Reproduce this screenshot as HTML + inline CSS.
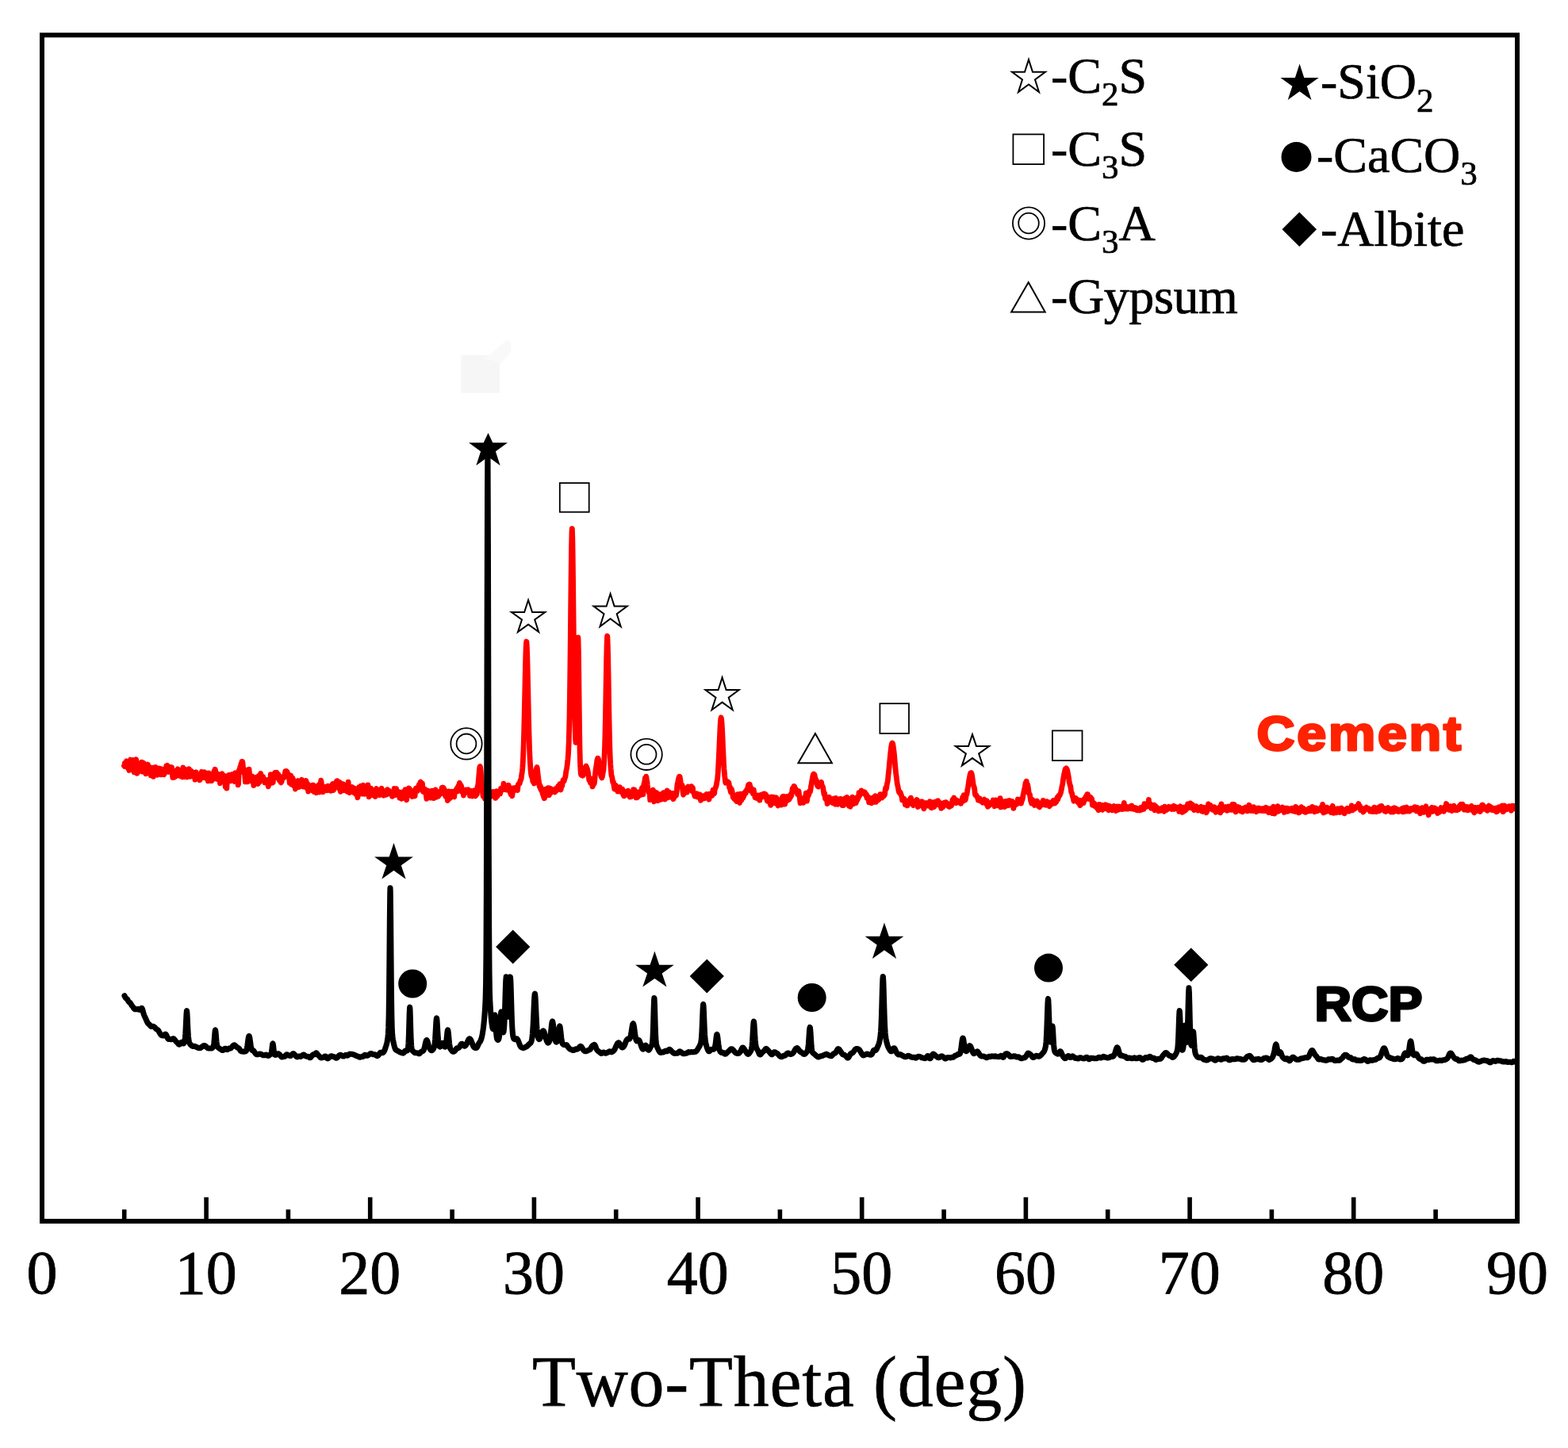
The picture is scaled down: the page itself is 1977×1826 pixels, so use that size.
<!DOCTYPE html>
<html lang="en"><head><meta charset="utf-8"><title>XRD patterns of Cement and RCP</title>
<style>html,body{margin:0;padding:0;background:#fff}body{width:1977px;height:1826px;overflow:hidden}svg{display:block}text{font-family:"Liberation Serif","DejaVu Serif",serif;fill:#000;stroke:#000;stroke-width:.7px;font-kerning:none}.lg{font-size:64px}.sub{font-size:43px}.tk{font-size:78px;text-anchor:middle;stroke-width:.8px}.ax{font-size:90px;stroke-width:.6px}.bl{font-family:"Liberation Sans","DejaVu Sans",sans-serif;font-weight:bold;font-size:62px;stroke-linejoin:round}.o{fill:#fff;stroke:#000;stroke-width:1.8px}</style></head><body>
<svg width="1977" height="1826" viewBox="0 0 1977 1826">
<rect width="1977" height="1826" fill="#fff"/>
<rect x="581.5" y="448" width="48.5" height="47.5" fill="#f6f6f6"/>
<path d="M612 452 L640 428 Q646 432 644 442 Q640 452 630 458 Z" fill="#f9f9f9"/>
<path d="M156.50 965.8L156.92 966.4L157.34 962.5L157.76 963.4L158.18 965.3L158.60 963.6L159.02 961.4L159.44 959.8L159.86 964.8L160.28 965.9L160.70 964.0L161.12 961.9L161.54 968.8L161.96 967.0L162.38 966.4L162.80 971.4L163.22 965.6L163.64 959.6L164.06 959.3L164.48 958.1L164.90 965.6L165.32 964.4L165.74 963.8L166.16 966.4L166.58 961.9L167 963.1L167.42 958.5L167.84 959.7L168.26 962.9L168.68 971.8L169.10 973.7L169.52 968.5L169.94 968.8L170.36 967.5L170.78 967.3L171.20 962.5L171.62 957.7L172.04 959.0L172.46 968.6L172.88 975.3L173.30 970.2L173.72 968.1L174.14 973.4L174.56 970.5L174.98 968.4L175.40 968.2L175.82 966.9L176.24 964.6L176.66 962.9L177.08 967.6L177.50 969.4L177.92 971.3L178.34 965.8L178.76 961.1L179.18 967.4L179.60 973.2L180.02 967.8L180.44 963.4L180.86 961.9L181.28 962.9L181.70 964.8L182.12 966.0L182.54 972.0L182.96 969.8L183.38 970.8L183.80 975.8L184.22 975.7L184.64 970.8L185.06 971.0L185.48 971.8L185.90 967.4L186.32 964.0L186.74 970.6L187.16 973.8L187.58 971.1L188 966.9L188.42 967.3L188.84 967.3L189.26 969.9L189.68 976.0L190.10 977.8L190.52 975.1L190.94 973.9L191.36 973.3L191.78 971.1L192.20 969.4L192.62 968.2L193.04 972.5L193.46 979.4L193.88 976.1L194.30 970.3L194.72 967.9L195.14 968.0L195.56 971.7L195.98 971.2L196.40 967.4L196.82 970.6L197.24 971.8L197.66 976.0L198.08 975.9L198.50 977.2L198.92 972.0L199.34 970.8L199.76 973.9L200.18 976.5L200.60 973.8L201.02 968.9L201.44 971.3L201.86 971.8L202.28 970.1L202.70 971.7L203.12 976.9L203.54 972.1L203.96 969.9L204.38 973.7L204.80 973.6L205.22 973.5L205.64 975.8L206.06 975.8L206.48 975.8L206.90 976.8L207.32 974.2L207.74 970.7L208.16 970.3L208.58 970.9L209 971.6L209.42 967.4L209.84 965.6L210.26 969.4L210.68 966.3L211.10 965.4L211.52 971.3L211.94 971.8L212.36 973.5L212.78 970.8L213.20 967.5L213.62 967.3L214.04 969.9L214.46 971.0L214.88 970.1L215.30 969.9L215.72 968.1L216.14 969.8L216.56 967.5L216.98 972.0L217.40 977.4L217.82 980.5L218.24 979.4L218.66 972.0L219.08 976.5L219.50 980.3L219.92 978.0L220.34 973.0L220.76 976.8L221.18 979.3L221.60 972.3L222.02 975.7L222.44 978.0L222.86 974.3L223.28 974.5L223.70 970.7L224.12 969.8L224.54 971.2L224.96 974.4L225.38 975.9L225.80 976.9L226.22 972.9L226.64 974.7L227.06 978.7L227.48 976.6L227.90 972.2L228.32 975.3L228.74 974.9L229.16 976.5L229.58 978.3L230 979.9L230.42 975.0L230.84 967.9L231.26 969.6L231.68 976.1L232.10 977.0L232.52 979.6L232.94 977.2L233.36 975.0L233.78 977.5L234.20 972.1L234.62 970.6L235.04 978.1L235.46 972.9L235.88 977.2L236.30 980.0L236.72 975.9L237.14 972.0L237.56 975.9L237.98 971.0L238.40 969.8L238.82 974.5L239.24 979.0L239.66 979.4L240.08 979.2L240.50 975.9L240.92 974.2L241.34 972.4L241.76 975.1L242.18 978.0L242.60 977.1L243.02 977.5L243.44 974.9L243.86 974.4L244.28 976.3L244.70 977.2L245.12 979.2L245.54 980.6L245.96 983.1L246.38 978.4L246.80 975.2L247.22 973.7L247.64 977.1L248.06 978.9L248.48 975.9L248.90 977.5L249.32 979.8L249.74 977.6L250.16 977.1L250.58 980.6L251 979.9L251.42 980.9L251.84 983.7L252.26 982.8L252.68 977.7L253.10 976.3L253.52 978.2L253.94 975.9L254.36 973.3L254.78 980.3L255.20 980.6L255.62 979.6L256.04 976.9L256.46 980.7L256.88 977.9L257.30 975.9L257.72 973.6L258.14 976.2L258.56 977.5L258.98 978.4L259.40 980.2L259.82 980.7L260.24 981.6L260.66 977.4L261.08 975.2L261.50 978.6L261.92 982.6L262.34 984.8L262.76 981.3L263.18 974.9L263.60 980.1L264.02 984.5L264.44 980.6L264.86 978.1L265.28 979.2L265.70 978.8L266.12 981.0L266.54 981.8L266.96 984.7L267.38 982.0L267.80 978.6L268.22 981.8L268.64 982.7L269.06 978.3L269.48 975.0L269.90 972.6L270.32 979.2L270.74 976.2L271.16 970.1L271.58 971.3L272 977.9L272.42 982.0L272.84 981.1L273.26 980.1L273.68 975.4L274.10 975.5L274.52 982.0L274.94 982.8L275.36 982.2L275.78 983.3L276.20 978.2L276.62 979.2L277.04 985.3L277.46 987.7L277.88 984.6L278.30 985.3L278.72 980.8L279.14 980.7L279.56 978.5L279.98 975.6L280.40 980.8L280.82 984.1L281.24 982.0L281.66 983.2L282.08 985.7L282.50 979.7L282.92 978.2L283.34 981.4L283.76 984.7L284.18 992.0L284.60 990.4L285.02 985.5L285.44 987.8L285.86 994.1L286.28 985.4L286.70 981.1L287.12 983.6L287.54 984.7L287.96 982.0L288.38 977.4L288.80 977.2L289.22 981.6L289.64 979.8L290.06 977.3L290.48 984.0L290.90 984.8L291.32 981.2L291.74 980.4L292.16 980.9L292.58 977.8L293 976.5L293.42 979.1L293.84 977.4L294.26 979.3L294.68 976.9L295.10 979.3L295.52 982.7L295.94 985.5L296.36 978.2L296.78 974.7L297.20 976.1L297.62 976.0L298.04 978.3L298.46 982.5L298.88 985.5L299.30 986.1L299.72 983.2L300.14 989.9L300.56 988.5L300.98 978.5L301.40 971.5L301.82 974.7L302.24 973.4L302.66 967.6L303.08 968.6L303.50 966.5L303.92 963.3L304.34 963.3L304.76 962.4L305 960.4L305.18 960.4L305.60 960.4L306.02 962.4L306.44 967.2L306.86 971.2L307.28 970.4L307.70 969.7L308.12 975.4L308.54 975.0L308.96 980.5L309.38 985.9L309.80 981.5L310.22 976.1L310.64 977.0L311.06 983.8L311.48 983.9L311.90 985.0L312.32 985.8L312.74 983.0L313.16 980.3L313.58 975.7L314 970.1L314.42 974.4L314.84 980.6L315.26 982.8L315.68 984.1L316.10 983.5L316.52 984.5L316.94 985.0L317.36 981.1L317.78 979.7L318.20 979.1L318.62 984.9L319.04 985.4L319.46 987.2L319.88 990.5L320.30 989.0L320.72 985.8L321.14 984.7L321.56 980.7L321.98 983.8L322.40 983.1L322.82 980.5L323.24 985.7L323.66 984.1L324.08 985.2L324.50 984.8L324.92 988.4L325.34 988.5L325.76 981.4L326.18 978.4L326.60 983.1L327.02 986.4L327.44 983.5L327.86 982.5L328.28 982.1L328.70 975.4L329.12 977.7L329.54 979.6L329.96 983.0L330.38 981.3L330.80 979.8L331.22 980.6L331.64 979.5L332.06 982.2L332.48 982.0L332.90 982.0L333.32 983.1L333.74 986.8L334.16 986.1L334.58 987.0L335 986.1L335.42 983.6L335.84 986.2L336.26 987.0L336.68 985.9L337.10 983.6L337.52 984.2L337.94 989.3L338.36 991.8L338.78 985.4L339.20 985.4L339.62 985.2L340.04 987.5L340.46 988.1L340.88 985.5L341.30 976.6L341.72 978.7L342.14 980.6L342.56 982.2L342.98 981.3L343.40 982.2L343.82 987.1L344.24 986.8L344.66 976.4L345.08 979.0L345.50 982.1L345.92 980.8L346.34 977.7L346.76 974.3L347.18 975.2L347.60 979.3L348.02 980.0L348.44 976.7L348.86 974.2L349 975.3L349.28 976.0L349.70 977.6L350.12 977.1L350.54 976.3L350.96 977.4L351.38 977.3L351.80 982.5L352.22 984.0L352.64 980.2L353.06 981.6L353.48 981.7L353.90 986.3L354.32 986.9L354.74 984.8L355.16 985.5L355.58 982.2L356 979.9L356.42 979.7L356.84 980.2L357.26 979.8L357.68 979.4L358.10 978.3L358.52 980.3L358.94 979.8L359.36 975.0L359.78 972.8L360.20 976.7L360.62 977.9L361 974.6L361.04 972.3L361.46 975.9L361.88 977.8L362.30 973.7L362.72 976.5L363.14 977.0L363.56 977.2L363.98 979.6L364.40 978.7L364.82 983.2L365.24 987.3L365.66 985.0L366.08 980.6L366.50 977.9L366.92 978.4L367.34 981.2L367.76 989.2L368.18 986.8L368.60 982.6L369.02 981.3L369.44 982.6L369.86 984.4L370.28 985.6L370.70 991.1L371.12 987.0L371.54 985.8L371.96 990.3L372.38 995.0L372.80 994.0L373.22 989.3L373.64 989.5L374.06 990.4L374.48 991.2L374.90 989.5L375.32 985.3L375.74 984.6L376.16 987.3L376.58 987.6L377 992.6L377.42 990.1L377.84 986.3L378.26 987.1L378.68 987.8L379.10 990.0L379.52 991.1L379.94 984.6L380.36 983.2L380.78 988.9L381.20 990.3L381.62 991.2L382.04 991.8L382.46 991.3L382.88 991.9L383.30 988.8L383.72 988.9L384.14 986.9L384.56 987.1L384.98 992.0L385.40 991.1L385.82 984.3L386.24 985.8L386.66 991.8L387.08 994.0L387.50 990.0L387.92 988.5L388.34 989.5L388.76 998.2L389.18 996.7L389.60 995.7L390.02 995.7L390.44 995.9L390.86 994.3L391.28 992.2L391.70 993.9L392.12 994.3L392.54 995.1L392.96 990.5L393.38 990.3L393.80 994.8L394.22 996.9L394.64 993.2L395.06 990.0L395.48 990.6L395.90 992.7L396.32 998.7L396.74 998.7L397.16 997.7L397.58 994.3L398 992.6L398.42 997.5L398.84 999.7L399.26 996.4L399.68 994.5L400.10 995.7L400.52 993.6L400.94 994.0L401.36 990.4L401.78 989.8L402.20 994.0L402.62 996.7L403.04 999.0L403.46 994.3L403.88 991.5L404.30 987.4L404.72 984.1L405.14 986.0L405.56 991.3L405.98 991.3L406.40 997.0L406.82 998.7L407.24 996.0L407.66 998.6L408.08 997.2L408.50 997.1L408.92 995.1L409.34 995.3L409.76 992.3L410.18 994.0L410.60 992.7L411.02 993.4L411.44 995.6L411.86 994.9L412.28 994.5L412.70 996.7L413.12 995.5L413.54 991.1L413.96 994.7L414.38 995.6L414.80 992.6L415.22 992.8L415.64 991.8L416.06 996.6L416.48 994.6L416.90 994.8L417.32 997.3L417.74 995.3L418.16 994.4L418.58 990.6L419 989.4L419.42 988.6L419.84 992.6L420.26 996.6L420.68 996.0L421.10 994.9L421.52 989.7L421.94 988.0L422.36 989.6L422.78 991.5L423.20 990.3L423.62 988.2L424.04 987.4L424.46 985.2L424.88 985.4L425 987.1L425.30 984.6L425.72 986.9L426.14 991.0L426.56 990.6L426.98 991.3L427.40 991.9L427.82 994.8L428.24 987.2L428.66 986.8L429.08 991.2L429.50 998.3L429.92 996.9L430.34 992.9L430.76 991.0L431.18 994.7L431.60 994.8L432.02 991.4L432.44 988.7L432.86 990.5L433.28 995.0L433.70 996.6L434.12 995.8L434.54 993.2L434.96 990.0L435.38 992.7L435.80 992.6L436.22 995.2L436.64 996.4L437.06 993.2L437.48 993.2L437.90 998.2L438.32 997.3L438.74 991.2L439.16 986.2L439.58 993.4L440 999.1L440.42 999.6L440.84 994.7L441.26 993.2L441.68 995.1L442.10 997.1L442.52 993.6L442.94 993.9L443.36 993.7L443.78 994.7L444.20 992.5L444.62 995.5L445.04 995.3L445.46 996.2L445.88 999.3L446.30 999.0L446.72 994.1L447.14 998.7L447.56 999.4L447.98 998.3L448.40 1001.3L448.82 1000.5L449.24 1000.6L449.66 995.9L450.08 995.4L450.50 1002.3L450.92 1005.8L451.34 1002.6L451.76 1000.2L452.18 995.4L452.60 992.7L453.02 996.8L453.44 999.6L453.86 992.8L454.28 992.0L454.70 991.3L455.12 996.7L455.54 998.9L455.96 994.5L456.38 996.6L456.80 1001.1L457.22 997.5L457.64 992.5L458.06 990.3L458.48 991.1L458.90 997.2L459.32 997.6L459.74 1001.3L460.16 1001.0L460.58 996.5L461 996.7L461.42 1000.1L461.84 999.7L462.26 997.5L462.68 994.5L463.10 998.2L463.52 994.1L463.94 990.0L464.36 994.6L464.78 1001.2L465.20 1004.8L465.62 998.4L466.04 996.6L466.46 1003.7L466.88 1001.0L467.30 996.9L467.72 994.2L468.14 996.1L468.56 1001.8L468.98 998.9L469.40 996.5L469.82 998.4L470.24 1002.5L470.66 999.5L471.08 1000.6L471.50 1000.7L471.92 999.2L472.34 997.5L472.76 1001.9L473.18 1004.6L473.60 999.8L474.02 995.1L474.44 994.6L474.86 998.1L475.28 998.6L475.70 998.7L476.12 997.8L476.54 995.9L476.96 1000.5L477.38 1000.9L477.80 999.9L478.22 1001.2L478.64 1002.7L479.06 1000.0L479.48 998.5L479.90 1001.8L480.32 998.8L480.74 995.5L481.16 994.3L481.58 997.0L482 996.1L482.42 997.7L482.84 1000.7L483.26 1001.6L483.68 1003.3L484.10 1001.5L484.52 998.7L484.94 998.1L485.36 998.8L485.78 1001.4L486.20 1000.4L486.62 999.8L487.04 1002.2L487.46 1000.7L487.88 997.3L488.30 995.6L488.72 1000.1L489.14 1001.3L489.56 1000.1L489.98 998.1L490.40 997.0L490.82 998.9L491.24 1000.5L491.66 1000.0L492.08 999.3L492.50 999.1L492.92 1001.0L493.34 1000.6L493.76 999.3L494.18 1002.7L494.60 1004.4L495.02 1003.6L495.44 1000.7L495.86 998.6L496.28 997.5L496.70 999.2L497.12 994.5L497.54 996.8L497.96 999.9L498.38 1002.7L498.80 1000.4L499.22 996.2L499.64 994.6L500.06 997.0L500.48 1000.2L500.90 1000.7L501.32 999.4L501.74 998.3L502.16 1000.3L502.58 1002.2L503 998.6L503.42 1001.5L503.84 1006.1L504.26 1003.7L504.68 1000.8L505.10 1001.5L505.52 999.4L505.94 1001.8L506.36 1007.3L506.78 1006.3L507.20 998.8L507.62 1003.3L508.04 1006.7L508.46 1001.7L508.88 1002.8L509.30 1005.1L509.72 1001.6L510.14 1001.7L510.56 999.2L510.98 995.6L511.40 999.8L511.82 1001.8L512.24 1005.7L512.66 1008.8L513.08 1004.9L513.50 1001.2L513.92 1002.2L514.34 1003.0L514.76 1002.6L515.18 996.5L515.60 994.0L516.02 994.3L516.44 1000.4L516.86 1000.7L517.28 998.3L517.70 997.5L518.12 997.4L518.54 997.1L518.96 998.4L519.38 1000.4L519.80 1004.5L520.22 1002.1L520.64 998.1L521.06 999.3L521.48 1003.7L521.90 1003.2L522.32 1002.4L522.74 1004.0L523.16 1003.9L523.58 997.1L524 994.6L524.42 994.1L524.84 998.1L525.26 997.2L525.68 995.1L526.10 995.3L526.52 997.4L526.94 995.3L527.36 994.2L527.78 994.9L528.20 989.8L528.62 989.4L529.04 994.1L529.46 989.7L529.88 986.5L530.30 986.1L530.50 987.8L530.72 990.1L531.14 990.9L531.56 990.5L531.98 988.7L532.40 987.8L532.82 992.9L533.24 998.1L533.66 998.4L534.08 997.0L534.50 998.2L534.92 997.0L535.34 996.4L535.76 994.9L536.18 997.1L536.60 999.3L537.02 1000.2L537.44 1003.8L537.86 1007.4L538.28 1005.5L538.70 1000.1L539.12 997.4L539.54 997.0L539.96 997.2L540.38 1000.2L540.80 1002.2L541.22 1002.0L541.64 1001.8L542.06 1001.4L542.48 1000.1L542.90 1000.6L543.32 1006.2L543.74 1004.8L544.16 998.7L544.58 997.1L545 998.6L545.42 1002.0L545.84 1005.8L546.26 1006.5L546.68 1006.5L547.10 1006.6L547.52 1006.2L547.94 1004.9L548.36 1003.0L548.78 999.5L549.20 996.0L549.62 1000.7L550.04 1005.3L550.46 1000.6L550.88 999.6L551.30 1002.9L551.72 1001.3L552.14 1000.6L552.56 1004.4L552.98 1003.5L553.40 1001.4L553.82 998.5L554.24 999.4L554.66 999.8L555.08 1000.5L555.50 1001.1L555.92 1000.0L556.34 997.6L556.76 996.1L557.18 993.5L557.50 996.2L557.60 996.8L558.02 994.1L558.44 993.1L558.86 993.9L559.28 993.5L559.70 996.8L560.12 997.5L560.54 995.9L560.96 998.8L561.38 1002.9L561.80 1004.3L562.22 1003.5L562.64 1000.5L563.06 999.0L563.48 999.9L563.90 1004.4L564.32 1009.5L564.74 1009.0L565.16 1008.3L565.58 1004.9L566 997.9L566.42 998.7L566.84 1001.1L567.26 1005.9L567.68 1006.5L568.10 1001.2L568.52 1001.3L568.94 1002.3L569.36 999.7L569.78 998.3L570.20 999.5L570.62 1002.0L571.04 1000.5L571.46 1003.4L571.88 1003.0L572.30 1004.5L572.72 1004.9L573.14 999.4L573.56 997.9L573.98 999.3L574.40 996.6L574.82 996.3L575.24 997.9L575.66 997.3L576.08 994.2L576.50 995.3L576.92 998.0L577.34 997.0L577.76 991.7L578.18 995.1L578.60 994.1L579.02 988.7L579.44 987.2L579.86 989.7L580.28 989.6L580.50 990.6L580.70 991.6L581.12 990.3L581.54 991.2L581.96 993.2L582.38 995.9L582.80 999.1L583.22 999.5L583.64 996.9L584.06 997.7L584.48 1003.0L584.90 1001.6L585.32 999.1L585.74 997.1L586.16 999.6L586.58 997.9L587 996.9L587.42 995.9L587.84 997.9L588.26 998.9L588.68 996.1L589.10 997.0L589.52 998.7L589.94 996.4L590.36 995.8L590.78 996.4L591.20 997.2L591.62 1000.7L592.04 1000.1L592.46 1003.5L592.88 1003.5L593.30 999.2L593.72 999.9L594.14 999.0L594.56 997.5L594.98 999.2L595.40 1001.1L595.82 1004.0L596.24 1003.7L596.66 998.9L597.08 999.6L597.50 1003.1L597.92 1002.4L598.34 996.7L598.76 1001.8L599.18 1002.7L599.60 1003.9L600.02 999.7L600.44 997.4L600.86 999.8L601.28 1001.8L601.70 997.1L602.12 991.7L602.54 993.1L602.96 988.0L603.38 983.7L603.80 978.6L604.22 972.9L604.64 968.9L605.06 966.6L605.30 966.5L605.48 967.0L605.90 969.4L606.32 973.4L606.74 980.5L607.16 988.8L607.58 993.9L608 996.0L608.42 999.0L608.84 1001.9L609.26 1004.5L609.68 1004.6L610.10 1000.3L610.52 1000.5L610.94 1005.4L611.36 1007.3L611.78 1004.0L612.20 995.7L612.62 995.0L613.04 992.7L613.46 999.9L613.88 1001.9L614.30 1001.4L614.72 1002.2L615.14 1004.5L615.56 1002.8L615.98 1004.5L616.40 1004.2L616.82 1003.4L617.24 1003.1L617.66 1001.2L618.08 999.3L618.50 1003.0L618.92 1003.9L619.34 1002.5L619.76 1004.1L620.18 1003.2L620.60 998.6L621.02 999.3L621.44 999.0L621.86 998.6L622.28 1000.3L622.70 998.7L623.12 999.4L623.54 1001.5L623.96 1002.4L624.38 1004.1L624.80 1006.4L625.22 1001.5L625.64 999.6L626.06 997.8L626.48 1001.3L626.90 1004.3L627.32 1003.2L627.74 998.7L628.16 998.9L628.58 1001.5L629 1000.1L629.42 999.5L629.84 997.4L630.26 1000.7L630.68 1000.8L631.10 997.8L631.52 994.5L631.94 994.8L632.36 995.7L632.78 995.6L633.20 994.5L633.62 994.1L634.04 995.5L634.46 995.7L634.88 989.6L635 988.2L635.30 988.8L635.72 989.8L636.14 990.1L636.56 994.1L636.98 994.7L637.40 993.6L637.82 993.2L638.24 995.0L638.66 996.1L639.08 996.0L639.50 995.0L639.92 995.9L640.34 994.5L640.76 995.8L641.18 990.1L641.60 992.1L642.02 994.4L642.44 997.1L642.86 996.2L643.28 999.6L643.70 997.3L644.12 1001.8L644.54 1000.6L644.96 998.7L645.38 1000.7L645.80 1003.9L646.22 999.6L646.64 993.9L647.06 998.3L647.48 997.1L647.90 993.8L648.32 996.0L648.74 994.2L649.16 995.6L649.58 995.8L650 994.6L650.42 995.1L650.84 993.0L651.26 993.4L651.68 992.6L652.10 993.9L652.52 996.6L652.94 992.8L653.36 989.2L653.78 989.0L654.20 988.2L654.62 988.5L655.04 988.2L655.46 987.0L655.88 985.4L656.30 983.6L656.72 983.5L657.14 982.1L657.56 978.2L657.98 975.6L658.40 972.7L658.82 968.5L659.24 961.9L659.66 953.2L660.08 942.4L660.50 928.6L660.92 912.4L661.34 894.2L661.76 874.4L662.18 854.2L662.60 835.3L663.02 820.3L663.44 811.5L663.80 809.0L663.86 809.2L664.28 813.7L664.70 824.7L665.12 840.6L665.54 859.5L665.96 879.6L666.38 899.6L666.80 917.3L667.22 932.9L667.64 945.9L668.06 955.3L668.48 962.4L668.90 968.9L669.32 973.9L669.74 977.0L670.16 978.7L670.58 980.1L671 980.8L671.42 982.2L671.84 985.3L672.26 984.3L672.68 983.7L673.10 985.2L673.52 988.0L673.94 986.1L674.36 982.4L674.78 980.2L675.20 978.1L675.62 974.5L676.04 970.3L676.46 969.0L676.88 967.9L677 967.5L677.30 968.5L677.72 971.9L678.14 976.3L678.56 979.5L678.98 982.8L679.40 985.2L679.82 989.6L680.24 991.9L680.66 989.9L681.08 992.3L681.50 994.8L681.92 992.3L682.34 994.8L682.76 997.0L683.18 994.6L683.60 996.9L684.02 1000.4L684.44 1001.8L684.86 1000.2L685.28 1003.9L685.70 1005.1L686.12 1006.7L686.54 1006.6L686.96 1004.5L687.38 1001.8L687.80 996.5L688.22 995.3L688.64 996.4L689.06 998.8L689.48 999.7L689.90 995.2L690.32 995.2L690.74 993.6L691.16 994.6L691.58 1000.3L692 1000.7L692.42 1002.7L692.84 1000.9L693.26 994.9L693.68 994.0L694.10 1000.1L694.52 997.0L694.94 994.8L695.36 997.7L695.50 997.3L695.78 995.3L696.20 995.7L696.62 997.0L697.04 997.7L697.46 998.2L697.88 996.3L698.30 996.1L698.72 998.0L699.14 998.6L699.56 999.0L699.98 996.6L700.40 995.0L700.82 994.6L701.24 997.2L701.66 993.9L702.08 994.2L702.50 993.8L702.92 995.7L703.34 995.4L703.76 991.4L704.18 991.2L704.60 991.0L705.02 994.7L705.44 992.0L705.86 988.7L706.28 990.7L706.70 994.9L707.12 995.9L707.54 993.6L707.96 989.4L708.38 989.7L708.80 991.0L709.22 987.4L709.64 985.4L710.06 983.6L710.48 983.4L710.90 985.5L711.32 984.5L711.74 982.7L712.16 981.5L712.58 980.6L713 978.8L713.42 975.4L713.84 972.4L714.26 970.2L714.68 968.5L715.10 965.1L715.52 961.5L715.94 957.8L716.36 952.9L716.78 946.0L717.20 935.8L717.62 920.9L718.04 900.8L718.46 874.4L718.88 841.2L719.30 803.0L719.72 762.2L720.14 722.9L720.56 690.5L720.98 670.9L721.30 666.7L721.40 666.8L721.82 678.7L722.24 704.4L722.66 739.5L723.08 779.4L723.50 819.4L723.92 854.9L724.34 884.3L724.76 906.8L725.18 922.4L725.60 932.3L726.02 936.3L726.44 933.2L726.86 921.5L727.28 899.1L727.70 867.7L728.12 835.0L728.54 810.7L728.90 804.0L728.96 804.4L729.38 820.8L729.80 853.0L730.22 890.4L730.64 923.4L731.06 947.1L731.48 962.1L731.90 970.3L732.32 976.0L732.74 977.1L733.16 977.6L733.58 976.2L734 976.2L734.42 977.3L734.84 978.2L735.26 977.4L735.68 975.0L736.10 972.5L736.52 972.1L736.94 970.4L737.36 969.9L737.78 968.8L738.20 967.3L738.62 966.3L739 966.0L739.04 966.9L739.46 967.3L739.88 968.2L740.30 969.1L740.72 970.8L741.14 972.4L741.56 975.1L741.98 978.0L742.40 980.9L742.82 983.8L743.24 984.5L743.66 984.6L744.08 985.7L744.50 987.5L744.92 985.6L745.34 985.3L745.76 982.1L746 982.8L746.18 985.2L746.60 987.1L747.02 991.9L747.44 991.2L747.86 985.0L748.28 983.9L748.70 986.3L749.12 988.5L749.54 986.6L749.96 982.2L750.38 977.3L750.80 973.7L751.22 969.7L751.64 967.3L752.06 964.9L752.48 961.6L752.90 958.3L753.32 956.8L753.70 956.5L753.74 956.2L754.16 956.4L754.58 958.0L755 960.3L755.42 963.0L755.84 965.8L756.26 968.8L756.68 971.8L757.10 974.2L757.52 977.5L757.94 979.0L758.36 980.0L758.78 980.9L759.20 980.1L759.62 978.2L760.04 975.4L760.46 973.2L760.88 971.1L761.30 965.9L761.72 960.1L762.14 952.1L762.56 941.0L762.98 925.6L763.40 905.7L763.82 881.4L764.24 855.6L764.66 832.2L765.08 813.7L765.50 803.3L765.70 802.0L765.92 803.9L766.34 815.0L766.76 833.8L767.18 857.7L767.60 883.5L768.02 907.4L768.44 927.4L768.86 943.5L769.28 955.0L769.70 963.5L770.12 969.3L770.54 973.7L770.96 977.9L771.38 978.9L771.80 980.4L772.22 983.6L772.64 986.2L773.06 986.2L773.48 986.4L773.90 989.8L774.32 992.6L774.74 994.9L775.16 992.8L775.58 992.3L776 991.1L776.42 990.4L776.84 994.0L777.26 995.9L777.68 993.3L778.10 992.8L778.52 994.2L778.94 998.1L779.36 997.0L779.78 997.4L780.20 996.1L780.62 996.8L781.04 994.8L781.46 992.6L781.88 997.2L782.30 998.3L782.72 994.5L783.14 996.7L783.56 997.2L783.98 996.4L784.40 996.5L784.82 995.3L785.24 999.9L785.66 1002.0L786.08 998.3L786.50 1000.4L786.92 1003.9L787.34 1001.6L787.76 998.8L788.18 998.3L788.60 1000.4L789.02 1001.2L789.44 1001.1L789.86 998.8L790.28 1002.1L790.70 1001.6L791.12 1001.8L791.54 998.9L791.96 997.1L792.38 998.0L792.80 998.3L793.22 1000.3L793.64 1003.7L794.06 1005.0L794.48 1002.6L794.90 1000.2L795.32 1000.7L795.74 1003.7L796.16 1004.7L796.58 1001.9L797 1000.6L797.42 1000.0L797.84 1002.4L798.26 1001.8L798.68 995.7L799.10 999.3L799.52 998.5L799.94 995.9L800.36 1000.4L800.78 1002.1L801.20 1001.5L801.62 1000.7L802.04 1005.9L802.46 1003.6L802.88 1002.5L803.30 1005.8L803.72 1005.4L804.14 1005.2L804.56 1003.4L804.98 999.0L805.40 1003.4L805.82 1002.1L806.24 1002.4L806.66 1002.9L807.08 1000.3L807.50 1001.5L807.92 1002.4L808.34 1000.9L808.76 999.3L809.18 994.7L809.60 993.4L810.02 994.1L810.44 998.4L810.86 1001.8L811.28 995.0L811.70 989.9L812.12 987.9L812.54 987.0L812.96 984.2L813.38 981.2L813.80 981.8L814 981.7L814.22 981.2L814.64 979.2L815.06 980.8L815.48 984.6L815.90 985.6L816.32 990.1L816.74 993.5L817.16 995.4L817.58 997.4L818 999.0L818.42 999.8L818.84 999.3L819.26 1002.5L819.68 1008.7L820.10 1007.0L820.52 1004.5L820.94 1002.9L821.36 1001.0L821.78 1002.2L822.20 1003.0L822.62 1004.0L823.04 999.4L823.46 996.1L823.88 1000.4L824.30 1006.6L824.72 1010.9L825.14 1007.4L825.56 1002.0L825.98 1001.5L826.40 1001.0L826.82 1001.7L827.24 1000.1L827.66 999.5L828.08 1003.8L828.50 1004.8L828.92 1004.3L829.34 1006.7L829.76 1009.7L830.18 1006.1L830.60 1004.3L831.02 1004.8L831.44 1001.8L831.86 1004.2L832.28 1002.5L832.70 1002.0L833.12 1005.5L833.54 1008.2L833.96 1005.1L834.38 1006.7L834.80 1005.2L835.22 1002.4L835.64 1005.0L836.06 1002.1L836.48 999.7L836.90 1000.8L837.32 1002.7L837.74 1005.0L838.16 1004.8L838.58 1008.0L839 1006.0L839.42 1002.6L839.84 1002.2L840.26 1002.7L840.68 998.0L841.10 996.9L841.52 1001.2L841.94 1005.6L842.36 1005.7L842.78 1004.7L843.20 1002.2L843.62 998.8L844.04 1000.4L844.46 1000.6L844.88 1004.9L845.30 1005.0L845.72 1004.5L846.14 1005.4L846.56 1005.5L846.98 1005.2L847.40 1004.4L847.82 1001.6L848.24 1000.4L848.66 1004.4L849.08 1007.7L849.50 1006.4L849.92 1003.6L850.34 1003.3L850.76 1001.8L851.18 1001.5L851.60 999.9L852.02 1001.2L852.44 1003.4L852.86 1001.0L853.28 997.9L853.70 992.0L854.12 988.7L854.54 987.2L854.96 985.2L855.38 982.6L855.80 981.1L856.22 979.5L856.50 980.4L856.64 980.0L857.06 979.3L857.48 981.5L857.90 984.0L858.32 987.2L858.74 988.9L859.16 992.0L859.58 993.2L860 989.9L860.42 991.9L860.84 997.4L861.26 1000.0L861.68 1002.2L862.10 1000.7L862.52 998.4L862.94 999.8L863.36 999.0L863.78 998.9L864.20 999.0L864.62 998.8L865.04 995.6L865.46 993.7L865.88 994.2L866.30 999.0L866.72 995.3L867.14 992.8L867.56 992.0L867.98 992.3L868.40 993.1L868.82 994.3L869.24 994.0L869.66 993.3L870 992.2L870.08 993.3L870.50 995.2L870.92 994.3L871.34 993.3L871.76 991.6L872.18 995.2L872.60 997.6L873.02 997.7L873.44 993.5L873.86 996.7L874.28 999.2L874.70 999.9L875.12 1000.0L875.54 1002.3L875.96 1004.1L876.38 1003.3L876.80 1002.6L877.22 1002.8L877.64 1003.1L878.06 1003.5L878.48 1001.5L878.90 1000.8L879.32 1005.0L879.74 1002.0L880.16 1002.5L880.58 1001.9L881 1002.9L881.42 1002.9L881.84 1003.9L882.26 1002.5L882.68 1002.2L883.10 1006.4L883.52 1009.3L883.94 1007.6L884.36 1005.4L884.78 1003.3L885.20 1004.9L885.62 1006.0L886.04 1005.2L886.46 1007.1L886.88 1006.4L887.30 1005.9L887.72 1004.2L888.14 1004.1L888.56 1005.8L888.98 1006.6L889.40 1005.5L889.82 1002.5L890.24 1002.5L890.66 1002.8L891.08 1001.5L891.50 1005.8L891.92 1006.1L892.34 1004.3L892.76 1003.4L893.18 1005.3L893.60 1005.5L894.02 1008.1L894.44 1004.8L894.86 1001.1L895.28 1003.2L895.70 1001.9L896.12 1001.0L896.54 1001.3L896.96 1001.7L897.38 1002.6L897.80 1003.3L898.22 1001.7L898.64 998.3L899.06 996.1L899.48 997.0L899.90 999.4L900.32 1001.0L900.74 1000.3L901.16 995.3L901.58 994.8L902 993.9L902.42 992.7L902.84 991.8L903.26 989.8L903.68 987.4L904.10 984.8L904.52 982.7L904.94 979.0L905.36 973.0L905.78 965.4L906.20 957.0L906.62 948.0L907.04 938.3L907.46 928.8L907.88 919.5L908.30 911.9L908.72 906.7L909.14 904.8L909.20 905.1L909.56 906.5L909.98 910.3L910.40 916.9L910.82 924.9L911.24 934.6L911.66 944.6L912.08 954.1L912.50 962.6L912.92 969.5L913.34 974.4L913.76 979.1L914.18 982.3L914.60 986.5L915.02 987.3L915.44 987.2L915.86 986.9L916.28 986.8L916.70 986.2L917.12 985.5L917.54 986.2L917.96 986.3L918.38 986.7L918.50 986.4L918.80 987.0L919.22 988.6L919.64 993.3L920.06 991.7L920.48 992.6L920.90 996.9L921.32 998.9L921.74 996.5L922.16 994.9L922.58 996.0L923 997.8L923.42 999.6L923.84 1002.5L924.26 1005.8L924.68 1006.0L925.10 1003.8L925.52 1005.5L925.94 1007.6L926.36 1008.1L926.78 1004.9L927.20 1003.8L927.62 1007.2L928.04 1008.7L928.46 1007.0L928.88 1010.7L929.30 1010.6L929.72 1005.2L930.14 1001.6L930.56 1002.9L930.98 1004.9L931.40 1005.5L931.82 1004.6L932.24 1011.8L932.66 1012.3L933.08 1004.8L933.50 1001.2L933.92 1004.3L934.34 1007.6L934.76 1009.4L935.18 1007.9L935.60 1003.9L936.02 1001.1L936.44 1005.0L936.86 1006.3L937.28 1004.3L937.70 1004.1L938.12 1003.4L938.54 1001.3L938.96 999.5L939.38 999.9L939.80 998.6L940.22 1000.4L940.64 998.0L941.06 997.4L941.48 995.8L941.90 995.7L942.32 994.9L942.74 994.2L943.16 991.5L943.58 989.8L944 990.8L944.42 990.5L944.84 989.1L945 989.2L945.26 989.2L945.68 991.2L946.10 992.0L946.52 994.2L946.94 997.6L947.36 996.3L947.78 996.4L948.20 997.3L948.62 997.0L949.04 997.6L949.46 1000.8L949.88 1000.5L950.30 996.0L950.72 999.2L951.14 1001.3L951.56 1002.7L951.98 1005.6L952.40 1004.8L952.82 1005.9L953.24 1004.4L953.66 1004.8L954.08 1006.5L954.50 1004.8L954.92 1004.3L955.34 1003.0L955.76 1004.0L956.18 1007.4L956.60 1006.9L957.02 1003.1L957.44 1004.2L957.86 1009.2L958.28 1004.9L958.70 1002.8L959.12 1004.1L959.54 1002.4L959.96 1002.9L960.38 1005.2L960.80 1005.1L961.22 1003.6L961.64 1004.4L962.06 1002.3L962.48 1001.2L962.90 1001.4L963 1001.5L963.32 1002.8L963.74 1002.3L964.16 1001.0L964.58 1002.0L965 1001.6L965.42 1001.8L965.84 1003.9L966.26 1006.6L966.68 1007.2L967.10 1009.5L967.52 1010.1L967.94 1007.0L968.36 1004.9L968.78 1005.2L969.20 1008.2L969.62 1011.1L970.04 1011.3L970.46 1007.5L970.88 1010.5L971.30 1013.8L971.72 1015.4L972.14 1011.3L972.56 1007.9L972.98 1005.0L973.40 1005.2L973.82 1005.2L974.24 1005.3L974.66 1005.2L975.08 1005.1L975.50 1008.3L975.92 1010.9L976.34 1011.6L976.76 1010.9L977.18 1012.8L977.60 1011.7L978.02 1006.8L978.44 1006.8L978.86 1005.8L979.28 1006.6L979.70 1009.3L980.12 1010.9L980.54 1014.7L980.96 1016.0L981.38 1012.3L981.80 1009.7L982.22 1009.3L982.64 1010.1L983.06 1010.5L983.48 1009.1L983.90 1010.4L984.32 1010.6L984.74 1013.2L985.16 1015.1L985.58 1014.7L986 1009.7L986.42 1005.2L986.84 1004.5L987.26 1006.4L987.68 1004.8L988.10 1004.4L988.52 1006.6L988.94 1007.6L989.36 1011.8L989.78 1014.1L990.20 1010.6L990.62 1008.6L991.04 1006.1L991.46 1007.7L991.88 1006.6L992.30 1004.5L992.72 1005.0L993.14 1009.3L993.56 1005.1L993.98 1004.3L994.40 1007.0L994.82 1008.2L995.24 1007.8L995.66 1006.1L996.08 1004.5L996.50 1005.8L996.92 1003.8L997.34 1001.4L997.76 1003.5L998.18 1001.4L998.60 999.7L999.02 995.4L999.44 993.7L999.86 993.7L1000.28 993.7L1000.70 994.0L1001.12 991.5L1001.54 991.9L1001.70 991.8L1001.96 993.3L1002.38 993.6L1002.80 994.3L1003.22 997.5L1003.64 997.3L1004.06 997.7L1004.48 996.4L1004.90 998.3L1005.32 1000.6L1005.74 1001.7L1006.16 1001.5L1006.58 999.7L1007 997.5L1007.42 1001.2L1007.84 1003.3L1008.26 1005.8L1008.68 1010.0L1009.10 1012.7L1009.52 1010.9L1009.94 1010.6L1010.36 1010.3L1010.78 1010.2L1011.20 1009.3L1011.62 1007.4L1012.04 1007.2L1012.46 1009.5L1012.88 1012.3L1013.30 1011.8L1013.72 1010.5L1014.14 1006.2L1014.56 1007.2L1014.98 1008.4L1015.40 1007.2L1015.82 1002.9L1016.24 1000.2L1016.66 1000.4L1017.08 1005.3L1017.50 1010.0L1017.92 1006.4L1018.34 1002.9L1018.76 1003.8L1019.18 1003.3L1019.60 1002.6L1020.02 1000.3L1020.44 997.9L1020.86 998.1L1021.28 998.8L1021.70 997.4L1022.12 995.2L1022.54 991.2L1022.96 989.8L1023.38 986.9L1023.80 984.4L1024.22 982.3L1024.64 979.5L1025.06 977.7L1025.48 976.6L1025.90 976.0L1026 976.1L1026.32 976.3L1026.74 976.6L1027.16 977.7L1027.58 980.2L1028 981.4L1028.42 982.8L1028.84 983.5L1029.26 983.9L1029.68 986.4L1030.10 989.1L1030.52 990.6L1030.94 991.0L1031.36 991.8L1031.78 992.1L1032.20 991.4L1032.62 989.7L1033.04 988.7L1033.46 987.6L1033.88 987.2L1034.30 988.1L1034.72 986.6L1035 987.1L1035.14 987.1L1035.56 986.4L1035.98 989.0L1036.40 990.2L1036.82 991.6L1037.24 992.1L1037.66 992.6L1038.08 995.9L1038.50 998.8L1038.92 1001.5L1039.34 1001.4L1039.76 1000.5L1040.18 1005.0L1040.60 1007.3L1041.02 1007.9L1041.44 1007.3L1041.86 1006.3L1042.28 1007.9L1042.70 1009.7L1043.12 1013.7L1043.54 1009.4L1043.96 1006.3L1044.38 1008.7L1044.80 1011.6L1045.22 1007.6L1045.64 1005.3L1046.06 1011.3L1046.48 1011.4L1046.90 1009.9L1047.32 1010.6L1047.74 1008.0L1048.16 1008.0L1048.58 1011.3L1049 1010.6L1049.42 1011.5L1049.84 1011.9L1050.26 1012.7L1050.68 1010.2L1051.10 1007.2L1051.52 1010.6L1051.94 1011.2L1052.36 1012.9L1052.78 1013.2L1053.20 1014.1L1053.62 1010.1L1054.04 1006.4L1054.46 1009.4L1054.88 1011.9L1055.30 1010.8L1055.72 1011.4L1056.14 1014.3L1056.56 1013.2L1056.98 1013.8L1057.40 1011.6L1057.82 1007.9L1058.24 1008.2L1058.66 1010.4L1059.08 1011.4L1059.50 1009.0L1059.92 1007.2L1060.34 1007.9L1060.76 1009.0L1061.18 1008.9L1061.60 1011.2L1062.02 1015.5L1062.44 1013.1L1062.86 1010.3L1063.28 1012.3L1063.70 1015.6L1064.12 1014.2L1064.54 1010.9L1064.96 1007.4L1065.38 1006.7L1065.80 1009.4L1066.22 1009.8L1066.64 1007.0L1067.06 1007.4L1067.48 1008.7L1067.90 1005.4L1068.32 1006.1L1068.74 1010.5L1069.16 1013.0L1069.58 1013.5L1070 1015.2L1070.42 1016.3L1070.84 1014.5L1071.26 1013.3L1071.68 1017.1L1072.10 1017.3L1072.52 1014.1L1072.94 1010.5L1073.36 1009.8L1073.78 1006.6L1074.20 1006.8L1074.62 1005.1L1075.04 1008.8L1075.46 1012.5L1075.88 1012.6L1076.30 1013.8L1076.72 1011.5L1077.14 1010.0L1077.56 1009.6L1077.98 1010.3L1078.40 1010.3L1078.82 1012.3L1079.24 1012.5L1079.66 1008.9L1080.08 1005.8L1080.50 1007.9L1080.92 1009.3L1081.34 1007.6L1081.76 1006.2L1082.18 1006.4L1082.60 1004.3L1083.02 999.7L1083.44 1003.0L1083.86 1003.1L1084.28 1001.1L1084.70 999.2L1085.12 999.4L1085.54 998.9L1085.96 996.9L1086.38 998.6L1086.70 999.4L1086.80 1000.7L1087.22 999.9L1087.64 998.6L1088.06 999.1L1088.48 1000.2L1088.90 1000.5L1089.32 1000.8L1089.74 999.3L1090.16 998.8L1090.58 999.7L1091 999.8L1091.42 1001.7L1091.84 1003.4L1092.26 1001.6L1092.68 1002.9L1093.10 1006.4L1093.52 1006.2L1093.94 1006.0L1094.36 1004.6L1094.78 1005.0L1095.20 1008.1L1095.62 1011.8L1096.04 1009.6L1096.46 1006.4L1096.88 1009.5L1097.30 1011.8L1097.72 1010.5L1098.14 1007.5L1098.56 1009.9L1098.98 1012.8L1099.40 1009.2L1099.82 1008.8L1100.24 1007.1L1100.66 1005.9L1101.08 1008.1L1101.50 1011.4L1101.92 1011.1L1102.34 1007.4L1102.76 1006.2L1103.18 1004.6L1103.60 1003.7L1104.02 1008.3L1104.44 1011.4L1104.86 1010.4L1105.28 1007.6L1105.70 1009.2L1106 1008.8L1106.12 1006.3L1106.54 1005.6L1106.96 1005.5L1107.38 1007.3L1107.80 1008.7L1108.22 1004.7L1108.64 1003.8L1109.06 1006.6L1109.48 1005.1L1109.90 1001.6L1110.32 1001.9L1110.74 1002.6L1111.16 1003.5L1111.58 1005.3L1112 1006.0L1112.42 1004.2L1112.84 1003.1L1113.26 1002.3L1113.68 1004.3L1114.10 1004.2L1114.52 1001.1L1114.94 1000.3L1115.36 1002.7L1115.78 1000.5L1116.20 996.1L1116.62 993.8L1117.04 994.6L1117.46 994.7L1117.88 991.7L1118.30 989.3L1118.72 987.2L1119.14 985.5L1119.56 982.4L1119.98 977.8L1120.40 974.1L1120.82 970.0L1121.24 965.5L1121.66 960.9L1122.08 956.7L1122.50 952.3L1122.92 948.3L1123.34 944.7L1123.76 941.3L1124.18 939.0L1124.60 937.4L1125 937.0L1125.02 937.1L1125.44 937.4L1125.86 938.8L1126.28 941.8L1126.70 944.7L1127.12 948.0L1127.54 952.0L1127.96 957.1L1128.38 962.1L1128.80 966.9L1129.22 971.2L1129.64 975.1L1130.06 978.8L1130.48 981.6L1130.90 985.4L1131.32 988.8L1131.74 990.2L1132.16 992.2L1132.58 994.5L1133 996.8L1133.42 998.8L1133.84 998.3L1134.26 1000.1L1134.68 998.8L1135.10 999.1L1135.52 1000.2L1135.94 1001.7L1136.36 1002.6L1136.78 1004.4L1137.20 1006.0L1137.62 1008.9L1138.04 1007.5L1138.46 1006.4L1138.88 1007.9L1139.30 1009.1L1139.72 1008.2L1140.14 1007.3L1140.56 1009.0L1140.98 1012.4L1141.40 1014.8L1141.82 1014.8L1142.24 1014.2L1142.66 1014.3L1143.08 1012.9L1143.50 1013.9L1143.92 1015.9L1144.34 1015.8L1144.76 1014.5L1145.18 1011.4L1145.60 1010.4L1146.02 1009.6L1146.44 1011.5L1146.86 1009.7L1147.28 1007.8L1147.70 1009.3L1148.12 1009.7L1148.54 1006.1L1148.96 1007.8L1149.38 1012.5L1149.80 1012.4L1150.22 1010.7L1150.64 1009.8L1151.06 1014.7L1151.48 1015.6L1151.90 1013.5L1152.32 1011.0L1152.74 1013.5L1153.16 1014.8L1153.58 1012.4L1154 1011.5L1154.42 1011.9L1154.84 1013.3L1155.26 1012.4L1155.68 1010.9L1156.10 1008.5L1156.52 1009.2L1156.94 1014.8L1157.36 1017.5L1157.78 1017.0L1158.20 1016.3L1158.62 1013.1L1159.04 1013.0L1159.46 1013.9L1159.88 1014.4L1160.30 1015.6L1160.72 1011.4L1161.14 1011.0L1161.56 1011.8L1161.98 1012.3L1162.40 1013.3L1162.82 1010.9L1163.24 1015.2L1163.66 1016.5L1164.08 1016.1L1164.50 1018.6L1164.92 1019.8L1165.34 1016.5L1165.76 1015.8L1166.18 1015.5L1166.60 1014.8L1167.02 1012.7L1167.44 1012.5L1167.86 1014.3L1168.28 1014.0L1168.70 1016.1L1169.12 1016.0L1169.54 1014.0L1169.96 1014.6L1170.38 1014.5L1170.80 1014.8L1171.22 1016.4L1171.64 1015.2L1172.06 1013.3L1172.48 1010.8L1172.90 1013.0L1173.32 1011.4L1173.74 1013.7L1174.16 1018.6L1174.58 1018.8L1175 1014.0L1175.42 1011.8L1175.84 1013.9L1176.26 1014.0L1176.68 1013.8L1177.10 1012.8L1177.52 1016.8L1177.94 1017.3L1178.36 1012.1L1178.78 1011.4L1179.20 1012.9L1179.62 1014.0L1180.04 1011.1L1180.46 1013.3L1180.88 1013.5L1181.30 1013.1L1181.72 1013.8L1182.14 1009.9L1182.56 1009.7L1182.98 1012.3L1183.40 1015.0L1183.82 1013.6L1184.24 1012.8L1184.66 1014.4L1185.08 1013.2L1185.50 1012.5L1185.92 1013.6L1186.34 1016.8L1186.76 1019.3L1187.18 1014.3L1187.60 1014.1L1188.02 1014.0L1188.44 1014.8L1188.86 1017.8L1189.28 1017.4L1189.70 1015.9L1190.12 1013.2L1190.54 1012.4L1190.96 1013.9L1191.38 1013.4L1191.80 1013.2L1192.22 1014.2L1192.64 1011.6L1193.06 1012.3L1193.48 1015.0L1193.90 1014.9L1194.32 1014.7L1194.74 1013.2L1195.16 1014.3L1195.58 1013.9L1196 1016.7L1196.42 1016.7L1196.84 1016.4L1197.26 1017.4L1197.68 1015.1L1198.10 1013.7L1198.52 1016.4L1198.94 1016.1L1199.36 1016.2L1199.78 1015.2L1200.20 1014.9L1200.62 1011.1L1201.04 1008.7L1201.46 1009.3L1201.88 1011.3L1202.30 1007.4L1202.72 1006.0L1203.14 1007.6L1203.56 1010.7L1203.98 1011.0L1204.40 1009.6L1204.82 1011.2L1205.24 1011.7L1205.66 1012.6L1206 1011.5L1206.08 1009.0L1206.50 1009.3L1206.92 1009.6L1207.34 1010.4L1207.76 1010.3L1208.18 1010.4L1208.60 1011.3L1209.02 1011.1L1209.44 1011.5L1209.86 1010.7L1210.28 1010.6L1210.70 1012.5L1211.12 1013.4L1211.54 1013.4L1211.96 1011.8L1212.38 1010.0L1212.80 1009.9L1213.22 1008.6L1213.64 1005.4L1214.06 1006.6L1214.48 1010.2L1214.90 1007.1L1215.32 1002.7L1215.74 1005.3L1216.16 1006.0L1216.58 1005.4L1217 1008.9L1217.42 1007.9L1217.84 1005.3L1218.26 1002.9L1218.68 1002.1L1219.10 1001.1L1219.52 998.4L1219.94 995.2L1220.36 993.4L1220.78 991.1L1221.20 988.1L1221.62 984.7L1222.04 982.5L1222.46 980.1L1222.88 978.0L1223.30 976.1L1223.72 974.8L1224.14 974.7L1224.20 974.7L1224.56 974.5L1224.98 975.5L1225.40 977.0L1225.82 979.2L1226.24 982.4L1226.66 985.5L1227.08 989.0L1227.50 990.3L1227.92 991.5L1228.34 993.6L1228.76 994.9L1229.18 1000.2L1229.60 1002.0L1230.02 1002.8L1230.44 1003.1L1230.86 1002.7L1231.28 1003.7L1231.70 1004.0L1232.12 1005.1L1232.54 1006.3L1232.96 1006.4L1233.38 1009.1L1233.80 1007.7L1234.22 1008.8L1234.64 1007.4L1235.06 1006.7L1235.48 1009.3L1235.90 1010.0L1236.32 1009.5L1236.74 1009.4L1237.16 1009.3L1237.58 1010.5L1238 1010.0L1238.42 1011.2L1238.84 1012.1L1239.26 1008.9L1239.68 1008.8L1240.10 1009.0L1240.52 1008.5L1240.94 1008.2L1241.36 1010.3L1241.78 1011.6L1242.20 1010.6L1242.62 1009.3L1243.04 1012.6L1243.46 1013.8L1243.88 1012.0L1244.30 1009.8L1244.72 1011.3L1245.14 1016.6L1245.56 1017.2L1245.98 1013.9L1246.40 1011.9L1246.82 1014.4L1247.24 1014.8L1247.66 1015.5L1248.08 1013.0L1248.50 1013.0L1248.92 1013.0L1249.34 1013.6L1249.76 1012.6L1250.18 1013.8L1250.60 1012.1L1251.02 1011.3L1251.44 1013.4L1251.86 1012.3L1252.28 1009.0L1252.70 1011.5L1253.12 1013.3L1253.54 1014.9L1253.96 1016.8L1254.38 1013.3L1254.80 1011.5L1255.22 1008.8L1255.64 1008.8L1256.06 1011.0L1256.48 1012.5L1256.90 1013.3L1257.32 1015.0L1257.74 1015.9L1258.16 1015.8L1258.58 1014.1L1259 1013.8L1259.42 1012.7L1259.84 1014.0L1260.26 1014.2L1260.68 1010.6L1261.10 1006.6L1261.52 1011.8L1261.94 1017.9L1262.36 1014.7L1262.78 1012.5L1263.20 1014.2L1263.62 1016.1L1264.04 1014.9L1264.46 1012.6L1264.88 1010.8L1265.30 1011.4L1265.72 1011.4L1266.14 1014.6L1266.56 1017.6L1266.98 1016.4L1267.40 1012.6L1267.82 1010.5L1268.24 1010.7L1268.66 1014.0L1269.08 1015.7L1269.50 1015.9L1269.92 1014.1L1270.34 1010.4L1270.76 1010.0L1271.18 1014.0L1271.60 1014.1L1272.02 1015.4L1272.44 1010.2L1272.86 1009.6L1273.28 1011.3L1273.70 1014.0L1274.12 1014.8L1274.54 1013.5L1274.96 1013.5L1275.38 1011.2L1275.80 1010.9L1276.22 1010.5L1276.64 1011.2L1277.06 1012.2L1277.48 1015.9L1277.90 1019.3L1278.32 1013.1L1278.74 1012.7L1279.16 1014.6L1279.58 1014.8L1280 1015.3L1280.42 1012.7L1280.84 1013.4L1281.26 1012.6L1281.68 1014.1L1282.10 1013.9L1282.52 1012.9L1282.94 1010.5L1283.36 1008.0L1283.78 1009.6L1284.20 1012.6L1284.62 1012.5L1285.04 1012.3L1285.46 1010.3L1285.88 1012.4L1286.30 1012.0L1286.72 1007.9L1287.14 1010.9L1287.56 1013.1L1287.98 1009.9L1288.40 1010.0L1288.82 1008.9L1289.24 1007.8L1289.66 1004.7L1290.08 1002.1L1290.50 1000.6L1290.92 998.7L1291.34 996.2L1291.76 994.4L1292.18 993.3L1292.60 990.1L1293.02 987.5L1293.44 986.6L1293.86 986.2L1294.20 985.2L1294.28 986.5L1294.70 987.9L1295.12 989.0L1295.54 989.3L1295.96 990.7L1296.38 993.7L1296.80 996.8L1297.22 1000.1L1297.64 1001.1L1298.06 1001.5L1298.48 1002.2L1298.90 1005.0L1299.32 1007.9L1299.74 1010.4L1300.16 1010.9L1300.58 1013.0L1301 1012.9L1301.42 1009.7L1301.84 1008.5L1302.26 1009.6L1302.68 1010.5L1303.10 1011.0L1303.52 1013.5L1303.94 1014.9L1304.36 1015.5L1304.78 1013.8L1305.20 1012.6L1305.62 1012.9L1306.04 1011.9L1306.46 1012.5L1306.88 1012.7L1307.30 1013.3L1307.72 1010.0L1308.14 1014.0L1308.56 1015.7L1308.98 1014.5L1309.40 1014.6L1309.82 1015.3L1310.24 1017.5L1310.66 1017.8L1311.08 1016.1L1311.50 1016.6L1311.92 1014.1L1312.34 1014.6L1312.76 1014.2L1313.18 1012.2L1313.60 1013.4L1314.02 1013.5L1314.44 1014.4L1314.86 1011.7L1315.28 1009.4L1315.70 1010.5L1316.12 1013.3L1316.54 1014.7L1316.96 1014.3L1317.38 1013.3L1317.80 1014.5L1318.22 1013.3L1318.64 1013.8L1319.06 1015.3L1319.48 1012.9L1319.90 1010.7L1320.32 1013.7L1320.74 1013.8L1321.16 1013.7L1321.58 1015.2L1322 1013.6L1322.42 1014.3L1322.84 1015.6L1323.26 1016.8L1323.68 1011.8L1324.10 1012.6L1324.52 1014.3L1324.94 1014.7L1325.36 1012.4L1325.78 1012.2L1326.20 1014.2L1326.62 1012.7L1327.04 1012.5L1327.46 1012.3L1327.88 1011.7L1328.30 1009.4L1328.72 1009.8L1329.14 1011.0L1329.56 1011.9L1329.98 1013.1L1330.40 1012.5L1330.82 1011.7L1331.24 1011.1L1331.66 1011.5L1332.08 1009.1L1332.50 1007.8L1332.92 1005.8L1333.34 1006.3L1333.76 1008.3L1334.18 1006.5L1334.60 1003.8L1335.02 1004.6L1335.44 1004.0L1335.86 1002.5L1336.28 1002.7L1336.70 1001.5L1337.12 1000.5L1337.54 999.5L1337.96 997.0L1338.38 995.7L1338.80 992.9L1339.22 990.7L1339.64 989.1L1340.06 986.2L1340.48 983.1L1340.90 980.7L1341.32 978.3L1341.74 975.8L1342.16 974.1L1342.58 972.2L1343 970.4L1343.42 969.5L1343.84 969.2L1344.20 968.9L1344.26 969.3L1344.68 969.2L1345.10 969.8L1345.52 970.7L1345.94 972.5L1346.36 974.6L1346.78 976.9L1347.20 979.2L1347.62 981.8L1348.04 985.2L1348.46 987.4L1348.88 988.9L1349.30 990.7L1349.72 991.1L1350.14 994.6L1350.56 998.5L1350.98 999.3L1351.40 1000.4L1351.82 1001.2L1352.24 1004.0L1352.66 1005.0L1353.08 1006.0L1353.50 1008.4L1353.92 1010.2L1354.34 1008.7L1354.76 1006.3L1355.18 1008.4L1355.60 1009.0L1356.02 1007.0L1356.44 1006.5L1356.86 1008.4L1357.28 1009.6L1357.70 1010.0L1358.12 1009.8L1358.54 1011.1L1358.96 1011.7L1359.38 1011.4L1359.80 1011.7L1360.22 1010.2L1360.64 1009.1L1361.06 1011.6L1361.48 1015.0L1361.90 1015.7L1362.32 1009.9L1362.74 1009.6L1363.16 1010.3L1363.58 1011.2L1364 1010.5L1364.42 1011.7L1364.84 1012.3L1365.26 1010.1L1365.68 1010.8L1366.10 1012.7L1366.52 1010.7L1366.94 1007.9L1367.36 1009.9L1367.78 1007.7L1368.20 1006.7L1368.62 1005.5L1369.04 1004.5L1369.46 1004.2L1369.88 1004.7L1370.30 1002.9L1370.72 1001.8L1371.14 1002.5L1371.50 1002.7L1371.56 1001.7L1371.98 1003.8L1372.40 1004.1L1372.82 1006.0L1373.24 1007.6L1373.66 1007.3L1374.08 1007.3L1374.50 1006.6L1374.92 1006.0L1375.34 1005.7L1375.76 1008.1L1376.18 1008.2L1376.60 1007.4L1377.02 1011.9L1377.44 1015.3L1377.86 1015.3L1378.28 1015.6L1378.70 1013.7L1379.12 1012.7L1379.54 1014.1L1379.96 1013.9L1380.38 1013.9L1380.80 1016.8L1381.22 1016.3L1381.64 1015.1L1382.06 1016.0L1382.48 1016.6L1382.90 1018.4L1383.32 1019.3L1383.74 1015.9L1384.16 1015.2L1384.58 1020.0L1385 1021.6L1385.42 1016.9L1385.84 1014.4L1386.26 1014.4L1386.68 1016.5L1387.10 1017.3L1387.52 1017.4L1387.94 1018.2L1388.36 1016.1L1388.78 1015.2L1389.20 1015.8L1389.62 1020.0L1390.04 1021.2L1390.46 1020.3L1390.88 1018.0L1391.30 1019.9L1391.72 1019.7L1392.14 1019.8L1392.56 1019.2L1392.98 1017.6L1393.40 1016.5L1393.82 1014.8L1394.24 1015.9L1394.66 1016.6L1395.08 1016.1L1395.50 1018.4L1395.92 1020.2L1396.34 1017.6L1396.76 1015.8L1397.18 1016.4L1397.60 1019.3L1398.02 1021.7L1398.44 1019.9L1398.86 1017.9L1399.28 1016.6L1399.70 1018.7L1400.12 1019.6L1400.54 1018.2L1400.96 1017.9L1401.38 1017.9L1401.80 1020.4L1402.22 1021.7L1402.64 1020.6L1403.06 1019.9L1403.48 1018.7L1403.90 1017.1L1404.32 1016.7L1404.74 1017.6L1405.16 1018.7L1405.58 1019.5L1406 1021.1L1406.42 1021.7L1406.84 1022.5L1407.26 1021.0L1407.68 1019.0L1408.10 1017.9L1408.52 1017.1L1408.94 1020.4L1409.36 1018.7L1409.78 1019.0L1410.20 1021.2L1410.62 1017.8L1411.04 1017.1L1411.46 1018.0L1411.88 1017.9L1412.30 1018.9L1412.72 1019.8L1413.14 1020.2L1413.56 1019.6L1413.98 1020.0L1414.40 1019.3L1414.82 1020.6L1415.24 1020.4L1415.66 1016.6L1416.08 1017.6L1416.50 1017.9L1416.92 1013.9L1417.34 1012.6L1417.76 1017.2L1418.18 1018.6L1418.60 1020.1L1419.02 1019.5L1419.44 1018.9L1419.86 1018.5L1420.28 1018.5L1420.70 1017.3L1421.12 1018.1L1421.54 1020.0L1421.96 1019.5L1422.38 1019.9L1422.80 1019.2L1423.22 1018.0L1423.64 1017.8L1424.06 1019.5L1424.48 1018.4L1424.90 1018.4L1425.32 1016.8L1425.74 1018.9L1426.16 1019.6L1426.58 1017.3L1427 1015.9L1427.42 1017.9L1427.84 1018.9L1428.26 1018.0L1428.68 1018.3L1429.10 1020.3L1429.52 1019.4L1429.94 1019.0L1430.36 1020.4L1430.78 1019.3L1431.20 1018.6L1431.62 1020.1L1432.04 1019.7L1432.46 1020.3L1432.88 1018.9L1433.30 1020.2L1433.72 1021.9L1434.14 1021.2L1434.56 1020.8L1434.98 1020.9L1435.40 1021.1L1435.82 1020.2L1436.24 1020.0L1436.66 1020.3L1437.08 1022.0L1437.50 1019.4L1437.92 1019.6L1438.34 1018.4L1438.76 1020.4L1439.18 1021.2L1439.60 1019.2L1440.02 1020.9L1440.44 1018.0L1440.86 1017.3L1441.28 1018.5L1441.70 1018.0L1442.12 1020.3L1442.54 1018.7L1442.96 1013.7L1443.38 1014.3L1443.80 1016.7L1444.22 1018.1L1444.64 1016.3L1445.06 1016.4L1445.48 1017.4L1445.90 1015.7L1446.32 1015.3L1446.74 1014.0L1447.16 1016.2L1447.58 1016.0L1448 1011.3L1448.40 1008.5L1448.42 1010.1L1448.84 1013.8L1449.26 1014.2L1449.68 1015.3L1450.10 1013.4L1450.52 1013.9L1450.94 1016.8L1451.36 1019.0L1451.78 1017.6L1452.20 1016.7L1452.62 1018.5L1453.04 1019.4L1453.46 1019.7L1453.88 1018.6L1454.30 1017.8L1454.72 1017.2L1455.14 1015.1L1455.56 1018.9L1455.98 1021.7L1456.40 1020.3L1456.82 1017.1L1457.24 1016.9L1457.66 1020.3L1458.08 1019.1L1458.50 1018.9L1458.92 1019.3L1459.34 1018.6L1459.76 1020.1L1460.18 1021.8L1460.60 1020.7L1461.02 1022.7L1461.44 1021.5L1461.86 1021.0L1462.28 1021.9L1462.70 1022.4L1463.12 1022.3L1463.54 1020.9L1463.96 1019.9L1464.38 1021.9L1464.80 1019.8L1465.22 1018.7L1465.64 1021.0L1466.06 1021.2L1466.48 1020.1L1466.90 1020.2L1467.32 1021.9L1467.74 1023.2L1468.16 1019.9L1468.58 1017.2L1469 1018.2L1469.42 1020.0L1469.84 1019.2L1470.26 1018.9L1470.68 1021.0L1471.10 1021.2L1471.52 1020.0L1471.94 1019.7L1472.36 1018.4L1472.78 1018.0L1473.20 1017.9L1473.62 1017.4L1474.04 1019.4L1474.46 1019.4L1474.88 1018.9L1475.30 1019.6L1475.72 1019.5L1476.14 1018.1L1476.56 1017.8L1476.98 1018.7L1477.40 1020.5L1477.82 1017.6L1478.24 1019.0L1478.66 1020.3L1479.08 1017.7L1479.50 1016.8L1479.92 1016.3L1480.34 1016.7L1480.76 1020.3L1481.18 1019.2L1481.60 1017.2L1482.02 1017.9L1482.44 1019.2L1482.86 1018.5L1483.28 1018.1L1483.70 1019.2L1484.12 1018.0L1484.54 1018.3L1484.96 1019.0L1485.38 1018.3L1485.80 1018.8L1486.22 1020.0L1486.64 1023.3L1487.06 1020.7L1487.48 1019.8L1487.90 1017.7L1488.32 1016.9L1488.74 1018.3L1489.16 1018.5L1489.58 1018.6L1490 1019.7L1490.42 1022.0L1490.84 1024.3L1491.26 1024.0L1491.68 1021.8L1492.10 1023.5L1492.52 1022.8L1492.94 1019.0L1493.36 1018.1L1493.78 1019.9L1494.20 1022.3L1494.62 1020.0L1495.04 1019.5L1495.46 1021.1L1495.88 1019.5L1496.30 1019.0L1496.72 1019.8L1497.14 1017.9L1497.56 1014.0L1497.98 1015.2L1498.40 1017.5L1498.82 1016.3L1499.24 1018.2L1499.66 1017.4L1500.08 1016.8L1500.50 1015.6L1500.92 1012.9L1501 1013.2L1501.34 1014.1L1501.76 1016.8L1502.18 1018.9L1502.60 1017.5L1503.02 1016.3L1503.44 1014.5L1503.86 1016.3L1504.28 1017.7L1504.70 1018.6L1505.12 1020.5L1505.54 1021.6L1505.96 1020.0L1506.38 1018.9L1506.80 1017.2L1507.22 1019.2L1507.64 1018.5L1508.06 1016.6L1508.48 1018.4L1508.90 1019.0L1509.32 1020.9L1509.74 1020.8L1510.16 1020.8L1510.58 1022.1L1511 1019.9L1511.42 1018.8L1511.84 1019.3L1512.26 1019.1L1512.68 1018.4L1513.10 1020.1L1513.52 1020.1L1513.94 1017.9L1514.36 1017.3L1514.78 1021.3L1515.20 1022.9L1515.62 1022.5L1516.04 1022.8L1516.46 1023.4L1516.88 1022.2L1517.30 1022.4L1517.72 1019.8L1518.14 1018.2L1518.56 1019.0L1518.98 1019.5L1519.40 1021.4L1519.82 1023.2L1520.24 1022.1L1520.66 1023.0L1521.08 1024.8L1521.50 1023.8L1521.92 1020.4L1522.34 1019.5L1522.76 1021.5L1523.18 1017.2L1523.60 1013.9L1524.02 1014.5L1524.44 1017.5L1524.86 1015.5L1525.28 1015.8L1525.70 1017.2L1526 1018.0L1526.12 1015.5L1526.54 1016.5L1526.96 1018.5L1527.38 1019.9L1527.80 1018.6L1528.22 1018.6L1528.64 1019.1L1529.06 1021.3L1529.48 1021.3L1529.90 1019.7L1530.32 1019.5L1530.74 1017.6L1531.16 1018.5L1531.58 1018.1L1532 1019.3L1532.42 1022.6L1532.84 1024.2L1533.26 1021.6L1533.68 1019.8L1534.10 1019.8L1534.52 1021.0L1534.94 1020.8L1535.36 1022.6L1535.78 1023.6L1536.20 1021.9L1536.62 1020.3L1537.04 1020.7L1537.46 1018.4L1537.88 1017.6L1538.30 1022.2L1538.72 1024.8L1539.14 1023.3L1539.56 1018.4L1539.98 1013.9L1540.40 1017.3L1540.82 1020.5L1541.24 1020.7L1541.66 1021.8L1542.08 1020.0L1542.50 1020.7L1542.92 1021.0L1543.34 1019.9L1543.76 1017.9L1544.18 1019.3L1544.60 1020.2L1545.02 1018.9L1545.44 1017.4L1545.86 1018.0L1546.28 1018.5L1546.70 1020.7L1547.12 1022.2L1547.54 1021.5L1547.96 1020.9L1548.38 1020.1L1548.80 1019.2L1549.22 1017.0L1549.64 1019.6L1550.06 1021.3L1550.48 1020.1L1550.90 1020.0L1551.32 1017.9L1551.74 1019.0L1552.16 1019.8L1552.58 1020.6L1553 1021.4L1553.42 1021.3L1553.84 1014.4L1554.26 1014.4L1554.68 1016.7L1555.10 1017.8L1555.52 1016.9L1555.94 1015.9L1556 1014.5L1556.36 1014.7L1556.78 1017.1L1557.20 1020.2L1557.62 1020.1L1558.04 1023.9L1558.46 1022.6L1558.88 1020.4L1559.30 1021.6L1559.72 1021.3L1560.14 1017.7L1560.56 1017.5L1560.98 1021.0L1561.40 1019.9L1561.82 1021.4L1562.24 1020.8L1562.66 1018.2L1563.08 1020.7L1563.50 1022.3L1563.92 1022.7L1564.34 1021.3L1564.76 1021.3L1565.18 1021.1L1565.60 1021.1L1566.02 1023.5L1566.44 1023.9L1566.86 1023.8L1567.28 1022.5L1567.70 1021.9L1568.12 1019.1L1568.54 1019.3L1568.96 1021.5L1569.38 1020.3L1569.80 1019.6L1570.22 1019.4L1570.64 1017.9L1571.06 1020.0L1571.48 1021.0L1571.90 1019.5L1572.32 1019.4L1572.74 1022.9L1573.16 1021.5L1573.58 1018.6L1574 1017.8L1574.42 1016.2L1574.84 1015.3L1575.26 1015.6L1575.68 1018.1L1576.10 1021.0L1576.52 1021.8L1576.94 1021.3L1577.36 1022.4L1577.78 1021.3L1578.20 1018.4L1578.62 1018.5L1579.04 1020.8L1579.46 1022.3L1579.88 1021.8L1580.30 1017.7L1580.72 1017.6L1581.14 1022.5L1581.56 1021.8L1581.98 1022.0L1582.40 1020.3L1582.82 1019.1L1583.24 1022.3L1583.66 1023.0L1584.08 1023.7L1584.50 1021.8L1584.92 1019.3L1585.34 1020.5L1585.76 1021.8L1586.18 1020.1L1586.60 1021.2L1587.02 1021.9L1587.44 1019.0L1587.86 1019.4L1588.28 1021.2L1588.70 1022.2L1589.12 1020.6L1589.54 1019.7L1589.96 1020.8L1590.38 1020.2L1590.80 1021.2L1591.22 1021.4L1591.64 1021.1L1592.06 1022.6L1592.48 1022.4L1592.90 1019.5L1593.32 1020.7L1593.74 1020.5L1594.16 1020.2L1594.58 1021.3L1595 1022.6L1595.42 1020.9L1595.84 1019.3L1596.26 1018.3L1596.68 1019.6L1597.10 1020.0L1597.52 1018.9L1597.94 1020.0L1598.36 1022.1L1598.78 1023.2L1599.20 1022.4L1599.62 1024.6L1600.04 1024.2L1600.46 1023.2L1600.88 1022.4L1601.30 1021.0L1601.72 1019.8L1602.14 1020.4L1602.56 1021.0L1602.98 1022.1L1603.40 1024.8L1603.82 1025.5L1604.24 1023.6L1604.66 1022.5L1605.08 1019.2L1605.50 1017.2L1605.92 1019.7L1606.34 1022.1L1606.76 1024.9L1607.18 1026.0L1607.60 1023.7L1608.02 1024.1L1608.44 1023.8L1608.86 1022.6L1609.28 1022.8L1609.70 1023.0L1610.12 1023.2L1610.54 1018.8L1610.96 1016.7L1611.38 1020.4L1611.80 1023.2L1612.22 1023.0L1612.64 1021.1L1613.06 1021.3L1613.48 1020.7L1613.90 1021.3L1614.32 1019.6L1614.74 1019.4L1615.16 1021.2L1615.58 1018.7L1616 1018.4L1616.42 1021.5L1616.84 1020.3L1617.26 1018.0L1617.68 1020.9L1618.10 1019.4L1618.52 1019.6L1618.94 1021.8L1619.36 1024.4L1619.78 1022.8L1620.20 1022.6L1620.62 1021.7L1621.04 1021.1L1621.46 1019.1L1621.88 1019.9L1622.30 1019.5L1622.72 1019.3L1623.14 1021.6L1623.56 1023.3L1623.98 1022.4L1624.40 1021.3L1624.82 1021.5L1625.24 1019.9L1625.66 1021.4L1626.08 1022.1L1626.50 1021.2L1626.92 1020.8L1627.34 1020.9L1627.76 1020.2L1628.18 1020.9L1628.60 1021.1L1629.02 1019.2L1629.44 1022.4L1629.86 1022.7L1630.28 1021.2L1630.70 1019.4L1631.12 1019.6L1631.54 1020.3L1631.96 1022.4L1632.38 1023.3L1632.80 1023.5L1633.22 1020.8L1633.64 1017.3L1634.06 1018.2L1634.48 1020.1L1634.90 1020.6L1635.32 1018.8L1635.74 1020.0L1636.16 1020.7L1636.58 1020.2L1637 1021.8L1637.42 1024.8L1637.84 1023.7L1638.26 1024.6L1638.68 1022.3L1639.10 1020.5L1639.52 1021.4L1639.94 1020.7L1640.36 1019.5L1640.78 1017.6L1641.20 1020.1L1641.62 1021.0L1642.04 1022.7L1642.46 1021.7L1642.88 1020.0L1643.30 1019.2L1643.72 1020.3L1644.14 1020.1L1644.56 1020.7L1644.98 1023.7L1645.40 1022.6L1645.82 1023.5L1646.24 1024.3L1646.66 1023.1L1647.08 1022.8L1647.50 1022.9L1647.92 1023.4L1648.34 1023.0L1648.76 1022.4L1649.18 1021.4L1649.60 1020.2L1650.02 1019.8L1650.44 1020.0L1650.86 1021.8L1651.28 1022.8L1651.70 1020.0L1652.12 1019.0L1652.54 1019.1L1652.96 1021.1L1653.38 1022.6L1653.80 1021.3L1654.22 1020.1L1654.64 1017.4L1655.06 1019.8L1655.48 1021.4L1655.90 1019.5L1656.32 1018.4L1656.74 1020.9L1657.16 1022.3L1657.58 1023.7L1658 1021.2L1658.42 1020.4L1658.84 1020.5L1659.26 1020.1L1659.68 1019.1L1660.10 1022.7L1660.52 1022.8L1660.94 1021.0L1661.36 1020.8L1661.78 1022.0L1662.20 1021.8L1662.62 1020.7L1663.04 1020.9L1663.46 1021.4L1663.88 1020.5L1664.30 1020.2L1664.72 1020.1L1665.14 1019.6L1665.56 1018.3L1665.98 1019.1L1666.40 1021.7L1666.82 1022.6L1667.24 1019.5L1667.66 1014.5L1668.08 1017.0L1668.50 1022.0L1668.92 1024.9L1669.34 1024.1L1669.76 1021.5L1670.18 1020.4L1670.60 1021.4L1671.02 1023.9L1671.44 1022.1L1671.86 1020.5L1672.28 1022.7L1672.70 1022.0L1673.12 1018.2L1673.54 1019.7L1673.96 1023.0L1674.38 1022.6L1674.80 1019.9L1675.22 1021.1L1675.64 1022.9L1676.06 1021.8L1676.48 1019.7L1676.90 1020.8L1677.32 1022.5L1677.74 1022.0L1678.16 1021.5L1678.58 1024.7L1679 1022.2L1679.42 1018.8L1679.84 1018.3L1680.26 1016.3L1680.68 1018.7L1681.10 1022.2L1681.52 1025.4L1681.94 1023.3L1682.36 1022.6L1682.78 1022.9L1683.20 1021.9L1683.62 1021.4L1684.04 1023.6L1684.46 1024.0L1684.88 1024.8L1685.30 1023.4L1685.72 1020.3L1686.14 1019.9L1686.56 1020.3L1686.98 1020.8L1687.40 1021.8L1687.82 1021.0L1688.24 1021.0L1688.66 1024.1L1689.08 1024.5L1689.50 1021.7L1689.92 1019.4L1690.34 1019.4L1690.76 1019.3L1691.18 1019.0L1691.60 1019.5L1692.02 1021.4L1692.44 1022.3L1692.86 1021.8L1693.28 1020.4L1693.70 1022.6L1694.12 1025.0L1694.54 1022.9L1694.96 1022.6L1695.38 1025.8L1695.80 1023.2L1696.22 1021.2L1696.64 1022.1L1697.06 1020.6L1697.48 1021.1L1697.90 1022.5L1698.32 1020.2L1698.74 1019.2L1699.16 1022.2L1699.58 1022.4L1700 1019.6L1700.42 1020.7L1700.84 1023.1L1701.26 1022.9L1701.68 1022.8L1702.10 1021.3L1702.52 1020.0L1702.94 1019.9L1703.36 1020.5L1703.78 1019.8L1704.20 1016.0L1704.62 1016.7L1705.04 1020.4L1705.46 1021.8L1705.88 1020.4L1706.30 1020.1L1706.72 1018.5L1707.14 1018.2L1707.56 1020.2L1707.98 1020.2L1708.40 1018.8L1708.82 1017.8L1709.24 1018.9L1709.66 1018.7L1710.08 1017.7L1710.50 1016.9L1710.92 1016.2L1711.34 1016.5L1711.76 1016.8L1712.18 1018.0L1712.40 1017.4L1712.60 1014.8L1713.02 1013.6L1713.44 1015.6L1713.86 1016.6L1714.28 1018.4L1714.70 1016.5L1715.12 1018.3L1715.54 1021.6L1715.96 1021.2L1716.38 1021.8L1716.80 1021.7L1717.22 1020.7L1717.64 1021.3L1718.06 1019.8L1718.48 1021.1L1718.90 1024.0L1719.32 1022.1L1719.74 1021.0L1720.16 1020.3L1720.58 1022.1L1721 1020.0L1721.42 1019.1L1721.84 1019.2L1722.26 1018.5L1722.68 1018.2L1723.10 1019.6L1723.52 1020.2L1723.94 1020.2L1724.36 1019.1L1724.78 1019.1L1725.20 1020.2L1725.62 1020.5L1726.04 1019.7L1726.46 1020.6L1726.88 1021.5L1727.30 1023.2L1727.72 1023.2L1728.14 1023.0L1728.56 1022.8L1728.98 1021.6L1729.40 1023.2L1729.82 1022.0L1730.24 1020.8L1730.66 1021.1L1731.08 1020.8L1731.50 1023.6L1731.92 1021.8L1732.34 1018.4L1732.76 1018.3L1733.18 1019.5L1733.60 1020.3L1734.02 1022.2L1734.44 1023.5L1734.86 1023.7L1735.28 1022.2L1735.70 1020.8L1736.12 1023.2L1736.54 1022.7L1736.96 1018.6L1737.38 1019.1L1737.80 1019.9L1738.22 1020.4L1738.64 1022.7L1739.06 1022.6L1739.48 1020.9L1739.90 1018.2L1740.32 1016.7L1740.74 1018.1L1741.16 1018.8L1741.58 1018.0L1742 1016.4L1742.42 1017.3L1742.84 1019.8L1743.26 1021.1L1743.68 1020.4L1744.10 1020.5L1744.52 1020.9L1744.94 1021.7L1745.36 1022.6L1745.78 1020.7L1746.20 1020.4L1746.62 1019.9L1747.04 1022.7L1747.46 1023.5L1747.88 1023.3L1748.30 1021.8L1748.72 1020.3L1749.14 1019.3L1749.56 1021.6L1749.98 1021.9L1750.40 1018.5L1750.82 1021.9L1751.24 1021.0L1751.66 1021.0L1752.08 1020.1L1752.50 1020.9L1752.92 1022.3L1753.34 1022.4L1753.76 1024.0L1754.18 1022.6L1754.60 1021.9L1755.02 1020.3L1755.44 1019.8L1755.86 1020.6L1756.28 1022.7L1756.70 1024.1L1757.12 1021.4L1757.54 1018.8L1757.96 1018.7L1758.38 1018.9L1758.80 1021.1L1759.22 1020.8L1759.64 1019.3L1760.06 1020.5L1760.48 1022.7L1760.90 1022.1L1761.32 1021.0L1761.74 1022.2L1762.16 1021.9L1762.58 1020.7L1763 1022.2L1763.42 1023.6L1763.84 1021.0L1764.26 1022.1L1764.68 1021.8L1765.10 1022.3L1765.52 1022.3L1765.94 1021.7L1766.36 1021.1L1766.78 1021.4L1767.20 1022.4L1767.62 1021.4L1768.04 1019.4L1768.46 1021.8L1768.88 1023.9L1769.30 1023.4L1769.72 1021.0L1770.14 1018.7L1770.56 1021.4L1770.98 1023.3L1771.40 1023.3L1771.82 1020.3L1772.24 1019.9L1772.66 1019.9L1773.08 1019.3L1773.50 1017.9L1773.92 1019.1L1774.34 1019.9L1774.76 1021.1L1775.18 1023.0L1775.60 1020.7L1776.02 1020.7L1776.44 1022.3L1776.86 1021.5L1777.28 1022.9L1777.70 1022.0L1778.12 1019.9L1778.54 1019.6L1778.96 1020.7L1779.38 1020.8L1779.80 1020.7L1780.22 1020.5L1780.64 1021.2L1781.06 1020.0L1781.48 1019.7L1781.90 1019.7L1782.32 1018.7L1782.74 1019.6L1783.16 1019.6L1783.58 1017.6L1784 1018.0L1784.42 1021.7L1784.84 1021.1L1785.26 1020.3L1785.68 1020.8L1786.10 1022.9L1786.52 1020.5L1786.94 1018.3L1787.36 1020.2L1787.78 1019.9L1788.20 1021.1L1788.62 1021.7L1789.04 1023.2L1789.46 1022.3L1789.88 1021.5L1790.30 1024.6L1790.72 1025.8L1791.14 1022.3L1791.56 1022.7L1791.98 1022.4L1792.40 1021.2L1792.82 1018.7L1793.24 1019.5L1793.66 1022.7L1794.08 1021.7L1794.50 1021.3L1794.92 1024.3L1795.34 1024.3L1795.76 1022.3L1796.18 1019.9L1796.60 1021.2L1797.02 1022.1L1797.44 1017.6L1797.86 1016.8L1798.28 1019.3L1798.70 1022.1L1799.12 1022.1L1799.54 1022.0L1799.96 1021.6L1800.38 1022.0L1800.80 1025.0L1801.22 1027.7L1801.64 1024.5L1802.06 1023.2L1802.48 1021.9L1802.90 1023.3L1803.32 1022.1L1803.74 1021.0L1804.16 1019.8L1804.58 1019.1L1805 1019.0L1805.42 1018.3L1805.84 1019.3L1806.26 1023.4L1806.68 1023.2L1807.10 1023.0L1807.52 1021.4L1807.94 1018.9L1808.36 1019.6L1808.78 1018.9L1809.20 1019.0L1809.62 1020.3L1810.04 1021.1L1810.46 1021.1L1810.88 1020.9L1811.30 1020.5L1811.72 1021.4L1812.14 1024.1L1812.56 1025.6L1812.98 1023.7L1813.40 1021.3L1813.82 1021.8L1814.24 1023.1L1814.66 1023.6L1815.08 1024.0L1815.50 1023.6L1815.92 1021.8L1816.34 1019.5L1816.76 1018.6L1817.18 1021.7L1817.60 1021.5L1818.02 1019.4L1818.44 1019.7L1818.86 1019.4L1819.28 1020.3L1819.70 1022.4L1820.12 1021.7L1820.54 1023.2L1820.96 1020.0L1821.38 1017.9L1821.80 1019.4L1822.22 1021.3L1822.64 1018.4L1823.06 1016.1L1823.48 1013.5L1823.90 1015.0L1824 1014.2L1824.32 1015.9L1824.74 1018.1L1825.16 1017.5L1825.58 1018.2L1826 1017.8L1826.42 1018.1L1826.84 1019.8L1827.26 1021.3L1827.68 1020.4L1828.10 1019.3L1828.52 1017.5L1828.94 1016.9L1829.36 1019.3L1829.78 1020.1L1830.20 1021.2L1830.62 1022.5L1831.04 1021.7L1831.46 1019.6L1831.88 1020.4L1832.30 1020.7L1832.72 1018.8L1833.14 1016.1L1833.56 1017.7L1833.98 1020.1L1834.40 1021.2L1834.82 1019.5L1835.24 1018.7L1835.66 1021.6L1836.08 1020.7L1836.50 1019.9L1836.92 1021.2L1837.34 1021.5L1837.76 1020.1L1838.18 1018.8L1838.60 1019.2L1839.02 1020.8L1839.44 1020.3L1839.86 1019.2L1840.28 1016.3L1840.70 1016.9L1841.12 1017.4L1841.54 1016.1L1841.96 1014.2L1842.38 1016.2L1842.80 1018.9L1843.22 1017.4L1843.50 1015.4L1843.64 1014.4L1844.06 1014.3L1844.48 1016.1L1844.90 1016.1L1845.32 1017.4L1845.74 1020.1L1846.16 1021.1L1846.58 1019.8L1847 1016.9L1847.42 1018.5L1847.84 1020.7L1848.26 1019.4L1848.68 1021.4L1849.10 1021.2L1849.52 1021.3L1849.94 1019.3L1850.36 1017.5L1850.78 1018.7L1851.20 1021.7L1851.62 1019.8L1852.04 1018.5L1852.46 1019.9L1852.88 1018.1L1853.30 1019.3L1853.72 1020.8L1854.14 1021.1L1854.56 1021.0L1854.98 1018.9L1855.40 1016.4L1855.82 1019.2L1856.24 1020.2L1856.66 1020.2L1857.08 1021.4L1857.50 1021.9L1857.92 1022.0L1858.34 1024.1L1858.76 1024.8L1859.18 1021.8L1859.60 1019.2L1860.02 1018.3L1860.44 1019.4L1860.86 1018.7L1861.28 1022.5L1861.70 1022.5L1862.12 1020.4L1862.54 1020.5L1862.96 1018.6L1863.38 1018.4L1863.80 1020.2L1864.22 1019.1L1864.64 1020.0L1865.06 1021.1L1865.48 1022.9L1865.90 1022.6L1866.32 1023.5L1866.74 1022.1L1867.16 1018.8L1867.58 1016.7L1868 1016.1L1868.42 1017.4L1868.84 1015.1L1869.26 1015.8L1869.68 1015.4L1870.10 1018.1L1870.52 1020.4L1870.94 1018.8L1871.36 1018.5L1871.78 1019.2L1872.20 1019.5L1872.62 1018.0L1873.04 1019.4L1873.46 1019.4L1873.88 1017.9L1874.30 1018.7L1874.72 1021.9L1875.14 1022.2L1875.56 1020.8L1875.98 1018.8L1876.40 1018.3L1876.82 1016.8L1877.24 1016.2L1877.66 1017.9L1878.08 1018.0L1878.50 1017.0L1878.92 1017.6L1879.34 1019.6L1879.76 1018.6L1880.18 1018.4L1880.60 1021.4L1881.02 1018.5L1881.44 1018.9L1881.86 1018.9L1882.28 1020.6L1882.70 1021.1L1883.12 1021.7L1883.54 1020.1L1883.96 1019.6L1884.38 1021.9L1884.80 1020.6L1885.22 1019.6L1885.64 1019.2L1886.06 1019.0L1886.48 1021.1L1886.90 1023.7L1887.32 1023.6L1887.74 1021.8L1888.16 1021.6L1888.58 1021.2L1889 1020.3L1889.42 1022.1L1889.84 1020.2L1890.26 1017.6L1890.68 1019.4L1891.10 1019.0L1891.52 1020.3L1891.94 1021.0L1892.36 1020.0L1892.78 1021.0L1893.20 1021.4L1893.62 1017.4L1894.04 1016.1L1894.46 1018.5L1894.88 1020.6L1895.30 1023.7L1895.72 1023.0L1896.14 1021.3L1896.56 1018.9L1896.98 1016.0L1897.40 1016.4L1897.82 1018.6L1898.24 1019.7L1898.66 1019.4L1899.08 1020.2L1899.50 1020.6L1899.92 1018.8L1900.34 1018.2L1900.76 1018.6L1901.18 1020.0L1901.60 1017.6L1902.02 1020.0L1902.44 1020.1L1902.86 1016.7L1903.28 1018.5L1903.70 1020.6L1904.12 1018.6L1904.54 1018.4L1904.96 1020.1L1905.38 1022.2L1905.80 1021.1L1906.22 1018.2L1906.64 1016.3L1907.06 1016.6L1907.48 1018.1L1907.90 1016.1L1908.32 1017.8L1908.74 1019.6L1909.16 1017.9L1909.58 1018.4L1910 1019.7L1910.42 1020.0L1910.84 1018.0L1911.26 1019.0L1911.68 1019.6" fill="none" stroke="#ff0000" stroke-width="6.8" stroke-linejoin="round" stroke-linecap="round"/>
<path d="M157 1255.8L157.40 1256.6L157.80 1257.3L158.20 1258.1L158.60 1258.6L159 1259.1L159.40 1259.3L159.80 1259.6L160.20 1259.9L160.60 1260.3L161 1260.9L161.40 1261.7L161.80 1262.4L162.20 1263.1L162.60 1263.5L163 1263.8L163.40 1264.0L163.80 1264.3L164.20 1264.7L164.60 1265.4L165 1266.1L165.40 1266.8L165.80 1267.4L166.20 1268.0L166.60 1268.4L167 1268.9L167.40 1269.4L167.80 1270.0L168.20 1270.7L168.60 1271.3L169 1271.8L169.40 1272.2L169.80 1272.5L170.20 1272.7L170.60 1272.8L171 1272.8L171.40 1272.8L171.80 1272.8L172.20 1272.7L172.60 1272.6L173 1272.5L173.40 1272.5L173.80 1272.4L174.20 1272.5L174.60 1272.6L175 1272.9L175.40 1273.2L175.80 1273.4L176.20 1273.5L176.60 1273.5L177 1273.2L177.40 1272.6L177.80 1272.0L178.20 1271.5L178.60 1271.3L179 1271.5L179.40 1272.3L179.80 1273.5L180.20 1275.0L180.60 1276.6L181 1278.1L181.40 1279.4L181.80 1280.4L182.20 1281.3L182.60 1282.1L183 1283.0L183.40 1283.9L183.80 1284.8L184.20 1285.7L184.60 1286.6L185 1287.5L185.40 1288.4L185.80 1289.2L186.20 1290.0L186.60 1290.5L187 1291.0L187.40 1291.3L187.80 1291.5L188.20 1291.8L188.60 1292.2L189 1292.7L189.40 1293.3L189.80 1293.8L190.20 1294.2L190.60 1294.4L191 1294.5L191.40 1294.4L191.80 1294.3L192.20 1294.3L192.60 1294.3L193 1294.3L193.40 1294.4L193.80 1294.6L194.20 1294.8L194.60 1295.1L195 1295.4L195.40 1295.8L195.80 1296.2L196.20 1296.7L196.60 1297.2L197 1297.6L197.40 1297.9L197.80 1298.1L198.20 1298.3L198.60 1298.5L199 1298.8L199.40 1299.3L199.80 1299.8L200.20 1300.5L200.60 1301.2L201 1301.9L201.40 1302.6L201.80 1303.3L202.20 1304.0L202.60 1304.5L203 1305.0L203.40 1305.3L203.80 1305.5L204.20 1305.7L204.60 1305.8L205 1305.9L205.40 1306.0L205.80 1306.0L206.20 1306.0L206.60 1305.8L207 1305.5L207.40 1305.0L207.80 1304.6L208.20 1304.2L208.60 1304.1L209 1304.2L209.40 1304.7L209.80 1305.4L210.20 1306.4L210.60 1307.4L211 1308.4L211.40 1309.3L211.80 1309.9L212.20 1310.3L212.60 1310.5L213 1310.5L213.40 1310.4L213.80 1310.4L214.20 1310.4L214.60 1310.5L215 1310.6L215.40 1310.7L215.80 1310.7L216.20 1310.6L216.60 1310.5L217 1310.3L217.40 1310.1L217.80 1309.9L218.20 1309.8L218.60 1309.8L219 1309.9L219.40 1310.2L219.80 1310.6L220.20 1311.1L220.60 1311.6L221 1312.1L221.40 1312.7L221.80 1313.1L222.20 1313.6L222.60 1314.0L223 1314.3L223.40 1314.7L223.80 1315.1L224.20 1315.6L224.60 1316.1L225 1316.6L225.40 1317.0L225.80 1317.1L226.20 1317.1L226.60 1316.8L227 1316.3L227.40 1315.7L227.80 1315.1L228.20 1314.6L228.60 1314.4L229 1314.4L229.40 1314.6L229.80 1315.0L230.20 1315.5L230.60 1315.9L231 1316.0L231.40 1316.0L231.80 1315.5L232.20 1314.7L232.60 1313.5L233 1311.5L233.40 1308.4L233.80 1303.5L234.20 1296.4L234.60 1287.6L235 1279.3L235.40 1274.9L235.50 1274.7L235.80 1276.5L236.20 1283.5L236.60 1292.7L237 1300.6L237.40 1306.6L237.80 1310.6L238.20 1313.0L238.60 1314.5L239 1315.6L239.40 1316.3L239.80 1316.9L240.20 1317.3L240.60 1317.7L241 1318.0L241.40 1318.4L241.80 1318.7L242.20 1319.0L242.60 1319.2L243 1319.4L243.40 1319.5L243.80 1319.5L244.20 1319.5L244.60 1319.4L245 1319.4L245.40 1319.4L245.80 1319.5L246.20 1319.7L246.60 1319.9L247 1320.1L247.40 1320.3L247.80 1320.4L248.20 1320.6L248.60 1320.7L249 1321.0L249.40 1321.2L249.80 1321.4L250.20 1321.5L250.60 1321.5L251 1321.6L251.40 1321.6L251.80 1321.6L252.20 1321.6L252.60 1321.5L253 1321.3L253.40 1321.0L253.80 1320.7L254.20 1320.5L254.60 1320.2L255 1319.9L255.40 1319.6L255.80 1319.3L256.20 1319.0L256.60 1318.7L257 1318.5L257.40 1318.5L257.80 1318.5L258.20 1318.7L258.60 1318.8L259 1319.1L259.40 1319.4L259.80 1319.8L260.20 1320.2L260.60 1320.6L261 1321.0L261.40 1321.4L261.80 1321.6L262.20 1321.8L262.60 1321.9L263 1322.0L263.40 1322.0L263.80 1322.0L264.20 1322.0L264.60 1322.0L265 1322.0L265.40 1322.0L265.80 1322.0L266.20 1322.0L266.60 1322.0L267 1321.8L267.40 1321.6L267.80 1321.3L268.20 1320.9L268.60 1320.4L269 1319.7L269.40 1318.2L269.80 1315.7L270.20 1311.6L270.60 1306.5L271 1301.7L271.40 1299.1L271.50 1299.0L271.80 1300.0L272.20 1303.9L272.60 1309.0L273 1313.6L273.40 1316.9L273.80 1318.8L274.20 1319.9L274.60 1320.5L275 1320.9L275.40 1321.2L275.80 1321.5L276.20 1321.8L276.60 1322.1L277 1322.3L277.40 1322.6L277.80 1322.9L278.20 1323.2L278.60 1323.4L279 1323.7L279.40 1324.0L279.80 1324.2L280.20 1324.4L280.60 1324.5L281 1324.4L281.40 1324.3L281.80 1324.0L282.20 1323.6L282.60 1323.2L283 1322.7L283.40 1322.4L283.80 1322.2L284.20 1322.3L284.60 1322.5L285 1322.9L285.40 1323.2L285.80 1323.5L286.20 1323.6L286.60 1323.5L287 1323.3L287.40 1323.0L287.80 1322.7L288.20 1322.4L288.60 1322.2L289 1322.0L289.40 1322.0L289.80 1322.1L290.20 1322.1L290.60 1322.0L291 1321.9L291.40 1321.5L291.80 1321.1L292.20 1320.6L292.60 1320.1L293 1319.6L293.40 1319.1L293.80 1318.7L294.20 1318.3L294.60 1318.1L295 1317.9L295.40 1317.8L295.80 1317.9L296.20 1318.2L296.60 1318.5L297 1318.9L297.40 1319.4L297.80 1319.8L298.20 1320.2L298.60 1320.5L299 1320.8L299.40 1321.0L299.80 1321.2L300.20 1321.4L300.60 1321.6L301 1321.9L301.40 1322.3L301.80 1322.8L302.20 1323.4L302.60 1324.1L303 1324.7L303.40 1325.2L303.80 1325.5L304.20 1325.7L304.60 1325.8L305 1325.9L305.40 1325.9L305.80 1326.0L306.20 1326.1L306.60 1326.1L307 1326.1L307.40 1326.1L307.80 1326.1L308.20 1326.0L308.60 1326.0L309 1326.0L309.40 1325.9L309.80 1325.8L310.20 1325.4L310.60 1324.7L311 1323.5L311.40 1321.7L311.80 1319.3L312.20 1316.4L312.60 1313.3L313 1310.3L313.40 1308.0L313.80 1306.7L314 1306.5L314.20 1306.6L314.60 1307.8L315 1309.9L315.40 1312.7L315.80 1315.7L316.20 1318.5L316.60 1320.9L317 1322.6L317.40 1323.8L317.80 1324.4L318.20 1324.6L318.60 1324.7L319 1324.7L319.40 1324.8L319.80 1325.1L320.20 1325.6L320.60 1326.2L321 1326.9L321.40 1327.5L321.80 1328.1L322.20 1328.6L322.60 1329.0L323 1329.4L323.40 1329.6L323.80 1329.7L324.20 1329.8L324.60 1329.8L325 1329.7L325.40 1329.6L325.80 1329.4L326.20 1329.3L326.60 1329.1L327 1329.1L327.40 1329.0L327.80 1329.0L328.20 1329.1L328.60 1329.2L329 1329.3L329.40 1329.5L329.80 1329.6L330.20 1329.9L330.60 1330.1L331 1330.3L331.40 1330.5L331.80 1330.7L332.20 1330.8L332.60 1330.8L333 1330.8L333.40 1330.7L333.80 1330.5L334.20 1330.4L334.60 1330.2L335 1330.1L335.40 1330.1L335.80 1330.2L336.20 1330.4L336.60 1330.7L337 1331.0L337.40 1331.2L337.80 1331.4L338.20 1331.4L338.60 1331.3L339 1331.1L339.40 1330.8L339.80 1330.4L340.20 1330.1L340.60 1329.9L341 1329.7L341.40 1329.4L341.80 1328.8L342.20 1327.6L342.60 1325.4L343 1322.1L343.40 1318.6L343.80 1316.2L344 1316.0L344.20 1316.5L344.60 1319.2L345 1323.0L345.40 1326.4L345.80 1328.6L346.20 1329.7L346.60 1330.2L347 1330.4L347.40 1330.4L347.80 1330.3L348.20 1330.1L348.60 1329.8L349 1329.4L349.40 1329.1L349.80 1328.9L350.20 1328.7L350.60 1328.7L351 1328.8L351.40 1329.0L351.80 1329.3L352.20 1329.6L352.60 1329.9L353 1330.4L353.40 1331.0L353.80 1331.6L354.20 1332.1L354.60 1332.6L355 1332.8L355.40 1333.0L355.80 1332.9L356.20 1332.8L356.60 1332.7L357 1332.5L357.40 1332.4L357.80 1332.3L358.20 1332.3L358.60 1332.3L359 1332.3L359.40 1332.0L359.80 1331.6L360.20 1331.0L360.60 1330.4L361 1330.0L361.40 1329.7L361.80 1329.7L362.20 1329.9L362.60 1330.2L363 1330.4L363.40 1330.6L363.80 1330.8L364.20 1330.9L364.60 1331.1L365 1331.2L365.40 1331.4L365.80 1331.5L366.20 1331.5L366.60 1331.3L367 1331.0L367.40 1330.6L367.80 1330.2L368.20 1329.8L368.60 1329.4L369 1329.0L369.40 1328.8L369.80 1328.6L370 1328.6L370.20 1328.7L370.60 1329.0L371 1329.4L371.40 1329.9L371.80 1330.3L372.20 1330.7L372.60 1331.1L373 1331.5L373.40 1332.0L373.80 1332.4L374.20 1332.7L374.60 1332.9L375 1332.9L375.40 1332.7L375.80 1332.5L376.20 1332.3L376.60 1332.1L377 1332.0L377.40 1332.0L377.80 1332.1L378.20 1332.3L378.60 1332.4L379 1332.4L379.40 1332.4L379.80 1332.2L380.20 1331.8L380.60 1331.4L381 1331.0L381.40 1330.6L381.80 1330.3L382.20 1330.1L382.60 1330.0L383 1330.0L383.40 1330.2L383.80 1330.5L384.20 1330.8L384.60 1331.2L385 1331.5L385.40 1331.8L385.80 1331.9L386.20 1332.1L386.60 1332.2L387 1332.2L387.40 1332.3L387.80 1332.3L388.20 1332.4L388.60 1332.5L389 1332.7L389.40 1332.9L389.80 1333.2L390.20 1333.5L390.60 1333.7L391 1333.8L391.40 1333.6L391.80 1333.3L392.20 1332.9L392.60 1332.4L393 1331.8L393.40 1331.3L393.80 1330.8L394.20 1330.3L394.60 1330.0L395 1329.8L395.40 1329.8L395.80 1329.8L396.20 1329.8L396.60 1329.8L397 1329.6L397.40 1329.2L397.80 1328.7L398 1328.3L398.20 1327.9L398.60 1327.8L399 1327.9L399.40 1328.3L399.80 1328.9L400.20 1329.5L400.60 1330.0L401 1330.5L401.40 1330.8L401.80 1331.1L402.20 1331.5L402.60 1331.9L403 1332.4L403.40 1332.9L403.80 1333.4L404.20 1333.7L404.60 1333.9L405 1333.9L405.40 1333.9L405.80 1333.8L406.20 1333.7L406.60 1333.6L407 1333.5L407.40 1333.4L407.80 1333.3L408.20 1333.1L408.60 1332.8L409 1332.5L409.40 1332.2L409.80 1332.0L410.20 1332.0L410.60 1332.1L411 1332.5L411.40 1333.0L411.80 1333.7L412.20 1334.2L412.60 1334.7L413 1334.9L413.40 1334.9L413.80 1334.7L414.20 1334.4L414.60 1333.9L415 1333.5L415.40 1333.1L415.80 1332.7L416.20 1332.4L416.60 1332.2L417 1332.0L417.40 1331.9L417.80 1331.8L418.20 1331.8L418.60 1331.9L419 1332.1L419.40 1332.3L419.80 1332.4L420.20 1332.5L420.60 1332.6L421 1332.6L421.40 1332.7L421.80 1332.9L422.20 1333.2L422.60 1333.5L423 1333.8L423.40 1334.1L423.80 1334.2L424.20 1334.2L424.60 1334.1L425 1333.8L425.40 1333.5L425.80 1333.0L426.20 1332.5L426.60 1332.0L427 1331.6L427.40 1331.2L427.80 1330.9L428.20 1330.6L428.60 1330.5L429 1330.4L429.40 1330.3L429.80 1330.4L430.20 1330.6L430.60 1330.9L431 1331.2L431.40 1331.5L431.80 1331.7L432.20 1331.9L432.60 1332.0L433 1332.0L433.40 1332.0L433.80 1331.8L434.20 1331.6L434.60 1331.2L435 1330.9L435.40 1330.6L435.80 1330.4L436.20 1330.4L436.60 1330.5L437 1330.7L437.40 1330.9L437.80 1331.1L438.20 1331.1L438.60 1331.0L439 1330.7L439.40 1330.3L439.80 1329.8L440.20 1329.5L440.60 1329.3L441 1329.1L441.40 1329.1L441.80 1329.2L442.20 1329.2L442.60 1329.2L443 1329.3L443.40 1329.3L443.80 1329.4L444.20 1329.5L444.60 1329.6L445 1329.7L445.40 1329.8L445.80 1329.9L446.20 1330.0L446.60 1330.1L447 1330.3L447.40 1330.4L447.80 1330.6L448.20 1330.8L448.60 1331.1L449 1331.3L449.40 1331.6L449.80 1331.7L450.20 1331.8L450.60 1331.9L451 1331.9L451.40 1332.1L451.80 1332.3L452.20 1332.5L452.60 1332.8L453 1333.0L453.40 1333.1L453.80 1333.2L454.20 1333.1L454.60 1333.0L455 1332.8L455.40 1332.6L455.80 1332.5L456.20 1332.4L456.60 1332.4L457 1332.5L457.40 1332.5L457.80 1332.3L458.20 1332.1L458.60 1331.6L459 1331.1L459.40 1330.7L459.80 1330.4L460.20 1330.3L460.60 1330.4L461 1330.6L461.40 1330.9L461.80 1331.1L462.20 1331.3L462.60 1331.3L463 1331.3L463.40 1331.1L463.80 1330.9L464.20 1330.7L464.60 1330.5L465 1330.2L465.40 1329.8L465.80 1329.5L466.20 1329.2L466.60 1328.9L467 1328.7L467.40 1328.6L467.80 1328.5L468.20 1328.6L468.60 1328.7L469 1328.9L469.40 1329.1L469.80 1329.3L470.20 1329.5L470.60 1329.7L471 1329.8L471.40 1329.8L471.80 1329.7L472.20 1329.7L472.60 1329.7L473 1329.9L473.40 1330.2L473.80 1330.5L474.20 1330.9L474.60 1331.2L475 1331.5L475.40 1331.6L475.80 1331.6L476.20 1331.4L476.60 1331.1L477 1330.8L477.40 1330.3L477.80 1329.7L478.20 1329.0L478.60 1328.4L479 1327.9L479.40 1327.5L479.80 1327.3L480.20 1327.3L480.60 1327.4L481 1327.5L481.40 1327.6L481.80 1327.6L482.20 1327.6L482.60 1327.5L483 1327.3L483.40 1327.0L483.80 1326.6L484.20 1325.9L484.60 1325.1L485 1324.2L485.40 1323.1L485.80 1321.9L486.20 1320.7L486.60 1319.5L487 1318.2L487.40 1316.9L487.80 1315.3L488.20 1313.5L488.60 1311.2L489 1308.2L489.40 1303.8L489.80 1295.9L490.20 1280.1L490.60 1251.0L491 1207.2L491.40 1158.2L491.80 1124.7L492 1119.9L492.20 1124.6L492.60 1158.1L493 1207.0L493.40 1250.8L493.80 1279.9L494.20 1295.6L494.60 1303.6L495 1307.7L495.40 1310.6L495.80 1313.0L496.20 1315.1L496.60 1316.9L497 1318.5L497.40 1320.0L497.80 1321.3L498.20 1322.4L498.60 1323.2L499 1323.8L499.40 1324.2L499.80 1324.4L500.20 1324.5L500.60 1324.6L501 1324.8L501.40 1325.1L501.80 1325.3L502.20 1325.6L502.60 1325.9L503 1326.1L503.40 1326.3L503.80 1326.5L504.20 1326.7L504.60 1327.0L505 1327.1L505.40 1327.3L505.80 1327.4L506.20 1327.5L506.60 1327.6L507 1327.7L507.40 1327.9L507.80 1328.0L508.20 1328.1L508.60 1328.0L509 1327.7L509.40 1327.3L509.80 1326.7L510.20 1326.0L510.60 1325.5L511 1325.1L511.40 1324.9L511.80 1324.9L512.20 1324.9L512.60 1325.1L513 1325.1L513.40 1324.9L513.80 1324.5L514.20 1323.4L514.60 1321.1L515 1316.0L515.40 1306.5L515.80 1292.9L516.20 1278.7L516.60 1270.5L516.70 1270.1L517 1273.4L517.40 1285.4L517.80 1300.0L518.20 1311.5L518.60 1318.3L519 1321.7L519.40 1323.4L519.80 1324.4L520.20 1325.0L520.60 1325.5L521 1325.9L521.40 1326.2L521.80 1326.6L522.20 1327.0L522.60 1327.3L523 1327.6L523.40 1327.7L523.80 1327.8L524.20 1327.8L524.60 1327.8L525 1327.8L525.40 1327.8L525.80 1327.9L526.20 1327.9L526.60 1328.0L527 1328.2L527.40 1328.4L527.80 1328.6L528.20 1328.7L528.60 1328.7L529 1328.5L529.40 1328.2L529.80 1327.7L530.20 1327.3L530.60 1326.8L531 1326.5L531.40 1326.2L531.80 1326.0L532.20 1325.9L532.60 1325.7L533 1325.5L533.40 1325.3L533.80 1324.8L534.20 1324.2L534.60 1323.2L535 1321.9L535.40 1320.3L535.80 1318.5L536.20 1316.6L536.60 1314.8L537 1313.3L537.40 1312.2L537.80 1311.6L538 1311.6L538.20 1311.8L538.60 1312.4L539 1313.4L539.40 1314.7L539.80 1316.2L540.20 1317.7L540.60 1319.0L541 1320.2L541.40 1321.2L541.80 1322.1L542.20 1322.8L542.60 1323.5L543 1324.0L543.40 1324.4L543.80 1324.7L544.20 1324.7L544.60 1324.6L545 1324.3L545.40 1324.0L545.80 1323.5L546.20 1323.0L546.60 1322.3L547 1321.5L547.40 1320.3L547.80 1318.4L548.20 1315.5L548.60 1311.0L549 1304.8L549.40 1297.4L549.80 1290.2L550.20 1285.2L550.50 1283.9L550.60 1284.0L551 1287.0L551.40 1293.2L551.80 1300.6L552.20 1307.0L552.60 1311.9L553 1315.3L553.40 1317.6L553.80 1318.9L554.20 1319.7L554.60 1320.1L555 1320.1L555.40 1319.7L555.80 1319.1L556.20 1318.3L556.60 1317.4L557 1316.5L557.40 1315.8L557.80 1315.3L558 1315.3L558.20 1315.3L558.60 1315.8L559 1316.5L559.40 1317.4L559.80 1318.4L560.20 1319.3L560.60 1319.9L561 1320.2L561.40 1320.0L561.80 1319.2L562.20 1317.5L562.60 1314.9L563 1311.3L563.40 1307.1L563.80 1303.0L564.20 1300.0L564.60 1298.9L565 1300.1L565.40 1303.3L565.80 1307.6L566.20 1312.1L566.60 1316.1L567 1319.1L567.40 1321.1L567.80 1322.4L568.20 1323.1L568.60 1323.6L569 1324.1L569.40 1324.6L569.80 1325.1L570.20 1325.6L570.60 1325.9L571 1326.1L571.40 1326.2L571.80 1326.2L572.20 1326.1L572.60 1325.9L573 1325.6L573.40 1325.3L573.80 1324.8L574.20 1324.3L574.60 1323.7L575 1323.1L575.40 1322.5L575.80 1322.1L576.20 1321.8L576.60 1321.7L577 1321.6L577.40 1321.7L577.80 1321.6L578.20 1321.5L578.60 1321.2L579 1320.8L579.40 1320.2L579.80 1319.6L580.20 1318.8L580.60 1318.1L581 1317.4L581.40 1316.8L581.80 1316.4L582.20 1316.2L582.30 1316.2L582.60 1316.3L583 1316.6L583.40 1317.1L583.80 1317.6L584.20 1318.1L584.60 1318.6L585 1318.9L585.40 1319.1L585.80 1319.2L586.20 1319.1L586.60 1318.8L587 1318.5L587.40 1318.0L587.80 1317.4L588.20 1316.7L588.60 1315.9L589 1315.0L589.40 1314.0L589.80 1313.0L590.20 1312.1L590.60 1311.3L591 1310.6L591.40 1310.1L591.80 1309.9L592 1309.9L592.20 1309.9L592.60 1310.1L593 1310.5L593.40 1311.1L593.80 1311.8L594.20 1312.6L594.60 1313.6L595 1314.7L595.40 1315.8L595.80 1316.9L596.20 1318.0L596.60 1318.9L597 1319.7L597.40 1320.3L597.80 1320.7L598.20 1321.0L598.60 1321.2L599 1321.4L599.40 1321.5L599.80 1321.5L600.20 1321.5L600.60 1321.4L601 1321.2L601.40 1320.7L601.80 1320.0L602.20 1319.2L602.60 1318.3L603 1317.4L603.40 1316.5L603.80 1315.7L604.20 1315.1L604.60 1314.5L605 1314.0L605.40 1313.4L605.80 1312.7L606.20 1311.8L606.60 1310.7L607 1309.4L607.40 1308.0L607.80 1306.2L608.20 1304.2L608.60 1301.9L609 1299.3L609.40 1296.4L609.80 1293.1L610.20 1289.2L610.60 1284.8L611 1279.8L611.40 1274.0L611.80 1267.2L612.20 1258.1L612.60 1241.6L613 1204.3L613.40 1121.8L613.80 973.9L614.20 779.4L614.60 616.1L614.90 572.0L615 577.0L615.40 687.2L615.80 878.6L616.20 1055.8L616.60 1169.8L617 1226.1L617.40 1250.4L617.80 1262.0L618.20 1269.4L618.60 1275.4L619 1280.5L619.40 1284.8L619.80 1288.6L620.20 1291.7L620.60 1294.2L621 1296.2L621.40 1297.4L621.80 1297.7L622.20 1296.4L622.60 1293.2L623 1288.3L623.40 1283.1L623.80 1280.0L624 1279.9L624.20 1280.8L624.60 1285.6L625 1292.5L625.40 1299.2L625.80 1304.4L626.20 1307.8L626.60 1309.8L627 1310.9L627.40 1311.4L627.80 1311.5L628.20 1311.3L628.60 1310.8L629 1309.6L629.40 1307.6L629.80 1304.3L630.20 1299.3L630.60 1292.8L631 1285.6L631.40 1279.5L631.80 1276.3L631.90 1276.0L632.20 1276.9L632.60 1281.0L633 1287.0L633.40 1293.2L633.80 1298.0L634.20 1300.9L634.60 1301.9L635 1300.9L635.40 1298.0L635.80 1292.7L636.20 1284.3L636.60 1272.9L637 1259.4L637.40 1246.0L637.80 1236.0L638.20 1231.9L638.60 1235.0L639 1244.0L639.40 1256.1L639.80 1268.0L640.20 1277.2L640.60 1282.1L641 1282.1L641.40 1277.2L641.80 1267.9L642.20 1255.9L642.60 1243.7L643 1234.8L643.40 1231.9L643.80 1236.2L644.20 1246.7L644.60 1260.5L645 1274.6L645.40 1286.5L645.80 1295.4L646.20 1301.4L646.60 1305.1L647 1307.4L647.40 1308.8L647.80 1309.7L648.20 1310.2L648.60 1310.6L649 1310.7L649.40 1310.6L649.80 1310.5L650.20 1310.2L650.60 1310.0L651 1309.9L651.40 1309.9L651.80 1310.0L652 1310.2L652.20 1310.4L652.60 1311.0L653 1311.7L653.40 1312.5L653.80 1313.5L654.20 1314.5L654.60 1315.6L655 1316.7L655.40 1317.8L655.80 1318.7L656.20 1319.4L656.60 1320.0L657 1320.4L657.40 1320.7L657.80 1320.9L658.20 1321.1L658.60 1321.2L659 1321.4L659.40 1321.5L659.80 1321.6L660.20 1321.5L660.60 1321.4L661 1321.2L661.40 1321.0L661.80 1320.8L662.20 1320.6L662.60 1320.4L663 1320.2L663.40 1320.0L663.80 1319.8L664.20 1319.6L664.60 1319.3L665 1319.0L665.40 1318.6L665.80 1318.2L666.20 1317.7L666.60 1317.2L667 1316.8L667.40 1316.5L667.80 1316.2L668.20 1316.0L668.60 1315.6L669 1315.2L669.40 1314.5L669.80 1313.6L670.20 1312.3L670.60 1310.4L671 1307.8L671.40 1304.0L671.80 1298.8L672.20 1292.2L672.60 1284.0L673 1274.6L673.40 1265.4L673.80 1257.9L674.20 1253.7L674.40 1253.1L674.60 1253.6L675 1257.7L675.40 1265.0L675.80 1274.0L676.20 1283.1L676.60 1291.1L677 1297.5L677.40 1302.1L677.80 1305.2L678.20 1307.4L678.60 1308.8L679 1309.8L679.40 1310.3L679.80 1310.6L680.20 1310.5L680.60 1310.1L681 1309.4L681.40 1308.4L681.80 1307.3L682.20 1306.0L682.60 1304.7L683 1303.4L683.40 1302.2L683.80 1301.2L684.20 1300.4L684.60 1300.0L685 1299.9L685.40 1300.2L685.80 1300.8L686.20 1301.8L686.60 1303.0L687 1304.4L687.40 1306.0L687.80 1307.5L688.20 1309.0L688.60 1310.4L689 1311.6L689.40 1312.7L689.80 1313.6L690.20 1314.3L690.60 1314.8L691 1315.1L691.40 1315.1L691.80 1314.7L692.20 1314.1L692.60 1313.2L693 1312.0L693.40 1310.4L693.80 1308.1L694.20 1305.1L694.60 1301.5L695 1297.5L695.40 1293.7L695.80 1290.5L696.20 1288.5L696.50 1288.0L696.60 1288.1L697 1289.2L697.40 1291.8L697.80 1295.3L698.20 1299.1L698.60 1302.9L699 1306.2L699.40 1308.8L699.80 1310.8L700.20 1312.3L700.60 1313.2L701 1313.8L701.40 1314.1L701.80 1314.1L702.20 1313.7L702.60 1312.9L703 1311.5L703.40 1309.3L703.80 1306.4L704.20 1302.9L704.60 1299.3L705 1296.3L705.40 1294.4L705.70 1294.0L705.80 1294.1L706.20 1295.5L706.60 1298.3L707 1301.9L707.40 1305.7L707.80 1309.2L708.20 1312.0L708.60 1314.1L709 1315.5L709.40 1316.4L709.80 1316.9L710.20 1317.2L710.60 1317.4L711 1317.5L711.40 1317.6L711.80 1317.7L712.20 1317.7L712.60 1317.8L713 1317.8L713.40 1317.7L713.80 1317.7L714 1317.6L714.20 1317.6L714.60 1317.9L715 1318.4L715.40 1318.9L715.80 1319.6L716.20 1320.2L716.60 1320.8L717 1321.3L717.40 1321.8L717.80 1322.2L718.20 1322.5L718.60 1322.8L719 1323.0L719.40 1323.3L719.80 1323.4L720.20 1323.6L720.60 1323.7L721 1323.8L721.40 1324.0L721.80 1324.2L722.20 1324.3L722.60 1324.5L723 1324.5L723.40 1324.4L723.80 1324.3L724.20 1324.0L724.60 1323.6L725 1323.3L725.40 1323.1L725.80 1322.9L726.20 1322.9L726.60 1323.0L727 1323.1L727.40 1323.1L727.80 1323.1L728.20 1323.0L728.60 1322.7L729 1322.4L729.40 1322.0L729.80 1321.5L730.20 1321.0L730.60 1320.5L731 1320.0L731.40 1319.6L731.80 1319.4L732 1319.4L732.20 1319.4L732.60 1319.6L733 1320.0L733.40 1320.5L733.80 1321.1L734.20 1321.8L734.60 1322.5L735 1323.1L735.40 1323.7L735.80 1324.3L736.20 1324.7L736.60 1325.0L737 1325.3L737.40 1325.5L737.80 1325.6L738.20 1325.7L738.60 1325.7L739 1325.6L739.40 1325.4L739.80 1325.3L740.20 1325.1L740.60 1325.0L741 1324.8L741.40 1324.5L741.80 1324.3L742.20 1324.1L742.60 1324.1L743 1324.0L743.40 1323.9L743.80 1323.7L744.20 1323.3L744.60 1322.7L745 1321.9L745.40 1321.1L745.80 1320.4L746.20 1319.7L746.60 1319.2L747 1318.8L747.40 1318.5L747.80 1318.1L748.20 1317.8L748.60 1317.6L749 1317.4L749.40 1317.4L749.80 1317.7L750.20 1318.2L750.60 1319.1L751 1320.1L751.40 1321.1L751.80 1322.1L752.20 1323.0L752.60 1323.7L753 1324.2L753.40 1324.7L753.80 1325.1L754.20 1325.5L754.60 1325.8L755 1326.1L755.40 1326.4L755.80 1326.7L756.20 1327.0L756.60 1327.3L757 1327.7L757.40 1328.1L757.80 1328.4L758.20 1328.5L758.60 1328.5L759 1328.2L759.40 1327.9L759.80 1327.5L760.20 1327.2L760.60 1327.1L761 1327.0L761.40 1327.1L761.80 1327.3L762.20 1327.6L762.60 1327.8L763 1328.1L763.40 1328.2L763.80 1328.2L764.20 1328.1L764.60 1327.9L765 1327.7L765.40 1327.5L765.80 1327.3L766.20 1327.1L766.60 1326.9L767 1326.6L767.40 1326.4L767.80 1326.1L768.20 1325.9L768.60 1325.9L769 1325.9L769.40 1326.0L769.80 1326.3L770.20 1326.5L770.60 1326.6L771 1326.7L771.40 1326.6L771.80 1326.4L772.20 1326.2L772.60 1325.9L773 1325.7L773.40 1325.3L773.80 1325.0L774.20 1324.5L774.60 1323.9L775 1323.2L775.40 1322.3L775.80 1321.5L776.20 1320.6L776.60 1319.7L777 1318.8L777.40 1318.0L777.80 1317.2L778.20 1316.5L778.60 1315.8L779 1315.3L779.40 1315.0L779.70 1314.9L779.80 1314.9L780.20 1315.0L780.60 1315.2L781 1315.7L781.40 1316.2L781.80 1316.9L782.20 1317.7L782.60 1318.6L783 1319.4L783.40 1320.0L783.80 1320.5L784.20 1320.9L784.60 1321.0L785 1320.9L785.40 1320.7L785.80 1320.4L786.20 1320.0L786.60 1319.4L787 1318.8L787.40 1318.0L787.80 1317.1L788.20 1316.1L788.60 1315.0L789 1313.9L789.40 1313.0L789.80 1312.1L790.20 1311.4L790.60 1310.9L791 1310.5L791.40 1310.3L791.80 1310.2L792.20 1310.2L792.60 1310.2L793 1310.3L793.40 1310.2L793.80 1310.0L794.20 1309.4L794.60 1308.5L795 1307.1L795.40 1305.3L795.80 1303.2L796.20 1300.6L796.60 1297.8L797 1295.2L797.40 1293.0L797.80 1291.5L798.20 1290.9L798.30 1290.8L798.60 1291.2L799 1292.5L799.40 1294.6L799.80 1297.3L800.20 1300.4L800.60 1303.4L801 1306.1L801.40 1308.5L801.80 1310.4L802.20 1311.8L802.60 1312.5L803 1312.9L803.40 1312.8L803.80 1312.5L804.20 1312.1L804.60 1311.8L805 1311.6L805.40 1311.6L805.80 1311.9L806 1312.2L806.20 1312.7L806.60 1313.5L807 1314.5L807.40 1315.7L807.80 1316.9L808.20 1318.2L808.60 1319.4L809 1320.5L809.40 1321.4L809.80 1322.3L810.20 1322.9L810.60 1323.1L811 1323.1L811.40 1322.6L811.80 1321.8L812.20 1320.9L812.60 1319.9L813 1319.1L813.40 1318.5L813.80 1318.2L814 1318.1L814.20 1318.3L814.60 1318.8L815 1319.6L815.40 1320.5L815.80 1321.5L816.20 1322.4L816.60 1323.1L817 1323.7L817.40 1324.1L817.80 1324.2L818.20 1324.0L818.60 1323.6L819 1323.0L819.40 1322.2L819.80 1321.3L820.20 1320.5L820.60 1319.9L821 1319.3L821.40 1318.8L821.80 1318.1L822.20 1316.8L822.60 1314.3L823 1309.4L823.40 1300.7L823.80 1287.7L824.20 1272.9L824.60 1261.4L824.90 1258.5L825 1258.8L825.40 1266.4L825.80 1280.4L826.20 1294.8L826.60 1305.8L827 1312.5L827.40 1316.2L827.80 1318.2L828.20 1319.4L828.60 1320.4L829 1321.3L829.40 1322.1L829.80 1323.0L830.20 1323.8L830.60 1324.6L831 1325.4L831.40 1326.1L831.80 1326.6L832.20 1327.0L832.60 1327.3L833 1327.4L833.40 1327.4L833.80 1327.3L834.20 1327.1L834.60 1327.0L835 1326.9L835.40 1326.9L835.80 1327.0L836.20 1326.9L836.60 1326.8L837 1326.6L837.40 1326.3L837.80 1326.0L838.20 1325.6L838.60 1325.4L839 1325.3L839.40 1325.3L839.80 1325.4L840.20 1325.6L840.60 1325.8L841 1325.8L841.40 1325.7L841.80 1325.4L842.20 1324.9L842.60 1324.4L843 1323.9L843.40 1323.6L843.80 1323.4L844.20 1323.4L844.60 1323.5L845 1323.8L845.40 1324.2L845.80 1324.6L846.20 1325.0L846.60 1325.5L847 1325.9L847.40 1326.4L847.80 1326.7L848.20 1327.1L848.60 1327.4L849 1327.7L849.40 1328.0L849.80 1328.2L850.20 1328.4L850.60 1328.4L851 1328.4L851.40 1328.3L851.80 1328.3L852.20 1328.2L852.60 1328.2L853 1328.3L853.40 1328.3L853.80 1328.3L854.20 1328.2L854.60 1327.9L855 1327.5L855.40 1327.1L855.80 1326.6L856.20 1326.3L856.60 1326.0L857 1325.9L857.40 1326.0L857.80 1326.2L858.20 1326.5L858.60 1326.7L859 1327.0L859.40 1327.4L859.80 1327.7L860.20 1328.0L860.60 1328.3L861 1328.6L861.40 1328.7L861.80 1328.8L862.20 1328.8L862.60 1328.7L863 1328.6L863.40 1328.6L863.80 1328.5L864.20 1328.4L864.60 1328.4L865 1328.3L865.40 1328.2L865.80 1328.1L866.20 1327.9L866.60 1327.6L867 1327.3L867.40 1327.0L867.80 1326.8L868.20 1326.6L868.60 1326.6L869 1326.7L869.40 1326.8L869.80 1326.9L870.20 1326.9L870.60 1326.8L871 1326.7L871.40 1326.6L871.80 1326.6L872.20 1326.6L872.60 1326.7L873 1326.7L873.40 1326.8L873.80 1326.7L874.20 1326.7L874.60 1326.6L875 1326.5L875.40 1326.5L875.80 1326.4L876.20 1326.4L876.60 1326.3L877 1326.2L877.40 1326.0L877.80 1325.7L878.20 1325.3L878.60 1324.8L879 1324.2L879.40 1323.6L879.80 1322.9L880.20 1322.2L880.60 1321.6L881 1321.0L881.40 1320.3L881.80 1319.6L882.20 1318.9L882.60 1318.0L883 1317.0L883.40 1315.7L883.80 1314.1L884.20 1311.5L884.60 1307.2L885 1300.5L885.40 1291.3L885.80 1280.8L886.20 1271.5L886.60 1266.7L886.70 1266.5L887 1268.4L887.40 1275.7L887.80 1286.1L888.20 1296.2L888.60 1304.2L889 1309.7L889.40 1313.2L889.80 1315.5L890.20 1317.2L890.60 1318.6L891 1319.9L891.40 1321.1L891.80 1322.2L892.20 1323.3L892.60 1324.2L893 1325.0L893.40 1325.5L893.80 1325.8L894.20 1325.8L894.60 1325.5L895 1325.2L895.40 1324.7L895.80 1324.2L896.20 1323.8L896.60 1323.5L897 1323.4L897.40 1323.3L897.80 1323.2L898.20 1323.2L898.60 1323.2L899 1323.2L899.40 1323.2L899.80 1323.2L900.20 1323.1L900.60 1322.7L901 1322.0L901.40 1320.8L901.80 1318.7L902.20 1315.9L902.60 1312.6L903 1309.1L903.40 1306.2L903.80 1304.6L904 1304.4L904.20 1304.7L904.60 1306.4L905 1309.4L905.40 1313.0L905.80 1316.5L906.20 1319.4L906.60 1321.7L907 1323.4L907.40 1324.6L907.80 1325.5L908.20 1326.2L908.60 1326.7L909 1327.1L909.40 1327.3L909.80 1327.4L910.20 1327.4L910.60 1327.3L911 1327.3L911.40 1327.3L911.80 1327.5L912.20 1327.7L912.60 1328.1L913 1328.5L913.40 1328.8L913.80 1329.0L914.20 1329.1L914.60 1329.1L915 1329.0L915.40 1328.8L915.80 1328.4L916.20 1328.0L916.60 1327.6L917 1327.1L917.40 1326.7L917.80 1326.3L918.20 1326.0L918.60 1325.7L919 1325.4L919.40 1325.0L919.80 1324.6L920.20 1324.2L920.60 1323.8L921 1323.3L921.40 1323.0L921.80 1322.8L922 1322.7L922.20 1322.7L922.60 1322.7L923 1322.9L923.40 1323.2L923.80 1323.5L924.20 1323.9L924.60 1324.3L925 1324.8L925.40 1325.3L925.80 1325.9L926.20 1326.4L926.60 1326.8L927 1327.2L927.40 1327.5L927.80 1327.8L928.20 1328.0L928.60 1328.1L929 1328.2L929.40 1328.4L929.80 1328.5L930.20 1328.5L930.60 1328.5L931 1328.4L931.40 1328.3L931.80 1328.0L932.20 1327.7L932.60 1327.3L933 1326.9L933.40 1326.4L933.80 1325.7L934.20 1324.9L934.60 1324.0L935 1323.1L935.40 1322.3L935.80 1321.7L936 1321.3L936.20 1321.0L936.60 1321.0L937 1321.2L937.40 1321.6L937.80 1322.1L938.20 1322.7L938.60 1323.3L939 1323.9L939.40 1324.5L939.80 1325.1L940.20 1325.7L940.60 1326.3L941 1327.0L941.40 1327.6L941.80 1328.2L942.20 1328.7L942.60 1329.1L943 1329.3L943.40 1329.4L943.80 1329.2L944.20 1328.9L944.60 1328.4L945 1327.8L945.40 1327.2L945.80 1326.6L946.20 1326.0L946.60 1325.4L947 1324.6L947.40 1323.5L947.80 1321.6L948.20 1318.4L948.60 1313.5L949 1306.7L949.40 1299.3L949.80 1292.6L950.20 1288.6L950.40 1288.1L950.60 1288.5L951 1292.4L951.40 1299.0L951.80 1306.0L952.20 1311.8L952.60 1316.0L953 1318.7L953.40 1320.5L953.80 1321.7L954.20 1322.5L954.60 1323.1L955 1323.8L955.40 1324.5L955.80 1325.4L956.20 1326.4L956.60 1327.5L957 1328.5L957.40 1329.2L957.80 1329.7L958.20 1330.0L958.60 1329.9L959 1329.7L959.40 1329.3L959.80 1328.9L960.20 1328.4L960.60 1327.9L961 1327.4L961.40 1326.9L961.80 1326.5L962.20 1326.2L962.60 1325.9L963 1325.6L963.40 1325.2L963.80 1324.7L964.20 1324.2L964.60 1323.7L965 1323.1L965.40 1322.7L965.80 1322.5L966 1322.4L966.20 1322.5L966.60 1322.7L967 1323.0L967.40 1323.4L967.80 1323.9L968.20 1324.4L968.60 1324.8L969 1325.3L969.40 1325.8L969.80 1326.3L970.20 1326.8L970.60 1327.3L971 1327.8L971.40 1328.3L971.80 1328.7L972.20 1329.2L972.60 1329.5L973 1329.7L973.40 1329.7L973.80 1329.5L974.20 1329.1L974.60 1328.5L975 1327.9L975.40 1327.4L975.80 1327.0L976.20 1326.8L976.60 1326.7L977 1326.8L977.40 1326.9L977.80 1327.2L978 1327.4L978.20 1327.6L978.60 1327.8L979 1327.9L979.40 1328.1L979.80 1328.3L980.20 1328.6L980.60 1329.0L981 1329.4L981.40 1329.9L981.80 1330.4L982.20 1330.9L982.60 1331.4L983 1331.7L983.40 1332.0L983.80 1332.2L984.20 1332.4L984.60 1332.5L985 1332.6L985.40 1332.6L985.80 1332.6L986.20 1332.5L986.60 1332.2L987 1332.0L987.40 1331.7L987.80 1331.5L988.20 1331.3L988.60 1331.2L989 1331.2L989.40 1331.2L989.80 1331.1L990.20 1330.8L990.60 1330.4L991 1330.0L991.40 1329.4L991.80 1329.0L992.20 1328.6L992.60 1328.3L993 1328.1L993.40 1328.0L993.80 1328.0L994.20 1328.1L994.60 1328.3L995 1328.6L995.40 1328.9L995.80 1329.2L996.20 1329.4L996.60 1329.5L997 1329.5L997.40 1329.4L997.80 1329.2L998.20 1329.1L998.60 1328.9L999 1328.6L999.40 1328.4L999.80 1328.0L1000.20 1327.6L1000.60 1327.0L1001 1326.4L1001.40 1325.6L1001.80 1324.9L1002.20 1324.1L1002.60 1323.5L1003 1322.9L1003.40 1322.4L1003.80 1322.1L1004.20 1321.8L1004.60 1321.6L1005 1321.6L1005.30 1321.7L1005.40 1321.9L1005.80 1322.2L1006.20 1322.6L1006.60 1323.1L1007 1323.7L1007.40 1324.4L1007.80 1325.0L1008.20 1325.5L1008.60 1326.0L1009 1326.3L1009.40 1326.5L1009.80 1326.7L1010.20 1326.8L1010.60 1327.0L1011 1327.3L1011.40 1327.6L1011.80 1328.0L1012.20 1328.4L1012.60 1328.8L1013 1329.1L1013.40 1329.3L1013.80 1329.4L1014.20 1329.3L1014.60 1329.2L1015 1329.0L1015.40 1328.7L1015.80 1328.3L1016.20 1327.9L1016.60 1327.4L1017 1326.9L1017.40 1326.2L1017.80 1325.5L1018.20 1324.5L1018.60 1322.9L1019 1320.4L1019.40 1316.5L1019.80 1311.1L1020.20 1304.9L1020.60 1299.3L1021 1296.0L1021.20 1295.5L1021.40 1296.0L1021.80 1299.4L1022.20 1305.1L1022.60 1311.6L1023 1317.4L1023.40 1321.9L1023.80 1324.8L1024.20 1326.5L1024.60 1327.4L1025 1327.9L1025.40 1328.2L1025.80 1328.4L1026.20 1328.7L1026.60 1329.0L1027 1329.3L1027.40 1329.7L1027.80 1330.1L1028.20 1330.5L1028.60 1330.9L1029 1331.2L1029.40 1331.5L1029.80 1331.8L1030.20 1332.1L1030.60 1332.5L1031 1332.7L1031.40 1332.9L1031.80 1333.0L1032.20 1332.9L1032.60 1332.8L1033 1332.6L1033.40 1332.3L1033.80 1332.1L1034.20 1332.0L1034.60 1331.9L1035 1331.9L1035.40 1331.8L1035.80 1331.8L1036.20 1331.6L1036.60 1331.5L1037 1331.3L1037.40 1331.1L1037.80 1330.9L1038.20 1330.8L1038.60 1330.6L1039 1330.5L1039.40 1330.3L1039.80 1330.1L1040.20 1330.0L1040.60 1329.7L1041 1329.6L1041.40 1329.4L1041.80 1329.3L1042.20 1329.3L1042.60 1329.4L1043 1329.6L1043.40 1329.9L1043.80 1330.2L1044.20 1330.5L1044.60 1330.7L1045 1330.9L1045.40 1331.0L1045.80 1331.1L1046.20 1331.2L1046.60 1331.3L1047 1331.5L1047.40 1331.6L1047.80 1331.7L1048.20 1331.7L1048.60 1331.5L1049 1331.1L1049.40 1330.7L1049.80 1330.2L1050.20 1329.7L1050.60 1329.2L1051 1328.8L1051.40 1328.6L1051.80 1328.4L1052.20 1328.2L1052.60 1328.1L1053 1328.0L1053.40 1327.8L1053.80 1327.4L1054.20 1326.8L1054.60 1326.1L1055 1325.2L1055.40 1324.3L1055.80 1323.6L1056.20 1323.0L1056.60 1322.7L1057 1322.6L1057.40 1322.8L1057.80 1323.1L1058.20 1323.5L1058.60 1324.1L1059 1324.6L1059.40 1325.2L1059.80 1325.8L1060.20 1326.4L1060.60 1327.1L1061 1327.8L1061.40 1328.4L1061.80 1328.9L1062.20 1329.4L1062.60 1329.7L1063 1329.9L1063.40 1330.0L1063.80 1330.0L1064.20 1330.1L1064.60 1330.3L1065 1330.5L1065.40 1330.8L1065.80 1331.1L1066.20 1331.5L1066.60 1331.9L1067 1332.4L1067.40 1332.9L1067.80 1333.4L1068.20 1333.8L1068.60 1334.0L1069 1334.1L1069.40 1333.9L1069.80 1333.5L1070.20 1332.9L1070.60 1332.2L1071 1331.5L1071.40 1330.7L1071.80 1330.0L1072.20 1329.3L1072.60 1328.8L1073 1328.5L1073.40 1328.2L1073.80 1328.1L1074.20 1328.0L1074.60 1327.8L1075 1327.6L1075.40 1327.3L1075.80 1326.9L1076.20 1326.4L1076.60 1325.8L1077 1325.2L1077.40 1324.6L1077.80 1324.0L1078.20 1323.5L1078.60 1323.1L1079 1322.8L1079.40 1322.6L1079.80 1322.5L1080.20 1322.5L1080.50 1322.5L1080.60 1322.6L1081 1322.6L1081.40 1322.7L1081.80 1322.8L1082.20 1322.9L1082.60 1323.1L1083 1323.4L1083.40 1323.8L1083.80 1324.3L1084.20 1324.9L1084.60 1325.5L1085 1326.2L1085.40 1326.9L1085.80 1327.6L1086.20 1328.3L1086.60 1329.0L1087 1329.6L1087.40 1330.1L1087.80 1330.5L1088.20 1330.8L1088.60 1330.9L1089 1330.9L1089.40 1330.7L1089.80 1330.5L1090.20 1330.3L1090.60 1330.1L1091 1329.9L1091.40 1329.7L1091.80 1329.6L1092.20 1329.4L1092.60 1329.2L1093 1329.1L1093.40 1329.0L1093.80 1329.1L1094.20 1329.2L1094.60 1329.4L1095 1329.6L1095.40 1329.7L1095.80 1329.9L1096.20 1329.9L1096.60 1330.0L1097 1330.1L1097.40 1330.1L1097.80 1330.2L1098.20 1330.1L1098.60 1330.0L1099 1329.7L1099.40 1329.2L1099.80 1328.5L1100.20 1327.5L1100.60 1326.5L1101 1325.6L1101.40 1324.8L1101.80 1324.3L1102.20 1324.1L1102.60 1324.1L1103 1324.3L1103.40 1324.5L1103.80 1324.6L1104.20 1324.4L1104.60 1324.0L1105 1323.4L1105.40 1322.7L1105.80 1321.8L1106.20 1320.9L1106.60 1320.0L1107 1319.2L1107.40 1318.3L1107.80 1317.3L1108.20 1316.1L1108.60 1314.7L1109 1313.0L1109.40 1311.0L1109.80 1308.4L1110.20 1305.2L1110.60 1300.5L1111 1293.5L1111.40 1283.5L1111.80 1270.6L1112.20 1256.1L1112.60 1242.7L1113 1233.7L1113.30 1231.5L1113.40 1231.7L1113.80 1237.4L1114.20 1249.1L1114.60 1263.4L1115 1277.4L1115.40 1288.9L1115.80 1297.3L1116.20 1303.0L1116.60 1306.8L1117 1309.6L1117.40 1311.8L1117.80 1313.7L1118.20 1315.3L1118.60 1316.7L1119 1318.0L1119.40 1319.2L1119.80 1320.2L1120.20 1321.1L1120.60 1321.8L1121 1322.6L1121.40 1323.3L1121.80 1323.9L1122.20 1324.5L1122.60 1325.0L1123 1325.5L1123.40 1325.8L1123.80 1325.8L1124.20 1325.7L1124.60 1325.2L1125 1324.6L1125.40 1323.9L1125.80 1323.1L1126.20 1322.4L1126.60 1322.0L1127 1321.7L1127.40 1321.7L1127.80 1322.0L1128.20 1322.5L1128.60 1323.3L1129 1324.2L1129.40 1325.1L1129.80 1326.0L1130.20 1326.9L1130.60 1327.6L1131 1328.2L1131.40 1328.7L1131.80 1329.2L1132.20 1329.5L1132.60 1329.8L1133 1330.0L1133.40 1330.0L1133.80 1329.9L1134.20 1329.8L1134.60 1329.6L1135 1329.6L1135.40 1329.7L1135.80 1329.9L1136.20 1330.1L1136.60 1330.4L1137 1330.7L1137.40 1331.0L1137.80 1331.2L1138.20 1331.4L1138.60 1331.5L1139 1331.8L1139.40 1332.0L1139.80 1332.2L1140.20 1332.4L1140.60 1332.6L1141 1332.7L1141.40 1332.8L1141.80 1332.7L1142.20 1332.6L1142.60 1332.5L1143 1332.3L1143.40 1332.1L1143.80 1331.9L1144.20 1331.7L1144.60 1331.5L1145 1331.4L1145.40 1331.4L1145.80 1331.5L1146.20 1331.6L1146.60 1331.8L1147 1332.0L1147.40 1332.2L1147.80 1332.4L1148.20 1332.6L1148.60 1332.8L1149 1333.0L1149.40 1333.1L1149.80 1333.2L1150.20 1333.3L1150.60 1333.4L1151 1333.4L1151.40 1333.4L1151.80 1333.4L1152.20 1333.3L1152.60 1333.3L1153 1333.4L1153.40 1333.5L1153.80 1333.8L1154.20 1334.0L1154.60 1334.1L1155 1334.1L1155.40 1334.0L1155.80 1333.7L1156.20 1333.3L1156.60 1332.9L1157 1332.7L1157.40 1332.5L1157.80 1332.4L1158.20 1332.4L1158.60 1332.4L1159 1332.4L1159.40 1332.5L1159.80 1332.6L1160.20 1332.7L1160.60 1332.9L1161 1333.1L1161.40 1333.3L1161.80 1333.5L1162.20 1333.7L1162.60 1333.8L1163 1333.9L1163.40 1334.0L1163.80 1334.1L1164.20 1334.2L1164.60 1334.3L1165 1334.4L1165.40 1334.5L1165.80 1334.6L1166.20 1334.6L1166.60 1334.6L1167 1334.4L1167.40 1334.1L1167.80 1333.7L1168.20 1333.2L1168.60 1332.6L1169 1332.1L1169.40 1331.7L1169.80 1331.5L1170.20 1331.7L1170.60 1332.1L1171 1332.8L1171.40 1333.5L1171.80 1334.2L1172.20 1334.7L1172.60 1334.8L1173 1334.7L1173.40 1334.2L1173.80 1333.6L1174.20 1332.8L1174.60 1332.0L1175 1331.2L1175.40 1330.4L1175.80 1329.8L1176.20 1329.4L1176.60 1329.1L1177 1329.1L1177.40 1329.3L1177.80 1329.6L1178.20 1330.0L1178.60 1330.5L1179 1330.9L1179.40 1331.2L1179.80 1331.6L1180.20 1331.8L1180.60 1332.1L1181 1332.4L1181.40 1332.7L1181.80 1333.0L1182.20 1333.3L1182.60 1333.5L1183 1333.6L1183.40 1333.6L1183.80 1333.6L1184.20 1333.5L1184.60 1333.3L1185 1333.1L1185.40 1332.8L1185.80 1332.5L1186.20 1332.2L1186.60 1332.0L1187 1331.9L1187.40 1331.9L1187.80 1332.0L1188.20 1332.2L1188.60 1332.4L1189 1332.7L1189.40 1333.0L1189.80 1333.3L1190.20 1333.7L1190.60 1334.1L1191 1334.5L1191.40 1334.9L1191.80 1335.0L1192.20 1335.0L1192.60 1334.9L1193 1334.6L1193.40 1334.3L1193.80 1334.0L1194.20 1333.7L1194.60 1333.6L1195 1333.5L1195.40 1333.5L1195.80 1333.5L1196.20 1333.5L1196.60 1333.5L1197 1333.6L1197.40 1333.7L1197.80 1333.8L1198.20 1333.9L1198.60 1333.9L1199 1333.8L1199.40 1333.6L1199.80 1333.4L1200.20 1333.3L1200.60 1333.2L1201 1333.2L1201.40 1333.3L1201.80 1333.2L1202.20 1333.0L1202.60 1332.7L1203 1332.3L1203.40 1331.9L1203.80 1331.5L1204.20 1331.3L1204.60 1331.2L1205 1331.1L1205.40 1331.0L1205.80 1330.8L1206.20 1330.6L1206.60 1330.3L1207 1330.0L1207.40 1329.7L1207.80 1329.5L1208.20 1329.4L1208.60 1329.4L1209 1329.4L1209.40 1329.4L1209.80 1329.3L1210.20 1328.9L1210.60 1328.1L1211 1326.8L1211.40 1324.8L1211.80 1322.2L1212.20 1319.2L1212.60 1316.0L1213 1313.0L1213.40 1310.6L1213.80 1309.3L1214 1309.1L1214.20 1309.2L1214.60 1310.4L1215 1312.5L1215.40 1315.3L1215.80 1318.2L1216.20 1320.8L1216.60 1322.9L1217 1324.4L1217.40 1325.2L1217.80 1325.6L1218.20 1325.7L1218.60 1325.6L1219 1325.3L1219.40 1324.8L1219.80 1324.1L1220.20 1323.3L1220.60 1322.3L1221 1321.2L1221.40 1320.2L1221.80 1319.4L1222.20 1318.9L1222.60 1318.6L1222.80 1318.7L1223 1318.8L1223.40 1319.2L1223.80 1319.8L1224.20 1320.7L1224.60 1321.6L1225 1322.7L1225.40 1323.8L1225.80 1325.0L1226.20 1326.0L1226.60 1327.0L1227 1327.8L1227.40 1328.3L1227.80 1328.6L1228.20 1328.6L1228.60 1328.4L1229 1328.0L1229.40 1327.6L1229.80 1327.3L1230.20 1327.0L1230.60 1326.7L1231 1326.4L1231.40 1326.2L1231.80 1326.1L1232 1326.0L1232.20 1325.9L1232.60 1326.2L1233 1326.5L1233.40 1327.1L1233.80 1327.7L1234.20 1328.5L1234.60 1329.2L1235 1329.8L1235.40 1330.4L1235.80 1330.8L1236.20 1331.2L1236.60 1331.5L1237 1331.7L1237.40 1331.9L1237.80 1332.0L1238.20 1332.0L1238.60 1332.0L1239 1332.0L1239.40 1332.0L1239.80 1332.0L1240.20 1332.1L1240.60 1332.1L1241 1332.3L1241.40 1332.4L1241.80 1332.7L1242.20 1332.9L1242.60 1333.2L1243 1333.5L1243.40 1333.6L1243.80 1333.7L1244.20 1333.6L1244.60 1333.5L1245 1333.3L1245.40 1333.1L1245.80 1332.8L1246.20 1332.6L1246.60 1332.4L1247 1332.3L1247.40 1332.4L1247.80 1332.4L1248.20 1332.5L1248.60 1332.6L1249 1332.5L1249.40 1332.4L1249.80 1332.2L1250.20 1332.0L1250.60 1331.9L1251 1331.9L1251.40 1332.0L1251.80 1332.0L1252.20 1332.1L1252.60 1332.1L1253 1332.1L1253.40 1332.1L1253.80 1332.0L1254.20 1331.9L1254.60 1331.9L1255 1331.9L1255.40 1332.0L1255.80 1332.2L1256.20 1332.3L1256.60 1332.4L1257 1332.5L1257.40 1332.5L1257.80 1332.5L1258.20 1332.5L1258.60 1332.5L1259 1332.6L1259.40 1332.6L1259.80 1332.6L1260.20 1332.4L1260.60 1332.2L1261 1331.9L1261.40 1331.6L1261.80 1331.4L1262.20 1331.3L1262.60 1331.5L1263 1331.8L1263.40 1332.3L1263.80 1332.8L1264.20 1333.2L1264.60 1333.4L1265 1333.3L1265.40 1333.0L1265.80 1332.4L1266.20 1331.7L1266.60 1331.0L1267 1330.3L1267.40 1329.7L1267.80 1329.2L1268.20 1328.9L1268.60 1328.7L1269 1328.7L1269.40 1328.7L1269.80 1328.8L1270.20 1328.9L1270.60 1329.1L1271 1329.4L1271.40 1329.8L1271.80 1330.2L1272.20 1330.8L1272.60 1331.3L1273 1331.8L1273.40 1332.2L1273.80 1332.4L1274.20 1332.5L1274.60 1332.5L1275 1332.4L1275.40 1332.3L1275.80 1332.3L1276.20 1332.2L1276.60 1332.2L1277 1332.1L1277.40 1332.1L1277.80 1331.9L1278.20 1331.8L1278.60 1331.8L1279 1331.7L1279.40 1331.8L1279.80 1331.9L1280.20 1332.2L1280.60 1332.4L1281 1332.7L1281.40 1332.9L1281.80 1333.0L1282.20 1333.0L1282.60 1333.0L1283 1332.8L1283.40 1332.8L1283.80 1332.7L1284.20 1332.8L1284.60 1333.0L1285 1333.2L1285.40 1333.5L1285.80 1333.8L1286.20 1334.1L1286.60 1334.3L1287 1334.6L1287.40 1334.7L1287.80 1334.7L1288.20 1334.7L1288.60 1334.6L1289 1334.4L1289.40 1334.3L1289.80 1334.1L1290.20 1334.0L1290.60 1334.0L1291 1333.9L1291.40 1333.8L1291.80 1333.7L1292.20 1333.5L1292.60 1333.3L1293 1333.0L1293.40 1332.5L1293.80 1331.9L1294.20 1331.2L1294.60 1330.5L1295 1329.7L1295.40 1329.1L1295.80 1328.6L1296 1328.3L1296.20 1328.1L1296.60 1328.1L1297 1328.2L1297.40 1328.5L1297.80 1328.7L1298.20 1329.0L1298.60 1329.3L1299 1329.6L1299.40 1329.9L1299.80 1330.3L1300.20 1330.7L1300.60 1331.3L1301 1332.0L1301.40 1332.6L1301.80 1333.1L1302.20 1333.4L1302.60 1333.5L1303 1333.5L1303.40 1333.3L1303.80 1333.1L1304.20 1332.9L1304.60 1332.6L1305 1332.2L1305.40 1331.9L1305.80 1331.6L1306.20 1331.4L1306.60 1331.2L1307 1331.2L1307.40 1331.4L1307.80 1331.5L1308.20 1331.7L1308.60 1331.9L1309 1332.1L1309.40 1332.2L1309.80 1332.2L1310.20 1332.1L1310.60 1332.0L1311 1331.8L1311.40 1331.6L1311.80 1331.2L1312.20 1330.9L1312.60 1330.4L1313 1330.0L1313.40 1329.5L1313.80 1329.1L1314.20 1328.6L1314.60 1328.1L1315 1327.6L1315.40 1327.2L1315.80 1326.7L1316.20 1326.1L1316.60 1325.3L1317 1324.5L1317.40 1323.4L1317.80 1322.1L1318.20 1320.5L1318.60 1318.0L1319 1314.1L1319.40 1308.1L1319.80 1299.2L1320.20 1287.8L1320.60 1275.5L1321 1265.1L1321.40 1259.8L1321.50 1259.5L1321.80 1261.4L1322.20 1269.2L1322.60 1280.6L1323 1292.3L1323.40 1302.0L1323.80 1308.7L1324.20 1312.5L1324.60 1314.2L1325 1313.9L1325.40 1311.3L1325.80 1306.6L1326.20 1300.6L1326.60 1295.6L1327 1294.0L1327.40 1297.0L1327.80 1303.4L1328.20 1310.9L1328.60 1317.3L1329 1321.7L1329.40 1324.3L1329.80 1325.8L1330.20 1326.6L1330.60 1327.2L1331 1327.6L1331.40 1327.9L1331.80 1328.2L1332.20 1328.4L1332.60 1328.6L1333 1328.8L1333.40 1329.0L1333.80 1329.1L1334.20 1329.0L1334.60 1328.8L1335 1328.3L1335.40 1327.7L1335.80 1326.9L1336.20 1326.3L1336.60 1325.8L1337 1325.7L1337.40 1326.0L1337.80 1326.6L1338.20 1327.5L1338.60 1328.5L1339 1329.5L1339.40 1330.4L1339.80 1331.3L1340.20 1332.0L1340.60 1332.6L1341 1333.1L1341.40 1333.6L1341.80 1334.0L1342.20 1334.3L1342.60 1334.6L1343 1334.6L1343.40 1334.5L1343.80 1334.3L1344.20 1334.0L1344.60 1333.5L1345 1333.1L1345.40 1332.6L1345.80 1332.2L1346.20 1331.8L1346.60 1331.6L1347 1331.5L1347.40 1331.7L1347.80 1332.0L1348.20 1332.4L1348.60 1332.9L1349 1333.3L1349.40 1333.5L1349.80 1333.5L1350.20 1333.4L1350.60 1333.1L1351 1332.7L1351.40 1332.3L1351.80 1332.0L1352.20 1331.9L1352.60 1331.9L1353 1332.1L1353.40 1332.4L1353.80 1332.8L1354.20 1333.3L1354.60 1333.7L1355 1334.1L1355.40 1334.3L1355.80 1334.4L1356.20 1334.4L1356.60 1334.3L1357 1334.3L1357.40 1334.4L1357.80 1334.5L1358.20 1334.7L1358.60 1334.9L1359 1335.0L1359.40 1335.0L1359.80 1334.8L1360.20 1334.6L1360.60 1334.3L1361 1334.0L1361.40 1333.8L1361.80 1333.8L1362.20 1333.8L1362.60 1333.8L1363 1333.9L1363.40 1334.1L1363.80 1334.2L1364.20 1334.4L1364.60 1334.5L1365 1334.6L1365.40 1334.8L1365.80 1334.8L1366.20 1334.9L1366.60 1334.9L1367 1334.8L1367.40 1334.7L1367.80 1334.5L1368.20 1334.2L1368.60 1334.0L1369 1333.7L1369.40 1333.4L1369.80 1333.3L1370.20 1333.3L1370.60 1333.4L1371 1333.7L1371.40 1334.1L1371.80 1334.6L1372.20 1335.1L1372.60 1335.5L1373 1335.7L1373.40 1335.7L1373.80 1335.5L1374.20 1335.2L1374.60 1334.8L1375 1334.5L1375.40 1334.3L1375.80 1334.2L1376.20 1334.2L1376.60 1334.2L1377 1334.3L1377.40 1334.3L1377.80 1334.4L1378.20 1334.4L1378.60 1334.5L1379 1334.6L1379.40 1334.6L1379.80 1334.7L1380.20 1334.7L1380.60 1334.7L1381 1334.7L1381.40 1334.7L1381.80 1334.7L1382.20 1334.7L1382.60 1334.7L1383 1334.6L1383.40 1334.4L1383.80 1334.2L1384.20 1334.0L1384.60 1333.7L1385 1333.5L1385.40 1333.3L1385.80 1333.3L1386.20 1333.3L1386.60 1333.5L1387 1333.7L1387.40 1333.9L1387.80 1334.0L1388.20 1334.0L1388.60 1333.9L1389 1333.7L1389.40 1333.5L1389.80 1333.1L1390.20 1332.8L1390.60 1332.6L1391 1332.4L1391.40 1332.4L1391.80 1332.5L1392.20 1332.7L1392.60 1332.9L1393 1333.0L1393.40 1333.2L1393.80 1333.3L1394.20 1333.3L1394.60 1333.4L1395 1333.6L1395.40 1333.7L1395.80 1333.9L1396.20 1334.0L1396.60 1334.0L1397 1334.0L1397.40 1333.9L1397.80 1333.8L1398.20 1333.7L1398.60 1333.6L1399 1333.4L1399.40 1333.1L1399.80 1332.8L1400.20 1332.5L1400.60 1332.3L1401 1332.1L1401.40 1332.1L1401.80 1332.2L1402.20 1332.3L1402.60 1332.4L1403 1332.4L1403.40 1332.3L1403.80 1331.9L1404.20 1331.5L1404.60 1330.9L1405 1330.1L1405.40 1329.2L1405.80 1328.1L1406.20 1326.9L1406.60 1325.5L1407 1324.1L1407.40 1322.8L1407.80 1321.8L1408.20 1321.0L1408.60 1320.8L1408.70 1320.9L1409 1321.1L1409.40 1321.7L1409.80 1322.8L1410.20 1324.1L1410.60 1325.5L1411 1327.0L1411.40 1328.4L1411.80 1329.5L1412.20 1330.3L1412.60 1330.8L1413 1331.0L1413.40 1331.1L1413.80 1331.1L1414.20 1331.0L1414.60 1331.1L1415 1331.1L1415.40 1331.3L1415.80 1331.5L1416.20 1331.7L1416.60 1331.9L1417 1332.0L1417.40 1332.1L1417.80 1332.2L1418.20 1332.2L1418.60 1332.3L1419 1332.5L1419.40 1332.9L1419.80 1333.3L1420.20 1333.8L1420.60 1334.2L1421 1334.4L1421.40 1334.5L1421.80 1334.5L1422.20 1334.3L1422.60 1334.1L1423 1334.0L1423.40 1334.0L1423.80 1334.0L1424.20 1334.1L1424.60 1334.2L1425 1334.3L1425.40 1334.4L1425.80 1334.5L1426.20 1334.6L1426.60 1334.7L1427 1334.7L1427.40 1334.7L1427.80 1334.7L1428.20 1334.6L1428.60 1334.5L1429 1334.3L1429.40 1334.1L1429.80 1334.0L1430.20 1333.9L1430.60 1333.9L1431 1334.1L1431.40 1334.3L1431.80 1334.5L1432.20 1334.7L1432.60 1334.8L1433 1334.8L1433.40 1334.7L1433.80 1334.6L1434.20 1334.5L1434.60 1334.3L1435 1334.2L1435.40 1334.0L1435.80 1333.9L1436.20 1333.8L1436.60 1333.6L1437 1333.6L1437.40 1333.7L1437.80 1333.9L1438.20 1334.3L1438.60 1334.7L1439 1335.2L1439.40 1335.6L1439.80 1336.0L1440.20 1336.2L1440.60 1336.3L1441 1336.3L1441.40 1336.1L1441.80 1335.8L1442.20 1335.5L1442.60 1335.1L1443 1334.7L1443.40 1334.3L1443.80 1333.9L1444.20 1333.6L1444.60 1333.5L1445 1333.5L1445.40 1333.6L1445.80 1333.8L1446.20 1334.0L1446.60 1334.1L1447 1334.1L1447.40 1333.9L1447.80 1333.7L1448.20 1333.3L1448.60 1332.9L1449 1332.6L1449.40 1332.4L1449.80 1332.4L1450.20 1332.5L1450.60 1332.7L1451 1333.0L1451.40 1333.4L1451.80 1333.7L1452.20 1334.0L1452.60 1334.2L1453 1334.4L1453.40 1334.4L1453.80 1334.3L1454.20 1334.3L1454.60 1334.2L1455 1334.3L1455.40 1334.6L1455.80 1335.0L1456.20 1335.5L1456.60 1335.9L1457 1336.2L1457.40 1336.4L1457.80 1336.3L1458.20 1336.1L1458.60 1335.9L1459 1335.7L1459.40 1335.5L1459.80 1335.4L1460.20 1335.4L1460.60 1335.4L1461 1335.4L1461.40 1335.4L1461.80 1335.4L1462.20 1335.3L1462.60 1335.3L1463 1335.2L1463.40 1335.0L1463.80 1334.7L1464.20 1334.3L1464.60 1333.8L1465 1333.1L1465.40 1332.4L1465.80 1331.8L1466.20 1331.2L1466.60 1330.7L1467 1330.2L1467.40 1329.8L1467.80 1329.3L1468.20 1328.9L1468.60 1328.4L1469 1328.0L1469.40 1327.7L1469.80 1327.6L1470 1327.5L1470.20 1327.6L1470.60 1327.7L1471 1328.0L1471.40 1328.3L1471.80 1328.7L1472.20 1329.2L1472.60 1329.6L1473 1330.1L1473.40 1330.6L1473.80 1330.9L1474.20 1331.2L1474.60 1331.3L1475 1331.4L1475.40 1331.4L1475.80 1331.5L1476.20 1331.7L1476.60 1332.0L1477 1332.4L1477.40 1332.8L1477.80 1333.1L1478.20 1333.3L1478.60 1333.4L1479 1333.3L1479.40 1333.1L1479.80 1332.8L1480.20 1332.4L1480.60 1332.0L1481 1331.5L1481.40 1331.0L1481.80 1330.4L1482.20 1329.7L1482.60 1329.0L1483 1328.3L1483.40 1327.4L1483.80 1326.4L1484.20 1325.1L1484.60 1323.2L1485 1320.2L1485.40 1314.8L1485.80 1306.3L1486.20 1294.8L1486.60 1283.2L1487 1275.7L1487.20 1274.6L1487.40 1275.6L1487.80 1282.8L1488.20 1294.1L1488.60 1305.2L1489 1313.9L1489.40 1319.3L1489.80 1322.2L1490.20 1323.6L1490.60 1324.2L1491 1324.1L1491.40 1323.3L1491.80 1321.5L1492.20 1318.2L1492.60 1312.9L1493 1305.9L1493.40 1298.7L1493.80 1293.9L1494 1293.1L1494.20 1293.5L1494.60 1297.4L1495 1303.6L1495.40 1309.4L1495.80 1313.3L1496.20 1314.4L1496.60 1312.6L1497 1307.4L1497.40 1297.7L1497.80 1283.2L1498.20 1266.0L1498.60 1251.5L1499 1245.9L1499.40 1251.8L1499.80 1266.6L1500.20 1284.1L1500.60 1298.9L1501 1308.9L1501.40 1314.6L1501.80 1317.5L1502.20 1318.4L1502.60 1317.7L1503 1315.0L1503.40 1310.6L1503.80 1305.4L1504.20 1301.6L1504.50 1301.0L1504.60 1301.2L1505 1304.7L1505.40 1310.7L1505.80 1317.0L1506.20 1322.1L1506.60 1325.5L1507 1327.7L1507.40 1329.1L1507.80 1330.0L1508.20 1330.8L1508.60 1331.4L1509 1332.0L1509.40 1332.4L1509.80 1332.8L1510.20 1333.1L1510.60 1333.4L1511 1333.5L1511.40 1333.6L1511.80 1333.7L1512.20 1333.7L1512.60 1333.6L1513 1333.5L1513.40 1333.4L1513.80 1333.3L1514.20 1333.3L1514.60 1333.4L1515 1333.6L1515.40 1334.0L1515.80 1334.4L1516.20 1334.8L1516.60 1335.2L1517 1335.6L1517.40 1335.8L1517.80 1336.0L1518.20 1336.2L1518.60 1336.3L1519 1336.4L1519.40 1336.5L1519.80 1336.6L1520.20 1336.8L1520.60 1336.9L1521 1336.9L1521.40 1336.9L1521.80 1336.9L1522.20 1336.8L1522.60 1336.6L1523 1336.4L1523.40 1336.1L1523.80 1335.9L1524.20 1335.6L1524.60 1335.4L1525 1335.1L1525.40 1335.0L1525.80 1334.8L1526.20 1334.8L1526.60 1334.8L1527 1334.8L1527.40 1334.9L1527.80 1335.0L1528.20 1335.0L1528.60 1335.1L1529 1335.2L1529.40 1335.3L1529.80 1335.6L1530.20 1335.9L1530.60 1336.2L1531 1336.5L1531.40 1336.8L1531.80 1337.0L1532.20 1337.1L1532.60 1337.0L1533 1336.8L1533.40 1336.5L1533.80 1336.1L1534.20 1335.6L1534.60 1335.2L1535 1334.9L1535.40 1334.8L1535.80 1334.8L1536.20 1334.9L1536.60 1335.0L1537 1335.2L1537.40 1335.4L1537.80 1335.5L1538.20 1335.7L1538.60 1335.9L1539 1336.1L1539.40 1336.2L1539.80 1336.1L1540.20 1336.0L1540.60 1335.8L1541 1335.5L1541.40 1335.3L1541.80 1335.0L1542.20 1334.8L1542.60 1334.8L1543 1334.8L1543.40 1334.9L1543.80 1335.0L1544.20 1335.0L1544.60 1334.9L1545 1334.8L1545.40 1334.5L1545.80 1334.3L1546.20 1334.1L1546.60 1334.1L1547 1334.2L1547.40 1334.6L1547.80 1335.0L1548.20 1335.5L1548.60 1336.0L1549 1336.3L1549.40 1336.6L1549.80 1336.7L1550.20 1336.8L1550.60 1336.7L1551 1336.6L1551.40 1336.4L1551.80 1336.2L1552.20 1336.0L1552.60 1335.8L1553 1335.7L1553.40 1335.6L1553.80 1335.6L1554.20 1335.6L1554.60 1335.6L1555 1335.7L1555.40 1335.7L1555.80 1335.7L1556.20 1335.7L1556.60 1335.7L1557 1335.7L1557.40 1335.6L1557.80 1335.5L1558.20 1335.3L1558.60 1335.2L1559 1335.0L1559.40 1334.9L1559.80 1334.8L1560.20 1334.8L1560.60 1334.9L1561 1335.0L1561.40 1335.1L1561.80 1335.2L1562.20 1335.2L1562.60 1335.2L1563 1335.2L1563.40 1335.3L1563.80 1335.4L1564.20 1335.5L1564.60 1335.7L1565 1335.8L1565.40 1336.0L1565.80 1336.1L1566.20 1336.2L1566.60 1336.2L1567 1336.2L1567.40 1336.2L1567.80 1336.2L1568.20 1336.2L1568.60 1336.2L1569 1336.1L1569.40 1335.9L1569.80 1335.7L1570.20 1335.3L1570.60 1334.8L1571 1334.2L1571.40 1333.6L1571.80 1333.1L1572.20 1332.7L1572.60 1332.4L1573 1332.2L1573.40 1332.1L1573.80 1331.9L1574.20 1331.8L1574.60 1331.6L1575 1331.5L1575.40 1331.4L1575.80 1331.4L1576.20 1331.6L1576.50 1331.9L1576.60 1332.2L1577 1332.5L1577.40 1333.0L1577.80 1333.6L1578.20 1334.2L1578.60 1334.8L1579 1335.4L1579.40 1335.9L1579.80 1336.3L1580.20 1336.5L1580.60 1336.6L1581 1336.6L1581.40 1336.5L1581.80 1336.3L1582.20 1336.2L1582.60 1336.0L1583 1335.9L1583.40 1335.8L1583.80 1335.8L1584.20 1335.8L1584.60 1335.7L1585 1335.7L1585.40 1335.6L1585.80 1335.5L1586.20 1335.4L1586.60 1335.4L1587 1335.4L1587.40 1335.6L1587.80 1335.8L1588.20 1336.0L1588.60 1336.3L1589 1336.4L1589.40 1336.5L1589.80 1336.5L1590.20 1336.5L1590.60 1336.4L1591 1336.3L1591.40 1336.1L1591.80 1335.8L1592.20 1335.5L1592.60 1335.2L1593 1335.0L1593.40 1334.7L1593.80 1334.5L1594.20 1334.4L1594.60 1334.3L1595 1334.2L1595.40 1334.1L1595.80 1334.1L1596.20 1334.0L1596.60 1334.0L1597 1334.1L1597.40 1334.2L1597.80 1334.4L1598.20 1334.8L1598.60 1335.2L1599 1335.6L1599.40 1336.1L1599.80 1336.4L1600.20 1336.5L1600.60 1336.5L1601 1336.2L1601.40 1335.9L1601.80 1335.6L1602.20 1335.3L1602.60 1335.1L1603 1334.8L1603.40 1334.5L1603.80 1334.1L1604.20 1333.6L1604.60 1332.9L1605 1332.0L1605.40 1330.9L1605.80 1329.7L1606.20 1328.2L1606.60 1326.4L1607 1324.4L1607.40 1322.1L1607.80 1320.0L1608.20 1318.3L1608.60 1317.3L1608.80 1317.1L1609 1317.3L1609.40 1318.2L1609.80 1319.9L1610.20 1322.0L1610.60 1324.1L1611 1326.0L1611.40 1327.3L1611.80 1328.1L1612.20 1328.4L1612.60 1328.2L1613 1327.8L1613.40 1327.3L1613.80 1327.0L1614 1326.8L1614.20 1326.7L1614.60 1327.1L1615 1327.8L1615.40 1328.8L1615.80 1329.9L1616.20 1331.0L1616.60 1332.0L1617 1332.8L1617.40 1333.4L1617.80 1333.8L1618.20 1334.1L1618.60 1334.4L1619 1334.8L1619.40 1335.1L1619.80 1335.4L1620.20 1335.7L1620.60 1335.7L1621 1335.6L1621.40 1335.4L1621.80 1335.1L1622.20 1334.8L1622.60 1334.7L1623 1334.8L1623.40 1335.1L1623.80 1335.6L1624.20 1336.2L1624.60 1336.7L1625 1337.2L1625.40 1337.5L1625.80 1337.7L1626.20 1337.6L1626.60 1337.3L1627 1336.8L1627.40 1336.2L1627.80 1335.5L1628.20 1334.9L1628.60 1334.3L1629 1333.8L1629.40 1333.5L1629.80 1333.3L1630.20 1333.2L1630.60 1333.3L1631 1333.5L1631.40 1333.7L1631.80 1334.0L1632.20 1334.3L1632.60 1334.7L1633 1335.0L1633.40 1335.3L1633.80 1335.6L1634.20 1335.9L1634.60 1336.1L1635 1336.2L1635.40 1336.3L1635.80 1336.3L1636.20 1336.3L1636.60 1336.3L1637 1336.2L1637.40 1336.2L1637.80 1336.1L1638.20 1336.0L1638.60 1335.8L1639 1335.6L1639.40 1335.4L1639.80 1335.1L1640.20 1334.9L1640.60 1334.8L1641 1334.7L1641.40 1334.7L1641.80 1334.6L1642.20 1334.6L1642.60 1334.5L1643 1334.4L1643.40 1334.3L1643.80 1334.2L1644.20 1334.1L1644.60 1334.0L1645 1333.9L1645.40 1333.8L1645.80 1333.7L1646.20 1333.7L1646.60 1333.6L1647 1333.6L1647.40 1333.7L1647.80 1333.7L1648.20 1333.7L1648.60 1333.7L1649 1333.6L1649.40 1333.2L1649.80 1332.8L1650.20 1332.1L1650.60 1331.3L1651 1330.4L1651.40 1329.5L1651.80 1328.5L1652.20 1327.5L1652.60 1326.6L1653 1325.9L1653.40 1325.3L1653.80 1324.8L1654.20 1324.7L1654.30 1324.6L1654.60 1324.6L1655 1324.9L1655.40 1325.4L1655.80 1326.1L1656.20 1326.9L1656.60 1327.7L1657 1328.5L1657.40 1329.2L1657.80 1329.8L1658.20 1330.3L1658.60 1330.7L1659 1331.2L1659.40 1331.6L1659.80 1332.0L1660.20 1332.6L1660.60 1333.2L1661 1333.8L1661.40 1334.5L1661.80 1335.1L1662.20 1335.6L1662.60 1335.9L1663 1336.0L1663.40 1336.0L1663.80 1335.8L1664.20 1335.7L1664.60 1335.6L1665 1335.5L1665.40 1335.6L1665.80 1335.6L1666.20 1335.8L1666.60 1336.0L1667 1336.2L1667.40 1336.4L1667.80 1336.6L1668.20 1336.6L1668.60 1336.6L1669 1336.6L1669.40 1336.7L1669.80 1336.8L1670.20 1336.9L1670.60 1337.1L1671 1337.2L1671.40 1337.2L1671.80 1337.2L1672.20 1337.2L1672.60 1337.1L1673 1337.0L1673.40 1336.8L1673.80 1336.5L1674.20 1336.2L1674.60 1336.0L1675 1335.8L1675.40 1335.7L1675.80 1335.7L1676.20 1335.8L1676.60 1335.9L1677 1336.0L1677.40 1336.0L1677.80 1336.0L1678.20 1335.8L1678.60 1335.7L1679 1335.5L1679.40 1335.4L1679.80 1335.4L1680.20 1335.5L1680.60 1335.7L1681 1336.0L1681.40 1336.4L1681.80 1336.7L1682.20 1337.0L1682.60 1337.3L1683 1337.5L1683.40 1337.5L1683.80 1337.5L1684.20 1337.4L1684.60 1337.3L1685 1337.2L1685.40 1337.1L1685.80 1337.1L1686.20 1337.0L1686.60 1337.0L1687 1337.0L1687.40 1337.1L1687.80 1337.2L1688.20 1337.2L1688.60 1337.3L1689 1337.1L1689.40 1336.9L1689.80 1336.5L1690.20 1336.1L1690.60 1335.7L1691 1335.3L1691.40 1335.0L1691.80 1334.7L1692.20 1334.4L1692.60 1334.0L1693 1333.5L1693.40 1333.0L1693.80 1332.3L1694.20 1331.8L1694.60 1331.2L1695 1330.8L1695.40 1330.5L1695.80 1330.3L1696.20 1330.2L1696.60 1330.2L1697 1330.3L1697.40 1330.4L1697.80 1330.6L1698.20 1330.8L1698.60 1331.2L1699 1331.7L1699.40 1332.2L1699.80 1332.7L1700.20 1333.2L1700.60 1333.5L1701 1333.6L1701.40 1333.7L1701.80 1333.6L1702.20 1333.5L1702.60 1333.5L1703 1333.6L1703.40 1333.9L1703.80 1334.3L1704.20 1334.7L1704.60 1335.2L1705 1335.6L1705.40 1335.9L1705.80 1336.0L1706.20 1336.0L1706.60 1335.9L1707 1335.8L1707.40 1335.7L1707.80 1335.7L1708.20 1335.8L1708.60 1336.0L1709 1336.3L1709.40 1336.6L1709.80 1336.9L1710.20 1337.1L1710.60 1337.2L1711 1337.3L1711.40 1337.2L1711.80 1337.1L1712.20 1337.1L1712.60 1337.1L1713 1337.1L1713.40 1337.2L1713.80 1337.4L1714.20 1337.4L1714.60 1337.5L1715 1337.4L1715.40 1337.4L1715.80 1337.4L1716.20 1337.4L1716.60 1337.3L1717 1337.2L1717.40 1337.1L1717.80 1336.8L1718.20 1336.6L1718.60 1336.2L1719 1335.9L1719.40 1335.7L1719.80 1335.6L1720.20 1335.5L1720.60 1335.6L1721 1335.8L1721.40 1336.0L1721.80 1336.2L1722.20 1336.5L1722.60 1336.9L1723 1337.3L1723.40 1337.7L1723.80 1338.1L1724.20 1338.3L1724.60 1338.4L1725 1338.3L1725.40 1338.1L1725.80 1337.8L1726.20 1337.5L1726.60 1337.1L1727 1336.9L1727.40 1336.8L1727.80 1336.8L1728.20 1336.9L1728.60 1337.0L1729 1337.1L1729.40 1337.2L1729.80 1337.2L1730.20 1337.2L1730.60 1337.0L1731 1336.9L1731.40 1336.8L1731.80 1336.6L1732.20 1336.6L1732.60 1336.5L1733 1336.5L1733.40 1336.4L1733.80 1336.4L1734.20 1336.3L1734.60 1336.1L1735 1335.8L1735.40 1335.5L1735.80 1335.1L1736.20 1334.8L1736.60 1334.5L1737 1334.4L1737.40 1334.3L1737.80 1334.2L1738.20 1334.2L1738.60 1334.1L1739 1333.9L1739.40 1333.7L1739.80 1333.2L1740.20 1332.7L1740.60 1331.9L1741 1331.0L1741.40 1329.9L1741.80 1328.8L1742.20 1327.6L1742.60 1326.4L1743 1325.3L1743.40 1324.2L1743.80 1323.2L1744.20 1322.5L1744.60 1322.0L1745 1321.8L1745.40 1321.8L1745.80 1322.3L1746.20 1323.0L1746.60 1323.9L1747 1325.1L1747.40 1326.3L1747.80 1327.7L1748.20 1328.9L1748.60 1330.1L1749 1331.1L1749.40 1331.8L1749.80 1332.3L1750.20 1332.7L1750.60 1333.0L1751 1333.1L1751.40 1333.3L1751.80 1333.5L1752.20 1333.7L1752.60 1333.8L1753 1334.0L1753.40 1334.2L1753.80 1334.4L1754.20 1334.5L1754.60 1334.6L1755 1334.7L1755.40 1334.8L1755.80 1334.9L1756.20 1335.1L1756.60 1335.3L1757 1335.4L1757.40 1335.6L1757.80 1335.6L1758.20 1335.7L1758.60 1335.7L1759 1335.6L1759.40 1335.5L1759.80 1335.5L1760.20 1335.4L1760.60 1335.3L1761 1335.1L1761.40 1334.9L1761.80 1334.7L1762.20 1334.6L1762.60 1334.5L1763 1334.6L1763.40 1334.8L1763.80 1335.1L1764.20 1335.4L1764.60 1335.7L1765 1335.9L1765.40 1336.0L1765.80 1335.9L1766.20 1335.9L1766.60 1335.8L1767 1335.7L1767.40 1335.5L1767.80 1335.2L1768.20 1334.7L1768.60 1334.1L1769 1333.4L1769.40 1332.5L1769.80 1331.5L1770.20 1330.5L1770.60 1329.5L1771 1328.8L1771.40 1328.3L1771.50 1328.1L1771.80 1327.9L1772.20 1328.0L1772.60 1328.4L1773 1329.0L1773.40 1329.7L1773.80 1330.3L1774.20 1330.7L1774.60 1330.9L1775 1330.6L1775.40 1329.8L1775.80 1328.4L1776.20 1326.5L1776.60 1323.9L1777 1321.0L1777.40 1318.1L1777.80 1315.4L1778.20 1313.6L1778.60 1312.9L1779 1313.6L1779.40 1315.5L1779.80 1318.1L1780.20 1321.1L1780.60 1323.9L1781 1326.3L1781.40 1328.1L1781.80 1329.4L1782.20 1330.2L1782.60 1330.6L1783 1330.8L1783.40 1330.6L1783.80 1330.3L1784.20 1329.9L1784.60 1329.5L1785 1329.2L1785.40 1329.1L1785.50 1329.1L1785.80 1329.1L1786.20 1329.5L1786.60 1330.1L1787 1330.8L1787.40 1331.6L1787.80 1332.5L1788.20 1333.2L1788.60 1333.9L1789 1334.4L1789.40 1334.9L1789.80 1335.2L1790.20 1335.3L1790.60 1335.4L1791 1335.5L1791.40 1335.5L1791.80 1335.7L1792.20 1335.9L1792.60 1336.3L1793 1336.7L1793.40 1337.2L1793.80 1337.6L1794.20 1337.9L1794.60 1338.2L1795 1338.3L1795.40 1338.3L1795.80 1338.3L1796.20 1338.1L1796.60 1337.9L1797 1337.6L1797.40 1337.2L1797.80 1336.9L1798.20 1336.6L1798.60 1336.3L1799 1336.2L1799.40 1336.2L1799.80 1336.3L1800.20 1336.4L1800.60 1336.5L1801 1336.6L1801.40 1336.5L1801.80 1336.4L1802.20 1336.2L1802.60 1336.1L1803 1336.0L1803.40 1335.9L1803.80 1335.9L1804.20 1335.9L1804.60 1336.0L1805 1336.0L1805.40 1336.0L1805.80 1336.0L1806.20 1336.0L1806.60 1335.9L1807 1335.8L1807.40 1335.7L1807.80 1335.7L1808.20 1335.9L1808.60 1336.1L1809 1336.4L1809.40 1336.8L1809.80 1337.2L1810.20 1337.5L1810.60 1337.6L1811 1337.7L1811.40 1337.8L1811.80 1337.8L1812.20 1337.8L1812.60 1337.8L1813 1337.7L1813.40 1337.6L1813.80 1337.5L1814.20 1337.4L1814.60 1337.2L1815 1337.2L1815.40 1337.1L1815.80 1337.2L1816.20 1337.3L1816.60 1337.4L1817 1337.4L1817.40 1337.5L1817.80 1337.4L1818.20 1337.3L1818.60 1337.1L1819 1337.0L1819.40 1336.9L1819.80 1336.8L1820.20 1336.8L1820.60 1336.8L1821 1336.7L1821.40 1336.6L1821.80 1336.5L1822.20 1336.3L1822.60 1336.1L1823 1335.9L1823.40 1335.7L1823.80 1335.5L1824.20 1335.3L1824.60 1334.9L1825 1334.5L1825.40 1333.9L1825.80 1333.1L1826.20 1332.3L1826.60 1331.3L1827 1330.4L1827.40 1329.5L1827.80 1328.8L1828.20 1328.3L1828.60 1328.0L1829 1328.0L1829.40 1328.1L1829.80 1328.5L1830.20 1329.0L1830.60 1329.7L1831 1330.3L1831.40 1331.0L1831.80 1331.7L1832.20 1332.3L1832.60 1332.9L1833 1333.4L1833.40 1333.8L1833.80 1334.2L1834.20 1334.6L1834.60 1334.9L1835 1335.2L1835.40 1335.4L1835.80 1335.5L1836.20 1335.6L1836.60 1335.6L1837 1335.6L1837.40 1335.7L1837.80 1336.0L1838.20 1336.4L1838.60 1336.8L1839 1337.3L1839.40 1337.6L1839.80 1337.8L1840.20 1337.8L1840.60 1337.7L1841 1337.6L1841.40 1337.4L1841.80 1337.3L1842.20 1337.2L1842.60 1337.1L1843 1337.2L1843.40 1337.2L1843.80 1337.2L1844.20 1337.1L1844.60 1337.1L1845 1337.0L1845.40 1336.9L1845.80 1336.9L1846.20 1336.8L1846.60 1336.6L1847 1336.5L1847.40 1336.3L1847.80 1336.0L1848.20 1335.8L1848.60 1335.5L1849 1335.3L1849.40 1335.2L1849.80 1335.1L1850.20 1335.0L1850.60 1335.0L1851 1334.9L1851.40 1334.8L1851.80 1334.6L1852.20 1334.3L1852.60 1334.0L1853 1333.6L1853.40 1333.3L1853.80 1333.0L1854.20 1332.9L1854.60 1333.0L1855 1333.2L1855.40 1333.6L1855.80 1334.1L1856.20 1334.6L1856.60 1335.2L1857 1335.6L1857.40 1336.0L1857.80 1336.2L1858.20 1336.4L1858.60 1336.5L1859 1336.5L1859.40 1336.6L1859.80 1336.7L1860.20 1336.9L1860.60 1337.1L1861 1337.3L1861.40 1337.5L1861.80 1337.8L1862.20 1338.0L1862.60 1338.3L1863 1338.5L1863.40 1338.8L1863.80 1338.9L1864.20 1339.1L1864.60 1339.1L1865 1339.1L1865.40 1339.0L1865.80 1338.9L1866.20 1338.7L1866.60 1338.5L1867 1338.4L1867.40 1338.2L1867.80 1337.9L1868.20 1337.8L1868.60 1337.6L1869 1337.5L1869.40 1337.4L1869.80 1337.2L1870.20 1337.1L1870.60 1337.1L1871 1337.0L1871.40 1337.0L1871.80 1337.1L1872.20 1337.2L1872.60 1337.4L1873 1337.5L1873.40 1337.6L1873.80 1337.6L1874.20 1337.6L1874.60 1337.6L1875 1337.7L1875.40 1337.8L1875.80 1337.9L1876.20 1338.2L1876.60 1338.5L1877 1338.9L1877.40 1339.2L1877.80 1339.5L1878.20 1339.7L1878.60 1339.9L1879 1339.9L1879.40 1339.8L1879.80 1339.5L1880.20 1339.1L1880.60 1338.7L1881 1338.3L1881.40 1338.0L1881.80 1337.8L1882.20 1337.6L1882.60 1337.5L1883 1337.5L1883.40 1337.6L1883.80 1337.8L1884.20 1338.0L1884.60 1338.2L1885 1338.4L1885.40 1338.4L1885.80 1338.3L1886.20 1338.1L1886.60 1337.9L1887 1337.6L1887.40 1337.4L1887.80 1337.3L1888.20 1337.2L1888.60 1337.3L1889 1337.4L1889.40 1337.5L1889.80 1337.6L1890.20 1337.7L1890.60 1337.7L1891 1337.7L1891.40 1337.8L1891.80 1337.8L1892.20 1337.9L1892.60 1338.0L1893 1338.1L1893.40 1338.3L1893.80 1338.4L1894.20 1338.5L1894.60 1338.7L1895 1338.8L1895.40 1338.9L1895.80 1338.9L1896.20 1339.0L1896.60 1339.0L1897 1338.9L1897.40 1338.8L1897.80 1338.6L1898.20 1338.6L1898.60 1338.6L1899 1338.7L1899.40 1338.8L1899.80 1339.0L1900.20 1339.2L1900.60 1339.3L1901 1339.4L1901.40 1339.4L1901.80 1339.4L1902.20 1339.3L1902.60 1339.3L1903 1339.2L1903.40 1339.2L1903.80 1339.3L1904.20 1339.3L1904.60 1339.4L1905 1339.5L1905.40 1339.6L1905.80 1339.7L1906.20 1339.7L1906.60 1339.6L1907 1339.4L1907.40 1339.2L1907.80 1338.9L1908.20 1338.6L1908.60 1338.3L1909 1338.2L1909.40 1338.2L1909.80 1338.3L1910.20 1338.5L1910.60 1338.8L1911 1339.2L1911.40 1339.4L1911.80 1339.7" fill="none" stroke="#000" stroke-width="7.1" stroke-linejoin="round" stroke-linecap="round"/>
<rect x="53" y="44.25" width="1860" height="1495.75" fill="none" stroke="#000" stroke-width="6"/>
<path d="M156.7 1538V1525.3M260.1 1538V1509.8M363.4 1538V1525.3M466.7 1538V1509.8M570.1 1538V1525.3M673.4 1538V1509.8M776.7 1538V1525.3M880.1 1538V1509.8M983.4 1538V1525.3M1086.7 1538V1509.8M1190.1 1538V1525.3M1293.4 1538V1509.8M1396.7 1538V1525.3M1500.1 1538V1509.8M1603.4 1538V1525.3M1706.7 1538V1509.8M1810.1 1538V1525.3" stroke="#000" stroke-width="5.6" fill="none"/>
<text class="tk" x="53.0" y="1631">0</text>
<text class="tk" x="259.7" y="1631">10</text>
<text class="tk" x="466.3" y="1631">20</text>
<text class="tk" x="673.0" y="1631">30</text>
<text class="tk" x="879.7" y="1631">40</text>
<text class="tk" x="1086.3" y="1631">50</text>
<text class="tk" x="1293.0" y="1631">60</text>
<text class="tk" x="1499.7" y="1631">70</text>
<text class="tk" x="1706.3" y="1631">80</text>
<text class="tk" x="1913.0" y="1631">90</text>
<text class="ax" x="671" y="1772.5" textLength="623" lengthAdjust="spacing">Two-Theta (deg)</text>
<circle class="o" cx="588.0" cy="937.9" r="19.7"/><circle class="o" cx="588.0" cy="937.9" r="12.4"/>
<circle class="o" cx="815.1" cy="951.3" r="19.7"/><circle class="o" cx="815.1" cy="951.3" r="12.4"/>
<polygon class="o" style="stroke-width:2.0px" points="666.1,756.7 671.1,772.1 687.2,772.1 674.2,781.5 679.2,796.9 666.1,787.4 653.0,796.9 658.0,781.5 645.0,772.1 661.1,772.1"/>
<polygon class="o" style="stroke-width:2.0px" points="769.6,748.7 774.6,764.5 790.7,764.5 777.7,774.2 782.7,790.0 769.6,780.2 756.5,790.0 761.5,774.2 748.5,764.5 764.6,764.5"/>
<polygon class="o" style="stroke-width:2.0px" points="910.6,854.4 915.6,870.0 931.7,870.0 918.7,879.6 923.7,895.2 910.6,885.6 897.5,895.2 902.5,879.6 889.5,870.0 905.6,870.0"/>
<polygon class="o" style="stroke-width:2.0px" points="1226.0,926.1 1231.0,941.1 1247.1,941.1 1234.1,950.4 1239.1,965.4 1226.0,956.1 1212.9,965.4 1217.9,950.4 1204.9,941.1 1221.0,941.1"/>
<rect class="o" x="705.8" y="609.1" width="36.9" height="36.6"/>
<rect class="o" x="1109.4" y="887.2" width="36.6" height="37.7"/>
<rect class="o" x="1326.9" y="921.4" width="37.6" height="37.7"/>
<polygon class="o" style="stroke-width:2px" points="1027.9,925.1 1048.9,962.2 1006.4,962.2"/>
<polygon points="615.5,546.0 621.3,558.2 640.0,558.2 624.9,569.2 630.6,587.0 615.5,576.0 600.4,587.0 606.1,569.2 591.0,558.2 609.7,558.2" fill="#000"/>
<polygon points="496.5,1063.0 502.3,1080.4 520.9,1080.4 505.8,1091.2 511.6,1108.6 496.5,1097.8 481.4,1108.6 487.2,1091.2 472.1,1080.4 490.7,1080.4" fill="#000"/>
<polygon points="825.4,1199.5 831.2,1216.7 849.8,1216.7 834.7,1227.4 840.5,1244.6 825.4,1234.0 810.3,1244.6 816.1,1227.4 801.0,1216.7 819.6,1216.7" fill="#000"/>
<polygon points="1115.0,1163.4 1120.8,1180.8 1139.4,1180.8 1124.3,1191.5 1130.1,1208.9 1115.0,1198.2 1099.9,1208.9 1105.7,1191.5 1090.6,1180.8 1109.2,1180.8" fill="#000"/>
<circle cx="520.2" cy="1240.5" r="18.0" fill="#000"/>
<circle cx="1023.7" cy="1258.0" r="18.0" fill="#000"/>
<circle cx="1322.0" cy="1220.6" r="18.0" fill="#000"/>
<polygon points="646.7,1172.6 668.3,1194.0 646.7,1215.4 625.1,1194.0" fill="#000"/>
<polygon points="891.3,1209.6 912.9,1231.0 891.3,1252.4 869.7,1231.0" fill="#000"/>
<polygon points="1501.8,1195.3 1523.4,1216.7 1501.8,1238.1 1480.2,1216.7" fill="#000"/>
<polygon class="o" style="stroke-width:2.0px" points="1297.0,75.1 1302.0,90.8 1318.0,90.8 1305.0,100.4 1310.0,116.1 1297.0,106.4 1284.0,116.1 1289.0,100.4 1276.0,90.8 1292.0,90.8"/>
<rect class="o" x="1277.4" y="169.4" width="38.7" height="37.7"/>
<circle class="o" cx="1297.0" cy="281.5" r="20.1"/><circle class="o" cx="1297.0" cy="281.5" r="12.8"/>
<polygon class="o" style="stroke-width:2px" points="1296.7,356.0 1317.7,393.5 1275.1,393.5"/>
<text class="lg" x="1325" y="117">-C<tspan class="sub" dy="16">2</tspan><tspan dy="-16">S</tspan></text>
<text class="lg" x="1325" y="208.5">-C<tspan class="sub" dy="16">3</tspan><tspan dy="-16">S</tspan></text>
<text class="lg" x="1325" y="303">-C<tspan class="sub" dy="16">3</tspan><tspan dy="-16">A</tspan></text>
<text class="lg" x="1325" y="394.5" style="letter-spacing:-.4px">-Gypsum</text>
<polygon points="1638.6,80.6 1644.3,97.9 1662.7,97.9 1647.8,108.7 1653.5,126.0 1638.6,115.3 1623.7,126.0 1629.4,108.7 1614.5,97.9 1632.9,97.9" fill="#000"/>
<circle cx="1634.5" cy="198.0" r="19.0" fill="#000"/>
<polygon points="1638.3,267.5 1660.1,289.3 1638.3,311.1 1616.5,289.3" fill="#000"/>
<text class="lg" x="1665" y="124">-SiO<tspan class="sub" dy="16.5">2</tspan></text>
<text class="lg" x="1660" y="216.5">-CaCO<tspan class="sub" dy="16.5">3</tspan></text>
<text class="lg" x="1665" y="310">-Albite</text>
<text class="bl" transform="translate(1584.6,945.5) scale(1.1,1)" textLength="234.1" lengthAdjust="spacing" style="font-size:60.5px;fill:#ff2200;stroke:#ff2200;stroke-width:2.9px">Cement</text>
<text class="bl" x="1657.5" y="1286.5" textLength="136" lengthAdjust="spacingAndGlyphs" style="font-size:60.5px;fill:#000;stroke:#000;stroke-width:3px">RCP</text>
</svg></body></html>
